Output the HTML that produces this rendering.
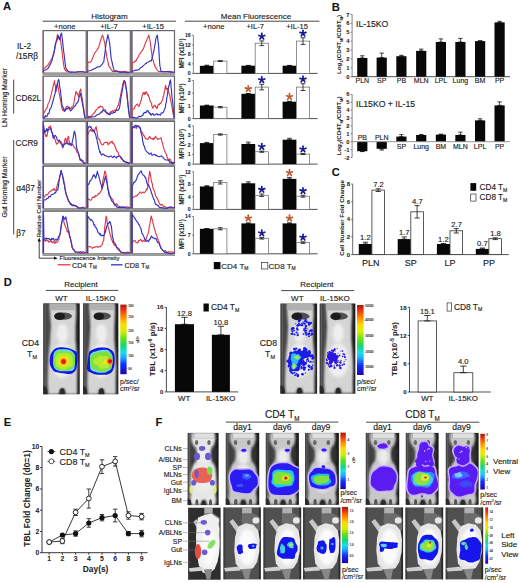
<!DOCTYPE html>
<html><head><meta charset="utf-8"><style>
html,body{margin:0;padding:0;background:#fff;width:520px;height:583px;overflow:hidden}
svg{display:block;font-family:"Liberation Sans", sans-serif}
text{stroke:#222;stroke-width:0.14px}
text[font-weight=bold]{stroke-width:0.05px}
</style></head><body>
<svg width="520" height="583" viewBox="0 0 520 583" font-family='"Liberation Sans", sans-serif'>
<defs><linearGradient id="cbar" x1="0" y1="0" x2="0" y2="1"><stop offset="0" stop-color="#a81808"/><stop offset="0.06" stop-color="#e02a10"/><stop offset="0.16" stop-color="#ff7a00"/><stop offset="0.28" stop-color="#ffd800"/><stop offset="0.38" stop-color="#d8f000"/><stop offset="0.5" stop-color="#58e020"/><stop offset="0.6" stop-color="#10d880"/><stop offset="0.68" stop-color="#18e0e8"/><stop offset="0.76" stop-color="#20a8ff"/><stop offset="0.86" stop-color="#1030ff"/><stop offset="1" stop-color="#2000b0"/></linearGradient><filter id="bl1" x="-20%" y="-20%" width="140%" height="140%"><feGaussianBlur stdDeviation="0.45"/></filter><filter id="bl2" x="-20%" y="-20%" width="140%" height="140%"><feGaussianBlur stdDeviation="0.9"/></filter><filter id="bl3" x="-20%" y="-20%" width="140%" height="140%"><feGaussianBlur stdDeviation="1.6"/></filter><linearGradient id="vbg" x1="0" y1="0" x2="1" y2="0"><stop offset="0" stop-color="#3a3a3a"/><stop offset="0.12" stop-color="#5a5a5a"/><stop offset="0.22" stop-color="#404040"/><stop offset="0.8" stop-color="#2a2a2a"/><stop offset="1" stop-color="#1a1a1a"/></linearGradient><linearGradient id="sbg" x1="0" y1="0" x2="1" y2="0"><stop offset="0" stop-color="#3e3e3e"/><stop offset="0.1" stop-color="#5c5c5c"/><stop offset="0.7" stop-color="#585858"/><stop offset="1" stop-color="#3a3a3a"/></linearGradient><radialGradient id="vbody" cx="0.5" cy="0.45" r="0.6"><stop offset="0" stop-color="#e2e2e2"/><stop offset="0.7" stop-color="#c4c4c4"/><stop offset="1" stop-color="#9a9a9a"/></radialGradient><radialGradient id="sbody" cx="0.55" cy="0.55" r="0.6"><stop offset="0" stop-color="#fafafa"/><stop offset="0.6" stop-color="#e6e6e6"/><stop offset="1" stop-color="#b0b0b0"/></radialGradient></defs>
<defs><clipPath id="cD1"><rect x="43.3" y="303.4" width="36.3" height="90.8"/></clipPath>
<clipPath id="cD2"><rect x="83.0" y="303.4" width="35.3" height="90.8"/></clipPath>
<clipPath id="cD3"><rect x="280.5" y="303.6" width="36.6" height="90.0"/></clipPath>
<clipPath id="cD4"><rect x="319.7" y="303.6" width="35.6" height="90.0"/></clipPath><clipPath id="cFa"><rect x="187.7" y="432.9" width="30.8" height="72.2"/></clipPath>
<clipPath id="cFv0"><rect x="225.8" y="432.9" width="33.4" height="71.9"/></clipPath>
<clipPath id="cFv1"><rect x="265.8" y="432.9" width="33.0" height="71.9"/></clipPath>
<clipPath id="cFv2"><rect x="305.0" y="432.9" width="33.8" height="71.9"/></clipPath>
<clipPath id="cFv3"><rect x="365.8" y="432.9" width="33.4" height="71.9"/></clipPath>
<clipPath id="cFv4"><rect x="405.8" y="432.9" width="32.7" height="71.9"/></clipPath>
<clipPath id="cFv5"><rect x="445.8" y="432.9" width="32.7" height="71.9"/></clipPath>
<clipPath id="cFs"><rect x="188.2" y="507.7" width="32.3" height="72.0"/></clipPath>
<clipPath id="cFs0"><rect x="223.4" y="507.4" width="37.4" height="72.0"/></clipPath>
<clipPath id="cFs1"><rect x="263.4" y="507.4" width="37.8" height="72.0"/></clipPath>
<clipPath id="cFs2"><rect x="303.0" y="507.4" width="37.4" height="72.0"/></clipPath>
<clipPath id="cFs3"><rect x="365.4" y="507.4" width="37.7" height="72.0"/></clipPath>
<clipPath id="cFs4"><rect x="405.4" y="507.4" width="37.8" height="72.0"/></clipPath>
<clipPath id="cFs5"><rect x="445.6" y="507.4" width="37.6" height="72.0"/></clipPath></defs>
<rect width="520" height="583" fill="#fff"/>
<text x="3.0" y="10.2" font-size="11.2" text-anchor="start" font-weight="bold" fill="#111" >A</text>
<text x="109.4" y="19.0" font-size="8" text-anchor="middle" fill="#222" >Histogram</text>
<line x1="42.7" y1="21.2" x2="176" y2="21.2" stroke="#333" stroke-width="0.9"/>
<text x="64.7" y="29.2" font-size="7.6" text-anchor="middle" fill="#222" >+none</text>
<text x="108.9" y="29.2" font-size="7.6" text-anchor="middle" fill="#222" >+IL-7</text>
<text x="153.2" y="29.2" font-size="7.6" text-anchor="middle" fill="#222" >+IL-15</text>
<rect x="43.2" y="30.6" width="43.0" height="42.6" fill="#fff" stroke="#66666c" stroke-width="1.2"/>
<rect x="42.6" y="72.7" width="44.2" height="2.7" fill="#9c9c9c"/>
<line x1="43.2" y1="30.4" x2="43.2" y2="72.7" stroke="#a45a6c" stroke-width="1.3"/>
<polyline points="43.50,72.60 43.50,68.60 44.55,68.21 45.61,67.31 46.66,66.10 47.72,65.40 48.77,63.41 49.83,62.01 50.88,60.19 51.94,58.60 52.68,56.44 53.42,53.36 54.16,51.07 54.89,48.60 55.21,46.90 55.53,45.49 55.84,43.21 56.16,41.40 56.48,39.44 56.79,38.31 57.11,36.44 57.43,34.60 57.74,34.80 58.06,36.09 58.38,36.68 58.69,36.60 59.11,37.37 59.54,37.88 59.96,37.57 60.38,38.20 60.70,41.08 61.01,43.88 61.33,46.22 61.65,48.60 62.07,52.07 62.49,55.12 62.91,59.02 63.33,62.60 63.65,64.43 63.97,66.50 64.28,68.26 64.60,69.40 65.23,69.97 65.87,71.04 66.50,70.91 67.13,71.80 71.77,72.27 76.42,72.06 81.06,71.52 85.70,72.20 85.90,72.60" fill="none" stroke="#dc3a48" stroke-width="1.15" stroke-linejoin="round"/>
<polyline points="43.50,72.60 43.50,70.60 44.55,70.25 45.61,69.89 46.66,69.45 47.72,68.60 48.77,67.13 49.83,64.89 50.88,63.11 51.94,60.60 52.47,58.03 52.99,56.56 53.52,55.13 54.05,52.60 54.37,50.58 54.68,48.68 55.00,45.54 55.32,43.80 55.74,42.96 56.16,41.90 56.58,41.45 57.00,40.60 57.32,39.49 57.64,37.62 57.95,36.66 58.27,35.80 58.59,36.54 58.90,38.30 59.22,39.12 59.54,39.80 59.85,38.09 60.17,37.56 60.49,35.47 60.80,34.60 61.01,34.44 61.22,33.55 61.44,33.10 61.65,33.40 61.96,36.65 62.28,38.65 62.60,41.46 62.91,44.60 63.33,48.68 63.76,52.05 64.18,54.85 64.60,58.60 64.92,61.65 65.23,63.65 65.55,66.31 65.87,68.60 66.60,68.95 67.34,70.53 68.08,70.93 68.82,71.40 69.88,72.16 70.93,72.27 71.98,71.76 73.04,72.20 76.20,72.03 79.37,71.80 82.53,71.77 85.70,72.20 85.90,72.60" fill="none" stroke="#3434c4" stroke-width="1.15" stroke-linejoin="round"/>
<rect x="87.4" y="30.6" width="42.9" height="42.6" fill="#fff" stroke="#66666c" stroke-width="1.2"/>
<rect x="86.8" y="72.7" width="44.1" height="2.7" fill="#9c9c9c"/>
<line x1="87.4" y1="30.4" x2="87.4" y2="72.7" stroke="#7a5a78" stroke-width="1.3"/>
<polyline points="87.70,72.60 87.70,63.00 88.65,62.06 89.59,62.42 90.54,61.82 91.49,61.00 92.33,58.61 93.17,56.79 94.02,54.64 94.86,52.60 95.80,51.58 96.75,50.55 97.70,48.51 98.65,47.80 99.07,45.53 99.49,44.80 99.91,42.62 100.33,41.00 100.86,39.81 101.38,37.40 101.91,36.43 102.44,35.00 102.75,36.17 103.07,36.47 103.38,38.23 103.70,38.60 104.01,40.58 104.33,41.04 104.65,42.53 104.96,44.60 105.38,47.55 105.80,50.93 106.22,53.16 106.65,56.20 107.17,58.36 107.70,61.11 108.22,63.13 108.75,66.20 109.70,67.17 110.64,68.73 111.59,70.09 112.54,71.40 116.85,71.28 121.17,71.48 125.48,71.66 129.80,72.20 130.00,72.60" fill="none" stroke="#dc3a48" stroke-width="1.15" stroke-linejoin="round"/>
<polyline points="87.70,72.60 87.70,71.00 89.49,70.75 91.28,70.19 93.07,69.18 94.86,68.60 96.23,67.71 97.59,66.80 98.96,67.00 100.33,66.20 101.17,65.16 102.01,64.51 102.86,63.05 103.70,62.20 104.01,60.12 104.33,57.13 104.65,55.36 104.96,52.60 105.28,50.38 105.59,47.50 105.91,45.15 106.22,42.60 106.65,40.82 107.07,38.23 107.49,36.66 107.91,34.60 108.33,36.97 108.75,38.32 109.17,40.96 109.59,42.60 110.01,47.02 110.43,51.41 110.86,55.00 111.28,59.40 112.01,61.71 112.75,65.36 113.49,68.17 114.22,70.60 115.49,70.93 116.75,70.91 118.01,71.44 119.28,72.20 121.91,72.36 124.54,71.95 127.17,72.74 129.80,72.20 130.00,72.60" fill="none" stroke="#3434c4" stroke-width="1.15" stroke-linejoin="round"/>
<rect x="131.8" y="30.6" width="42.7" height="42.6" fill="#fff" stroke="#66666c" stroke-width="1.2"/>
<rect x="131.2" y="72.7" width="43.9" height="2.7" fill="#9c9c9c"/>
<line x1="131.8" y1="30.4" x2="131.8" y2="72.7" stroke="#7a5a78" stroke-width="1.3"/>
<polyline points="132.10,72.60 132.10,62.20 133.04,62.55 133.99,62.34 134.93,61.07 135.87,61.40 136.71,59.20 137.55,58.40 138.39,56.58 139.22,54.60 140.17,53.50 141.11,51.77 142.05,50.83 142.99,49.40 143.83,47.43 144.67,45.30 145.51,42.69 146.35,41.00 146.97,39.42 147.60,37.87 148.23,36.77 148.86,35.00 149.17,37.09 149.49,38.54 149.80,39.55 150.12,41.00 150.64,45.13 151.16,49.12 151.69,53.04 152.21,57.80 152.95,59.53 153.68,62.36 154.41,64.48 155.15,67.00 155.98,67.96 156.82,69.67 157.66,70.33 158.50,71.40 162.37,71.67 166.25,71.48 170.12,71.43 174.00,72.20 174.20,72.60" fill="none" stroke="#dc3a48" stroke-width="1.15" stroke-linejoin="round"/>
<polyline points="132.10,72.60 132.10,71.40 133.88,70.69 135.66,69.98 137.44,70.08 139.22,69.40 140.58,67.69 141.95,67.04 143.31,65.64 144.67,64.60 145.51,63.47 146.35,63.41 147.18,62.24 148.02,62.20 148.86,61.82 149.70,61.08 150.54,60.81 151.37,61.00 152.00,58.41 152.63,56.39 153.26,53.05 153.89,51.00 154.41,47.37 154.94,44.55 155.46,41.64 155.98,37.80 156.30,37.19 156.61,36.28 156.93,36.27 157.24,35.00 157.55,36.86 157.87,40.23 158.18,41.95 158.50,44.60 158.81,49.17 159.13,54.14 159.44,59.37 159.75,64.60 160.07,66.68 160.38,67.62 160.70,69.80 161.01,71.40 164.26,71.77 167.51,71.65 170.75,72.06 174.00,72.20 174.20,72.60" fill="none" stroke="#3434c4" stroke-width="1.15" stroke-linejoin="round"/>
<rect x="43.2" y="76.2" width="43.0" height="42.6" fill="#fff" stroke="#66666c" stroke-width="1.2"/>
<rect x="42.6" y="118.3" width="44.2" height="2.7" fill="#9c9c9c"/>
<line x1="43.2" y1="76.0" x2="43.2" y2="118.3" stroke="#a45a6c" stroke-width="1.3"/>
<polyline points="43.50,118.20 43.50,113.80 44.45,112.26 45.40,110.24 46.35,108.88 47.30,107.00 48.14,103.72 48.99,102.52 49.83,99.94 50.67,96.60 51.20,94.85 51.73,91.62 52.26,90.35 52.78,88.20 53.21,85.90 53.63,83.82 54.05,83.54 54.47,80.60 54.89,84.44 55.32,84.95 55.74,89.53 56.16,91.40 56.48,89.54 56.79,86.93 57.11,84.60 57.43,83.00 57.95,86.40 58.48,88.90 59.01,92.43 59.54,95.00 60.17,98.77 60.80,100.96 61.44,105.82 62.07,108.60 62.70,110.21 63.33,110.68 63.97,110.36 64.60,110.60 65.34,108.45 66.08,107.26 66.82,106.46 67.55,106.20 68.29,107.81 69.03,106.95 69.77,107.69 70.51,108.60 71.25,108.72 71.99,106.57 72.72,106.31 73.46,105.40 74.09,101.75 74.73,97.40 75.36,95.09 75.99,91.40 76.63,93.49 77.26,93.21 77.89,94.67 78.53,96.60 79.05,94.50 79.58,91.73 80.11,90.89 80.64,89.00 81.16,92.93 81.69,95.76 82.22,98.68 82.75,101.80 83.27,106.52 83.80,108.79 84.33,113.65 84.86,117.40 85.90,118.20" fill="none" stroke="#dc3a48" stroke-width="1.15" stroke-linejoin="round"/>
<polyline points="43.50,118.20 43.50,117.40 44.45,118.07 45.40,115.48 46.35,116.74 47.30,115.80 48.14,113.21 48.99,113.32 49.83,109.29 50.67,108.60 51.62,106.07 52.57,102.22 53.52,99.22 54.47,95.00 55.00,94.05 55.53,90.20 56.05,88.33 56.58,86.60 57.11,85.28 57.64,82.50 58.16,80.66 58.69,79.40 59.11,81.38 59.54,85.42 59.96,88.06 60.38,89.80 60.80,94.38 61.22,96.96 61.65,102.48 62.07,105.40 62.70,106.93 63.33,107.78 63.97,109.80 64.60,111.40 65.55,110.32 66.50,108.63 67.45,108.85 68.40,107.80 69.03,108.18 69.66,109.36 70.30,110.89 70.93,110.60 71.77,109.83 72.62,108.18 73.46,108.14 74.31,106.20 75.36,105.84 76.42,103.18 77.47,102.72 78.53,100.20 79.05,97.39 79.58,95.97 80.11,94.35 80.64,93.40 81.16,97.41 81.69,99.84 82.22,102.90 82.75,105.40 83.27,107.91 83.80,111.39 84.33,115.29 84.86,117.40 85.90,118.20" fill="none" stroke="#3434c4" stroke-width="1.15" stroke-linejoin="round"/>
<rect x="87.4" y="76.2" width="42.9" height="42.6" fill="#fff" stroke="#66666c" stroke-width="1.2"/>
<rect x="86.8" y="118.3" width="44.1" height="2.7" fill="#9c9c9c"/>
<line x1="87.4" y1="76.0" x2="87.4" y2="118.3" stroke="#7a5a78" stroke-width="1.3"/>
<polyline points="87.70,118.20 87.70,116.60 88.65,116.29 89.59,116.34 90.54,116.98 91.49,115.80 92.33,114.82 93.17,114.02 94.02,113.30 94.86,112.20 95.80,110.17 96.75,109.63 97.70,108.60 98.65,107.00 99.49,107.67 100.33,106.07 101.17,106.55 102.01,107.00 102.65,106.76 103.28,109.11 103.91,109.54 104.54,109.80 105.38,109.75 106.22,112.91 107.07,113.87 107.91,113.80 108.75,113.75 109.59,113.27 110.43,111.81 111.28,112.20 112.43,110.68 113.59,111.47 114.75,109.99 115.91,110.60 116.54,108.59 117.17,107.41 117.80,105.62 118.43,105.40 119.06,102.32 119.70,99.26 120.33,97.19 120.96,93.40 121.49,90.84 122.01,88.52 122.54,85.60 123.06,83.00 123.49,82.97 123.91,82.10 124.33,81.29 124.75,81.40 125.17,84.64 125.59,86.74 126.01,88.48 126.43,89.80 126.96,95.48 127.48,99.78 128.01,104.78 128.54,110.60 128.85,111.81 129.17,113.01 129.48,116.31 129.80,117.40 130.00,118.20" fill="none" stroke="#dc3a48" stroke-width="1.15" stroke-linejoin="round"/>
<polyline points="87.70,118.20 87.70,117.80 89.49,117.18 91.28,117.16 93.07,116.71 94.86,116.60 96.23,115.58 97.59,114.59 98.96,114.26 100.33,113.00 101.17,111.85 102.01,112.11 102.86,110.07 103.70,110.60 104.96,111.14 106.22,112.22 107.49,112.78 108.75,114.60 110.01,114.56 111.28,112.96 112.54,113.47 113.80,112.20 115.17,112.35 116.54,109.83 117.91,110.41 119.28,108.60 119.91,105.51 120.54,101.39 121.17,96.11 121.80,93.40 122.33,90.10 122.85,87.29 123.38,83.33 123.91,80.60 124.33,80.57 124.75,81.36 125.17,81.84 125.59,83.00 126.01,87.06 126.43,89.45 126.85,93.02 127.27,96.60 127.70,101.23 128.12,106.23 128.54,109.02 128.96,113.80 129.17,113.65 129.38,116.69 129.59,117.26 129.80,117.40 130.00,118.20" fill="none" stroke="#3434c4" stroke-width="1.15" stroke-linejoin="round"/>
<rect x="131.8" y="76.2" width="42.7" height="42.6" fill="#fff" stroke="#66666c" stroke-width="1.2"/>
<rect x="131.2" y="118.3" width="43.9" height="2.7" fill="#9c9c9c"/>
<line x1="131.8" y1="76.0" x2="131.8" y2="118.3" stroke="#7a5a78" stroke-width="1.3"/>
<polyline points="132.10,118.20 132.10,109.00 132.62,108.84 133.15,109.16 133.67,109.08 134.20,108.60 134.93,106.68 135.66,105.27 136.39,105.01 137.13,104.20 137.65,104.18 138.18,105.91 138.70,106.14 139.22,106.20 139.85,104.33 140.48,102.13 141.11,100.27 141.74,97.80 142.16,95.68 142.58,95.06 142.99,93.12 143.41,92.60 143.83,93.93 144.25,92.39 144.67,94.53 145.09,94.20 145.40,92.62 145.72,93.43 146.03,92.03 146.35,91.80 146.97,92.88 147.60,95.19 148.23,94.59 148.86,97.00 149.38,97.39 149.91,100.75 150.43,101.22 150.96,102.60 151.48,103.06 152.00,106.52 152.53,107.83 153.05,108.20 153.47,106.61 153.89,106.62 154.31,105.26 154.73,105.40 155.25,105.77 155.77,107.28 156.30,107.03 156.82,108.60 157.34,107.95 157.87,105.37 158.39,104.54 158.92,104.20 159.34,104.73 159.75,103.57 160.17,103.41 160.59,103.40 161.12,102.72 161.64,101.55 162.16,100.43 162.69,99.80 163.11,96.62 163.53,96.12 163.94,94.58 164.36,91.40 164.68,91.00 164.99,88.78 165.31,86.57 165.62,85.40 165.83,86.09 166.04,87.84 166.25,88.80 166.46,89.40 166.77,88.31 167.09,88.39 167.40,88.49 167.72,88.60 168.13,90.03 168.55,92.11 168.97,92.80 169.39,94.20 169.91,95.61 170.44,99.94 170.96,101.54 171.49,104.20 171.91,106.74 172.32,108.56 172.74,111.53 173.16,114.20 174.20,118.20" fill="none" stroke="#dc3a48" stroke-width="1.15" stroke-linejoin="round"/>
<polyline points="132.10,118.20 132.10,117.40 133.67,117.35 135.24,117.91 136.81,118.16 138.39,117.00 139.33,116.12 140.27,116.81 141.21,116.27 142.16,115.40 142.89,115.17 143.62,113.30 144.36,112.51 145.09,113.00 145.72,112.13 146.35,112.37 146.97,110.63 147.60,110.60 148.02,111.10 148.44,111.18 148.86,112.90 149.28,112.60 149.91,114.12 150.54,113.37 151.16,115.25 151.79,114.60 152.84,113.49 153.89,115.12 154.94,115.16 155.98,114.20 156.93,113.50 157.87,114.87 158.81,114.64 159.75,114.60 160.49,115.15 161.22,112.93 161.95,113.19 162.69,112.60 163.32,112.38 163.94,110.72 164.57,108.86 165.20,108.20 165.72,103.94 166.25,102.61 166.77,98.24 167.30,95.00 167.61,94.04 167.92,89.98 168.24,89.42 168.55,86.60 168.97,85.82 169.39,84.57 169.81,80.99 170.23,80.60 170.33,80.41 170.44,79.77 170.54,81.48 170.65,81.00 170.86,83.27 171.07,87.26 171.28,88.51 171.49,91.40 171.91,95.93 172.32,100.05 172.74,102.50 173.16,107.00 173.27,108.53 173.37,110.85 173.48,111.26 173.58,112.60 174.20,118.20" fill="none" stroke="#3434c4" stroke-width="1.15" stroke-linejoin="round"/>
<rect x="43.2" y="121.4" width="43.0" height="42.6" fill="#fff" stroke="#66666c" stroke-width="1.2"/>
<rect x="42.6" y="163.5" width="44.2" height="2.7" fill="#9c9c9c"/>
<line x1="43.2" y1="121.2" x2="43.2" y2="163.5" stroke="#4040c0" stroke-width="1.3"/>
<polyline points="43.50,163.40 43.50,128.60 44.03,131.23 44.55,132.43 45.08,134.31 45.61,135.40 45.93,136.53 46.24,135.25 46.56,136.31 46.88,136.20 47.19,135.23 47.51,133.26 47.83,130.67 48.14,128.60 48.67,127.14 49.20,127.00 49.72,127.64 50.25,125.80 50.78,126.79 51.31,129.18 51.83,132.54 52.36,133.40 53.10,134.98 53.84,136.13 54.58,138.08 55.32,140.20 55.63,142.14 55.95,141.82 56.27,143.03 56.58,144.20 57.22,143.69 57.85,143.30 58.48,141.78 59.11,141.00 59.54,140.74 59.96,142.57 60.38,142.03 60.80,143.80 61.33,143.87 61.86,145.09 62.38,147.24 62.91,147.80 63.55,144.90 64.18,143.44 64.81,139.83 65.44,138.20 65.76,138.52 66.08,139.50 66.39,142.27 66.71,143.00 67.13,142.13 67.55,138.96 67.98,137.30 68.40,136.20 68.71,137.28 69.03,140.93 69.35,142.34 69.66,145.00 70.19,143.86 70.72,144.74 71.25,144.33 71.77,143.80 72.30,144.38 72.83,144.40 73.36,146.22 73.88,146.60 74.52,147.73 75.15,148.45 75.78,148.83 76.42,150.60 76.94,152.29 77.47,152.84 78.00,153.14 78.53,153.40 78.95,156.24 79.37,156.98 79.79,158.14 80.21,160.20 81.27,160.02 82.32,161.85 83.38,162.34 84.43,163.00 85.90,163.40" fill="none" stroke="#dc3a48" stroke-width="1.15" stroke-linejoin="round"/>
<polyline points="43.50,163.40 43.50,125.00 43.82,126.62 44.13,129.78 44.45,131.49 44.77,132.60 45.19,131.14 45.61,131.85 46.03,130.51 46.45,129.40 46.88,128.65 47.30,131.04 47.72,129.74 48.14,130.60 48.67,129.55 49.20,129.23 49.72,129.00 50.25,128.20 50.78,128.44 51.31,130.83 51.83,132.26 52.36,132.60 52.57,134.03 52.78,136.08 53.00,137.09 53.21,138.20 53.73,138.25 54.26,136.07 54.79,135.77 55.32,135.40 55.95,136.53 56.58,136.89 57.22,140.09 57.85,140.20 58.59,140.91 59.33,140.08 60.06,141.59 60.80,141.80 61.33,142.80 61.86,143.49 62.38,144.62 62.91,146.60 63.65,145.61 64.39,143.81 65.13,144.05 65.87,143.00 66.60,143.23 67.34,142.54 68.08,144.46 68.82,143.80 69.56,143.04 70.30,143.65 71.04,145.43 71.77,145.00 72.20,142.16 72.62,140.43 73.04,138.54 73.46,136.20 73.67,134.75 73.88,133.59 74.09,132.31 74.31,131.00 74.62,132.06 74.94,132.18 75.26,135.03 75.57,135.40 75.78,137.70 75.99,139.96 76.20,143.59 76.42,146.60 76.94,149.02 77.47,150.30 78.00,151.60 78.53,153.40 78.95,155.05 79.37,156.16 79.79,158.77 80.21,160.20 80.74,160.06 81.27,159.60 81.80,159.95 82.32,161.00 82.85,160.56 83.38,162.42 83.91,163.38 84.43,163.00 85.90,163.40" fill="none" stroke="#3434c4" stroke-width="1.15" stroke-linejoin="round"/>
<rect x="87.4" y="121.4" width="42.9" height="42.6" fill="#fff" stroke="#66666c" stroke-width="1.2"/>
<rect x="86.8" y="163.5" width="44.1" height="2.7" fill="#9c9c9c"/>
<line x1="87.4" y1="121.2" x2="87.4" y2="163.5" stroke="#505080" stroke-width="1.3"/>
<polyline points="87.70,163.40 87.70,135.40 88.12,133.33 88.54,133.24 88.96,131.81 89.38,130.20 89.91,130.15 90.44,129.55 90.96,130.87 91.49,130.20 92.23,131.31 92.96,131.03 93.70,131.41 94.44,131.80 94.86,129.89 95.28,128.06 95.70,127.60 96.12,126.60 96.65,129.90 97.17,131.81 97.70,136.58 98.23,139.00 98.65,138.78 99.07,139.19 99.49,139.15 99.91,140.60 100.54,142.84 101.17,143.35 101.80,144.76 102.44,145.00 103.38,144.57 104.33,142.53 105.28,142.51 106.22,142.20 106.86,142.69 107.49,142.32 108.12,144.74 108.75,144.20 109.49,143.20 110.22,142.01 110.96,142.83 111.70,141.40 112.33,141.24 112.96,143.78 113.59,143.39 114.22,144.20 114.85,146.02 115.49,147.24 116.12,149.26 116.75,151.00 117.49,151.58 118.22,152.54 118.96,155.74 119.70,156.20 120.43,156.49 121.17,158.64 121.91,158.23 122.64,159.80 123.48,161.38 124.33,161.71 125.17,161.89 126.01,161.80 126.85,162.70 127.70,162.59 128.54,163.23 129.38,163.00 130.00,163.40" fill="none" stroke="#dc3a48" stroke-width="1.15" stroke-linejoin="round"/>
<polyline points="87.70,163.40 87.70,128.20 88.23,128.37 88.75,126.72 89.28,126.32 89.81,126.60 90.44,127.43 91.07,126.78 91.70,129.04 92.33,129.00 93.07,130.71 93.80,130.15 94.54,132.72 95.28,133.40 95.70,134.81 96.12,136.51 96.54,138.64 96.96,139.00 97.49,142.72 98.01,143.99 98.54,147.59 99.07,149.40 99.49,151.16 99.91,152.69 100.33,151.62 100.75,153.80 101.70,155.21 102.65,153.96 103.59,154.15 104.54,155.40 105.91,155.82 107.28,156.58 108.64,157.05 110.01,156.20 111.38,156.19 112.75,157.55 114.12,156.02 115.49,157.40 116.33,158.18 117.17,156.32 118.01,156.60 118.85,156.20 119.59,156.04 120.33,156.55 121.06,157.17 121.80,159.00 122.85,159.93 123.91,160.54 124.96,161.83 126.01,161.80 126.85,162.91 127.70,162.22 128.54,163.50 129.38,163.00 130.00,163.40" fill="none" stroke="#3434c4" stroke-width="1.15" stroke-linejoin="round"/>
<rect x="131.8" y="121.4" width="42.7" height="42.6" fill="#fff" stroke="#66666c" stroke-width="1.2"/>
<rect x="131.2" y="163.5" width="43.9" height="2.7" fill="#9c9c9c"/>
<line x1="131.8" y1="121.2" x2="131.8" y2="163.5" stroke="#505080" stroke-width="1.3"/>
<polyline points="132.10,163.40 132.10,126.60 132.94,127.85 133.78,126.17 134.61,126.10 135.45,127.40 136.39,128.35 137.34,126.27 138.28,125.93 139.22,126.60 139.85,128.25 140.48,128.84 141.11,131.40 141.74,131.80 142.47,132.48 143.20,135.46 143.94,135.28 144.67,137.00 145.30,137.73 145.93,138.99 146.56,138.93 147.18,139.00 147.92,139.47 148.65,138.48 149.38,136.46 150.12,137.00 150.85,138.58 151.58,138.61 152.32,138.66 153.05,139.80 153.68,138.19 154.31,138.80 154.94,137.29 155.56,136.20 156.30,137.91 157.03,138.23 157.76,139.36 158.50,139.00 159.13,138.85 159.75,138.86 160.38,138.36 161.01,137.80 161.43,138.84 161.85,142.05 162.27,142.17 162.69,144.20 163.42,147.05 164.15,149.65 164.89,151.15 165.62,153.00 166.35,153.88 167.09,157.15 167.82,158.49 168.55,159.80 168.97,159.18 169.39,158.96 169.81,160.17 170.23,160.20 170.75,159.72 171.28,162.38 171.80,162.01 172.32,162.60 174.20,163.40" fill="none" stroke="#dc3a48" stroke-width="1.15" stroke-linejoin="round"/>
<polyline points="132.10,163.40 132.10,127.40 132.73,127.54 133.36,127.46 133.99,127.85 134.61,126.60 135.24,125.70 135.87,125.20 136.50,126.75 137.13,125.80 137.86,125.82 138.59,126.31 139.33,127.72 140.06,127.40 140.48,128.67 140.90,132.34 141.32,133.38 141.74,135.40 142.26,137.01 142.78,141.56 143.31,143.37 143.83,145.80 144.46,146.13 145.09,149.18 145.72,150.33 146.35,151.00 147.29,152.25 148.23,152.76 149.17,154.23 150.12,153.80 151.06,152.88 152.00,155.29 152.95,154.73 153.89,154.60 154.83,154.43 155.77,155.66 156.72,155.43 157.66,156.20 158.50,156.55 159.34,156.67 160.17,156.26 161.01,156.20 161.64,155.78 162.27,156.95 162.90,157.24 163.53,158.20 164.57,159.17 165.62,159.99 166.67,160.03 167.72,159.80 168.34,160.57 168.97,160.44 169.60,162.38 170.23,162.60 171.17,162.16 172.11,163.94 173.06,162.15 174.00,163.00 174.20,163.40" fill="none" stroke="#3434c4" stroke-width="1.15" stroke-linejoin="round"/>
<rect x="43.2" y="166.2" width="43.0" height="42.6" fill="#fff" stroke="#66666c" stroke-width="1.2"/>
<rect x="42.6" y="208.3" width="44.2" height="2.7" fill="#9c9c9c"/>
<line x1="43.2" y1="166.0" x2="43.2" y2="208.3" stroke="#4040c0" stroke-width="1.3"/>
<polyline points="43.50,208.20 43.50,197.40 44.34,196.89 45.19,195.72 46.03,194.52 46.88,195.00 47.93,194.35 48.99,192.33 50.04,191.44 51.10,191.00 51.73,190.16 52.36,190.13 53.00,190.32 53.63,188.60 54.26,188.81 54.89,190.34 55.53,190.63 56.16,189.80 56.90,186.71 57.64,183.82 58.38,181.52 59.11,179.80 59.64,178.29 60.17,175.43 60.70,173.86 61.22,170.60 61.65,173.29 62.07,174.16 62.49,175.48 62.91,177.00 63.65,179.91 64.39,183.70 65.13,189.40 65.87,192.60 66.50,194.90 67.13,197.00 67.77,198.45 68.40,200.20 69.35,201.80 70.30,202.92 71.25,204.71 72.20,205.00 73.57,204.61 74.94,205.99 76.31,206.06 77.68,207.00 79.37,207.96 81.06,208.27 82.75,207.03 84.43,207.80 85.90,208.20" fill="none" stroke="#dc3a48" stroke-width="1.15" stroke-linejoin="round"/>
<polyline points="43.50,208.20 43.50,200.20 44.34,199.91 45.19,199.98 46.03,199.57 46.88,198.60 47.93,198.54 48.99,196.31 50.04,196.97 51.10,195.00 52.05,194.55 53.00,194.37 53.94,193.79 54.89,192.60 55.63,192.89 56.37,190.68 57.11,190.19 57.85,189.80 58.27,187.10 58.69,183.60 59.11,180.78 59.54,177.00 59.96,175.09 60.38,174.85 60.80,171.08 61.22,170.60 61.65,173.01 62.07,174.11 62.49,175.21 62.91,178.20 63.65,182.50 64.39,184.97 65.13,189.29 65.87,193.80 66.50,195.30 67.13,196.81 67.77,198.73 68.40,201.40 69.35,201.52 70.30,204.40 71.25,203.74 72.20,205.80 74.20,205.52 76.20,205.83 78.21,208.24 80.21,207.80 85.90,208.20" fill="none" stroke="#3434c4" stroke-width="1.15" stroke-linejoin="round"/>
<rect x="87.4" y="166.2" width="42.9" height="42.6" fill="#fff" stroke="#66666c" stroke-width="1.2"/>
<rect x="86.8" y="208.3" width="44.1" height="2.7" fill="#9c9c9c"/>
<line x1="87.4" y1="166.0" x2="87.4" y2="208.3" stroke="#505080" stroke-width="1.3"/>
<polyline points="87.70,208.20 87.70,200.20 88.44,199.08 89.17,199.31 89.91,199.95 90.65,200.20 91.38,199.92 92.12,197.97 92.86,197.21 93.59,197.40 94.23,196.38 94.86,197.19 95.49,195.39 96.12,195.80 96.86,195.85 97.59,195.17 98.33,193.46 99.07,193.80 99.70,193.08 100.33,192.08 100.96,191.20 101.59,190.60 102.12,188.24 102.65,182.66 103.17,179.00 103.70,176.60 104.01,176.21 104.33,173.58 104.65,171.71 104.96,171.00 105.28,171.61 105.59,172.69 105.91,175.05 106.22,175.00 106.65,177.73 107.07,181.15 107.49,185.40 107.91,188.60 108.64,190.91 109.38,194.04 110.12,195.98 110.86,197.40 111.80,198.57 112.75,199.72 113.70,202.67 114.64,203.40 115.70,205.22 116.75,203.72 117.80,206.04 118.85,206.20 121.59,207.45 124.33,207.35 127.06,206.75 129.80,207.80 130.00,208.20" fill="none" stroke="#dc3a48" stroke-width="1.15" stroke-linejoin="round"/>
<polyline points="87.70,208.20 87.70,185.40 88.23,183.91 88.75,184.31 89.28,183.16 89.81,181.00 90.54,180.86 91.28,179.47 92.02,178.56 92.75,176.60 93.17,175.05 93.59,176.09 94.02,174.82 94.44,175.00 94.75,176.33 95.07,176.44 95.38,177.54 95.70,178.20 96.12,176.50 96.54,174.78 96.96,173.55 97.38,171.00 98.01,174.41 98.65,175.24 99.28,178.60 99.91,180.20 100.44,183.20 100.96,184.15 101.49,185.63 102.01,188.60 102.54,186.89 103.07,185.81 103.59,183.56 104.12,181.80 104.43,179.77 104.75,179.67 105.07,177.50 105.38,176.60 105.80,179.19 106.22,179.24 106.65,181.92 107.07,183.40 107.49,185.74 107.91,189.72 108.33,190.37 108.75,193.80 109.49,196.47 110.22,197.21 110.96,198.91 111.70,201.00 112.64,201.43 113.59,203.19 114.54,205.29 115.49,205.40 116.75,207.05 118.01,207.41 119.28,207.16 120.54,207.40 122.85,206.89 125.17,207.62 127.48,208.04 129.80,207.80 130.00,208.20" fill="none" stroke="#3434c4" stroke-width="1.15" stroke-linejoin="round"/>
<rect x="131.8" y="166.2" width="42.7" height="42.6" fill="#fff" stroke="#66666c" stroke-width="1.2"/>
<rect x="131.2" y="208.3" width="43.9" height="2.7" fill="#9c9c9c"/>
<line x1="131.8" y1="166.0" x2="131.8" y2="208.3" stroke="#505080" stroke-width="1.3"/>
<polyline points="132.10,208.20 132.10,199.00 133.15,197.23 134.20,196.74 135.24,196.15 136.29,195.80 137.02,196.02 137.76,194.39 138.49,194.21 139.22,193.00 140.06,191.88 140.90,192.62 141.74,193.19 142.58,192.20 143.31,192.05 144.04,192.82 144.77,192.48 145.51,191.40 146.03,190.40 146.56,188.85 147.08,189.89 147.60,188.60 147.92,184.74 148.23,181.47 148.55,180.13 148.86,176.60 149.07,176.09 149.28,174.77 149.49,173.74 149.70,171.40 150.01,172.41 150.33,173.84 150.64,175.63 150.96,178.20 151.48,181.90 152.00,182.51 152.53,185.22 153.05,188.60 153.68,189.30 154.31,191.16 154.94,192.94 155.56,195.80 156.51,197.36 157.45,198.83 158.39,201.06 159.34,203.40 160.70,205.19 162.06,204.24 163.42,206.52 164.78,206.60 167.09,207.45 169.39,207.36 171.70,207.67 174.00,207.80 174.20,208.20" fill="none" stroke="#dc3a48" stroke-width="1.15" stroke-linejoin="round"/>
<polyline points="132.10,208.20 132.10,185.40 132.94,184.72 133.78,182.26 134.61,182.37 135.45,181.00 136.08,180.29 136.71,178.77 137.34,176.53 137.97,175.00 138.70,174.30 139.43,172.70 140.17,172.06 140.90,171.00 141.42,171.10 141.95,173.42 142.47,174.23 142.99,175.00 143.62,175.10 144.25,175.92 144.88,177.34 145.51,177.40 146.03,178.97 146.56,181.86 147.08,183.58 147.60,184.20 148.02,185.68 148.44,184.66 148.86,185.32 149.28,187.00 149.70,187.41 150.12,188.48 150.54,190.17 150.96,190.60 151.48,193.05 152.00,194.14 152.53,196.02 153.05,197.40 153.68,199.27 154.31,199.73 154.94,202.56 155.56,204.20 156.51,204.34 157.45,205.61 158.39,205.47 159.34,207.40 163.00,207.86 166.67,208.54 170.33,206.71 174.00,207.80 174.20,208.20" fill="none" stroke="#3434c4" stroke-width="1.15" stroke-linejoin="round"/>
<rect x="43.2" y="211.2" width="43.0" height="42.6" fill="#fff" stroke="#66666c" stroke-width="1.2"/>
<rect x="42.6" y="253.3" width="44.2" height="2.7" fill="#9c9c9c"/>
<line x1="43.2" y1="211.0" x2="43.2" y2="253.3" stroke="#4040c0" stroke-width="1.3"/>
<polyline points="43.50,253.20 43.50,240.00 44.45,240.10 45.40,241.27 46.35,239.52 47.30,240.80 48.04,240.50 48.78,242.26 49.51,241.78 50.25,241.60 50.89,240.85 51.52,241.45 52.15,242.77 52.78,242.00 53.42,242.06 54.05,241.32 54.68,243.51 55.32,242.80 55.95,241.65 56.58,242.52 57.22,242.18 57.85,241.60 58.38,239.91 58.90,239.46 59.43,236.06 59.96,235.20 60.38,232.64 60.80,228.71 61.22,227.87 61.65,224.00 61.96,221.18 62.28,220.03 62.60,218.77 62.91,216.00 63.23,218.58 63.55,218.47 63.86,221.97 64.18,222.80 64.60,224.79 65.02,224.78 65.44,226.99 65.87,227.60 66.18,227.97 66.50,228.80 66.82,229.82 67.13,231.60 67.55,231.16 67.98,232.35 68.40,231.51 68.82,231.60 69.24,234.52 69.66,236.11 70.09,236.33 70.51,238.80 70.93,240.85 71.35,242.20 71.77,245.59 72.20,247.60 72.93,248.95 73.67,250.00 74.41,249.95 75.15,252.00 77.79,252.46 80.43,251.51 83.06,253.38 85.70,252.80 85.90,253.20" fill="none" stroke="#dc3a48" stroke-width="1.15" stroke-linejoin="round"/>
<polyline points="43.50,253.20 43.50,215.20 43.61,220.88 43.71,227.57 43.82,232.84 43.92,240.00 44.77,239.33 45.61,238.42 46.45,237.98 47.30,238.80 48.04,238.60 48.78,238.52 49.51,239.27 50.25,240.00 50.89,240.26 51.52,238.33 52.15,239.39 52.78,238.80 53.42,238.26 54.05,240.08 54.68,240.25 55.32,240.00 55.95,239.04 56.58,240.20 57.22,239.60 57.85,238.80 58.38,236.62 58.90,236.19 59.43,235.66 59.96,234.00 60.38,232.17 60.80,227.65 61.22,225.03 61.65,222.80 61.96,221.93 62.28,220.86 62.60,217.37 62.91,216.80 63.33,216.46 63.76,218.58 64.18,218.18 64.60,219.20 64.92,218.34 65.23,218.87 65.55,217.97 65.87,216.80 66.18,218.67 66.50,220.65 66.82,221.83 67.13,222.80 67.45,225.41 67.77,226.93 68.08,228.71 68.40,230.40 68.93,231.49 69.45,235.54 69.98,237.65 70.51,238.80 70.93,240.66 71.35,243.49 71.77,244.29 72.20,247.60 72.93,248.70 73.67,250.08 74.41,250.43 75.15,252.00 77.79,252.00 80.43,253.17 83.06,251.78 85.70,252.80 85.90,253.20" fill="none" stroke="#3434c4" stroke-width="1.15" stroke-linejoin="round"/>
<rect x="87.4" y="211.2" width="42.9" height="42.6" fill="#fff" stroke="#66666c" stroke-width="1.2"/>
<rect x="86.8" y="253.3" width="44.1" height="2.7" fill="#9c9c9c"/>
<line x1="87.4" y1="211.0" x2="87.4" y2="253.3" stroke="#505080" stroke-width="1.3"/>
<polyline points="87.70,253.20 87.70,246.80 88.65,246.73 89.59,246.58 90.54,246.63 91.49,247.60 92.44,248.35 93.38,247.38 94.33,247.44 95.28,246.80 96.23,246.92 97.17,246.53 98.12,247.33 99.07,246.80 99.70,246.58 100.33,246.65 100.96,245.97 101.59,245.20 102.12,244.88 102.65,242.86 103.17,241.11 103.70,240.80 104.01,236.19 104.33,233.71 104.65,228.64 104.96,225.60 105.28,223.56 105.59,221.08 105.91,217.39 106.22,216.00 106.54,218.55 106.86,218.73 107.17,222.54 107.49,223.60 108.12,226.98 108.75,228.15 109.38,231.92 110.01,234.00 110.43,236.03 110.86,236.14 111.28,238.89 111.70,240.00 112.12,239.83 112.54,242.35 112.96,242.53 113.38,242.80 114.33,245.30 115.28,244.57 116.22,246.58 117.17,248.40 118.01,249.58 118.85,250.45 119.70,250.37 120.54,252.00 122.85,253.09 125.17,253.20 127.48,252.14 129.80,252.80 130.00,253.20" fill="none" stroke="#dc3a48" stroke-width="1.15" stroke-linejoin="round"/>
<polyline points="87.70,253.20 87.70,216.00 88.23,217.59 88.75,217.17 89.28,218.30 89.81,218.80 90.54,220.23 91.28,219.38 92.02,220.64 92.75,221.20 93.38,222.89 94.02,225.23 94.65,224.62 95.28,227.20 96.23,227.71 97.17,229.79 98.12,232.45 99.07,233.20 99.70,234.59 100.33,233.56 100.96,235.96 101.59,235.60 102.33,235.26 103.07,235.88 103.80,235.40 104.54,234.00 104.96,231.76 105.38,232.49 105.80,230.05 106.22,228.80 106.65,226.71 107.07,226.12 107.49,223.92 107.91,223.60 108.43,223.77 108.96,222.90 109.49,221.50 110.01,222.00 110.33,222.27 110.64,223.82 110.96,225.34 111.28,225.60 111.59,228.08 111.91,230.70 112.22,234.27 112.54,237.60 112.96,237.91 113.38,239.82 113.80,242.36 114.22,242.80 114.96,243.27 115.70,244.74 116.43,247.03 117.17,247.60 118.01,248.02 118.85,248.91 119.70,250.32 120.54,252.00 122.85,252.45 125.17,252.89 127.48,253.01 129.80,252.80 130.00,253.20" fill="none" stroke="#3434c4" stroke-width="1.15" stroke-linejoin="round"/>
<rect x="131.8" y="211.2" width="42.7" height="42.6" fill="#fff" stroke="#66666c" stroke-width="1.2"/>
<rect x="131.2" y="253.3" width="43.9" height="2.7" fill="#9c9c9c"/>
<line x1="131.8" y1="211.0" x2="131.8" y2="253.3" stroke="#505080" stroke-width="1.3"/>
<polyline points="132.10,253.20 132.10,242.80 132.73,242.62 133.36,240.71 133.99,240.78 134.61,240.80 135.24,240.66 135.87,242.34 136.50,242.71 137.13,242.80 137.86,243.00 138.59,240.45 139.33,240.52 140.06,240.00 140.69,239.32 141.32,240.15 141.95,241.21 142.58,241.60 143.31,240.31 144.04,240.51 144.77,241.34 145.51,240.80 146.24,238.80 146.97,235.96 147.71,234.71 148.44,232.40 148.86,230.51 149.28,226.06 149.70,225.30 150.12,222.00 150.43,220.96 150.75,218.63 151.06,216.71 151.37,216.00 151.79,218.95 152.21,219.42 152.63,220.76 153.05,223.60 153.57,224.47 154.10,228.00 154.62,229.24 155.15,230.80 155.56,232.71 155.98,233.73 156.40,234.48 156.82,235.60 157.45,238.49 158.08,238.92 158.71,241.12 159.34,242.80 159.96,245.26 160.59,246.47 161.22,248.73 161.85,249.60 163.00,250.48 164.15,251.47 165.31,250.66 166.46,252.40 168.34,251.87 170.23,252.12 172.11,251.73 174.00,252.80 174.20,253.20" fill="none" stroke="#dc3a48" stroke-width="1.15" stroke-linejoin="round"/>
<polyline points="132.10,253.20 132.10,214.40 132.73,214.96 133.36,216.04 133.99,216.99 134.61,218.00 135.24,218.64 135.87,220.03 136.50,220.75 137.13,222.00 137.86,222.24 138.59,224.41 139.33,224.80 140.06,227.20 140.69,227.99 141.32,230.06 141.95,233.37 142.58,234.00 143.31,235.46 144.04,237.11 144.77,239.46 145.51,240.00 146.24,241.32 146.97,240.96 147.71,240.58 148.44,241.60 149.07,240.45 149.70,238.88 150.33,239.05 150.96,236.80 151.48,235.93 152.00,236.91 152.53,237.83 153.05,237.60 153.68,238.03 154.31,238.13 154.94,238.80 155.56,238.40 156.30,238.90 157.03,241.38 157.76,242.65 158.50,242.80 159.13,243.13 159.75,245.22 160.38,246.68 161.01,248.40 161.95,249.13 162.90,250.49 163.84,250.83 164.78,252.40 167.09,252.84 169.39,253.48 171.70,253.68 174.00,252.80 174.20,253.20" fill="none" stroke="#3434c4" stroke-width="1.15" stroke-linejoin="round"/>
<text x="17.0" y="49.4" font-size="8.2" text-anchor="start" fill="#222" >IL-2</text>
<text x="16.0" y="59.0" font-size="8.2" text-anchor="start" fill="#222" >/15R&#946;</text>
<text x="15.6" y="100.6" font-size="8.2" text-anchor="start" fill="#222" >CD62L</text>
<text x="15.6" y="146.2" font-size="8.2" text-anchor="start" fill="#222" >CCR9</text>
<text x="16.2" y="191.4" font-size="8.2" text-anchor="start" fill="#222" >&#945;4&#946;7</text>
<text x="16.2" y="236.2" font-size="8.2" text-anchor="start" fill="#222" >&#946;7</text>
<line x1="13.7" y1="79.6" x2="13.7" y2="113.6" stroke="#333" stroke-width="0.9"/>
<line x1="13.7" y1="140" x2="13.7" y2="234.4" stroke="#333" stroke-width="0.9"/>
<text x="0.0" y="0.0" font-size="7.0" text-anchor="middle" fill="#222" transform="translate(7.4,97.5) rotate(-90)">LN Homing Marker</text>
<text x="0.0" y="0.0" font-size="7.0" text-anchor="middle" fill="#222" transform="translate(7.4,187) rotate(-90)">Gut Homing Marker</text>
<text x="0.0" y="0.0" font-size="6.1" text-anchor="middle" fill="#222" transform="translate(40.9,208.4) rotate(-90)">Relative Cell Number</text>
<line x1="39.2" y1="241" x2="39.2" y2="258.2" stroke="#111" stroke-width="0.8"/>
<polygon points="37.6,241.5 40.8,241.5 39.2,237.6" fill="#111"/>
<line x1="39.2" y1="258.2" x2="54.5" y2="258.2" stroke="#111" stroke-width="0.8"/>
<polygon points="54,256.6 54,259.8 57.6,258.2" fill="#111"/>
<text x="59.5" y="260.3" font-size="6.0" text-anchor="start" fill="#222" >Fluorescence Intensity</text>
<line x1="57.7" y1="264.8" x2="70.4" y2="264.8" stroke="#dc3a48" stroke-width="1.3"/>
<text x="72.0" y="267.6" font-size="7.3" text-anchor="start" fill="#222" >CD4 T<tspan font-size="4.5" dy="1.6">M</tspan></text>
<line x1="111" y1="264.8" x2="122.5" y2="264.8" stroke="#3434c4" stroke-width="1.3"/>
<text x="124.5" y="267.6" font-size="7.3" text-anchor="start" fill="#222" >CD8 T<tspan font-size="4.5" dy="1.6">M</tspan></text>
<text x="256.0" y="19.0" font-size="8" text-anchor="middle" fill="#222" >Mean Fluorescence</text>
<line x1="184.8" y1="21.2" x2="319.4" y2="21.2" stroke="#333" stroke-width="0.9"/>
<text x="213.7" y="29.2" font-size="7.6" text-anchor="middle" fill="#222" >+none</text>
<text x="255.2" y="29.2" font-size="7.6" text-anchor="middle" fill="#222" >+IL-7</text>
<text x="297.0" y="29.2" font-size="7.6" text-anchor="middle" fill="#222" >+IL-15</text>
<line x1="193.4" y1="35.4" x2="193.4" y2="73.4" stroke="#666" stroke-width="0.8"/>
<line x1="191.9" y1="73.4" x2="193.4" y2="73.4" stroke="#666" stroke-width="0.8"/>
<text x="190.7" y="75.3" font-size="5.2" text-anchor="end" font-weight="bold" fill="#222" >0</text>
<line x1="191.9" y1="63.9" x2="193.4" y2="63.9" stroke="#666" stroke-width="0.8"/>
<text x="190.7" y="65.8" font-size="5.2" text-anchor="end" font-weight="bold" fill="#222" >4</text>
<line x1="191.9" y1="54.4" x2="193.4" y2="54.4" stroke="#666" stroke-width="0.8"/>
<text x="190.7" y="56.3" font-size="5.2" text-anchor="end" font-weight="bold" fill="#222" >8</text>
<line x1="191.9" y1="44.9" x2="193.4" y2="44.9" stroke="#666" stroke-width="0.8"/>
<text x="190.7" y="46.8" font-size="5.2" text-anchor="end" font-weight="bold" fill="#222" >12</text>
<line x1="191.9" y1="35.4" x2="193.4" y2="35.4" stroke="#666" stroke-width="0.8"/>
<text x="190.7" y="37.3" font-size="5.2" text-anchor="end" font-weight="bold" fill="#222" >16</text>
<line x1="193.4" y1="73.4" x2="317.6" y2="73.4" stroke="#222" stroke-width="0.8"/>
<text transform="translate(184.0,53.4) rotate(-90)" font-size="6.4" font-weight="bold" text-anchor="middle" fill="#222">MFI (x10<tspan font-size="4.3" dy="-2.2">1</tspan><tspan dy="2.2">)</tspan></text>
<line x1="206.8" y1="65.2" x2="206.8" y2="65.8" stroke="#111" stroke-width="0.8"/><line x1="204.4" y1="65.2" x2="209.2" y2="65.2" stroke="#111" stroke-width="0.8"/><line x1="204.4" y1="65.8" x2="209.2" y2="65.8" stroke="#111" stroke-width="0.8"/>
<rect x="199.9" y="65.8" width="13.8" height="7.6" fill="#080808"/>
<rect x="213.7" y="61.1" width="13.2" height="12.4" fill="#fff" stroke="#777" stroke-width="0.8"/>
<line x1="220.3" y1="60.6" x2="220.3" y2="61.5" stroke="#111" stroke-width="0.8"/><line x1="217.9" y1="60.6" x2="222.7" y2="60.6" stroke="#111" stroke-width="0.8"/><line x1="217.9" y1="61.5" x2="222.7" y2="61.5" stroke="#111" stroke-width="0.8"/>
<line x1="248.3" y1="65.4" x2="248.3" y2="65.7" stroke="#111" stroke-width="0.8"/><line x1="245.9" y1="65.4" x2="250.7" y2="65.4" stroke="#111" stroke-width="0.8"/><line x1="245.9" y1="65.7" x2="250.7" y2="65.7" stroke="#111" stroke-width="0.8"/>
<rect x="241.4" y="65.7" width="13.8" height="7.7" fill="#080808"/>
<rect x="255.2" y="43.2" width="13.2" height="30.2" fill="#fff" stroke="#777" stroke-width="0.8"/>
<line x1="261.8" y1="40.9" x2="261.8" y2="45.6" stroke="#111" stroke-width="0.8"/><line x1="259.4" y1="40.9" x2="264.2" y2="40.9" stroke="#111" stroke-width="0.8"/><line x1="259.4" y1="45.6" x2="264.2" y2="45.6" stroke="#111" stroke-width="0.8"/>
<g><line x1="261.80" y1="36.46" x2="261.80" y2="33.36" stroke="#1a1a90" stroke-width="1.71" stroke-linecap="round"/><line x1="261.80" y1="36.46" x2="264.75" y2="35.50" stroke="#1a1a90" stroke-width="1.71" stroke-linecap="round"/><line x1="261.80" y1="36.46" x2="263.62" y2="38.97" stroke="#1a1a90" stroke-width="1.71" stroke-linecap="round"/><line x1="261.80" y1="36.46" x2="259.98" y2="38.97" stroke="#1a1a90" stroke-width="1.71" stroke-linecap="round"/><line x1="261.80" y1="36.46" x2="258.85" y2="35.50" stroke="#1a1a90" stroke-width="1.71" stroke-linecap="round"/></g>
<line x1="289.5" y1="65.4" x2="289.5" y2="65.7" stroke="#111" stroke-width="0.8"/><line x1="287.1" y1="65.4" x2="291.9" y2="65.4" stroke="#111" stroke-width="0.8"/><line x1="287.1" y1="65.7" x2="291.9" y2="65.7" stroke="#111" stroke-width="0.8"/>
<rect x="282.6" y="65.7" width="13.8" height="7.7" fill="#080808"/>
<rect x="296.4" y="41.1" width="13.2" height="32.3" fill="#fff" stroke="#777" stroke-width="0.8"/>
<line x1="303.0" y1="37.8" x2="303.0" y2="44.4" stroke="#111" stroke-width="0.8"/><line x1="300.6" y1="37.8" x2="305.4" y2="37.8" stroke="#111" stroke-width="0.8"/><line x1="300.6" y1="44.4" x2="305.4" y2="44.4" stroke="#111" stroke-width="0.8"/>
<g><line x1="303.00" y1="33.38" x2="303.00" y2="30.28" stroke="#1a1a90" stroke-width="1.71" stroke-linecap="round"/><line x1="303.00" y1="33.38" x2="305.95" y2="32.42" stroke="#1a1a90" stroke-width="1.71" stroke-linecap="round"/><line x1="303.00" y1="33.38" x2="304.82" y2="35.88" stroke="#1a1a90" stroke-width="1.71" stroke-linecap="round"/><line x1="303.00" y1="33.38" x2="301.18" y2="35.88" stroke="#1a1a90" stroke-width="1.71" stroke-linecap="round"/><line x1="303.00" y1="33.38" x2="300.05" y2="32.42" stroke="#1a1a90" stroke-width="1.71" stroke-linecap="round"/></g>
<line x1="193.4" y1="80.5" x2="193.4" y2="118.6" stroke="#666" stroke-width="0.8"/>
<line x1="191.9" y1="118.6" x2="193.4" y2="118.6" stroke="#666" stroke-width="0.8"/>
<text x="190.7" y="120.5" font-size="5.2" text-anchor="end" font-weight="bold" fill="#222" >0</text>
<line x1="191.9" y1="105.9" x2="193.4" y2="105.9" stroke="#666" stroke-width="0.8"/>
<text x="190.7" y="107.8" font-size="5.2" text-anchor="end" font-weight="bold" fill="#222" >1</text>
<line x1="191.9" y1="93.2" x2="193.4" y2="93.2" stroke="#666" stroke-width="0.8"/>
<text x="190.7" y="95.1" font-size="5.2" text-anchor="end" font-weight="bold" fill="#222" >2</text>
<line x1="191.9" y1="80.5" x2="193.4" y2="80.5" stroke="#666" stroke-width="0.8"/>
<text x="190.7" y="82.4" font-size="5.2" text-anchor="end" font-weight="bold" fill="#222" >3</text>
<line x1="193.4" y1="118.6" x2="317.6" y2="118.6" stroke="#222" stroke-width="0.8"/>
<text transform="translate(184.0,98.5) rotate(-90)" font-size="6.4" font-weight="bold" text-anchor="middle" fill="#222">MFI (x10<tspan font-size="4.3" dy="-2.2">3</tspan><tspan dy="2.2">)</tspan></text>
<line x1="206.8" y1="105.1" x2="206.8" y2="105.5" stroke="#111" stroke-width="0.8"/><line x1="204.4" y1="105.1" x2="209.2" y2="105.1" stroke="#111" stroke-width="0.8"/><line x1="204.4" y1="105.5" x2="209.2" y2="105.5" stroke="#111" stroke-width="0.8"/>
<rect x="199.9" y="105.5" width="13.8" height="13.1" fill="#080808"/>
<rect x="213.7" y="107.2" width="13.2" height="11.4" fill="#fff" stroke="#777" stroke-width="0.8"/>
<line x1="220.3" y1="106.5" x2="220.3" y2="107.8" stroke="#111" stroke-width="0.8"/><line x1="217.9" y1="106.5" x2="222.7" y2="106.5" stroke="#111" stroke-width="0.8"/><line x1="217.9" y1="107.8" x2="222.7" y2="107.8" stroke="#111" stroke-width="0.8"/>
<line x1="248.3" y1="93.5" x2="248.3" y2="93.8" stroke="#111" stroke-width="0.8"/><line x1="245.9" y1="93.5" x2="250.7" y2="93.5" stroke="#111" stroke-width="0.8"/><line x1="245.9" y1="93.8" x2="250.7" y2="93.8" stroke="#111" stroke-width="0.8"/>
<rect x="241.4" y="93.8" width="13.8" height="24.8" fill="#080808"/>
<rect x="255.2" y="87.1" width="13.2" height="31.5" fill="#fff" stroke="#777" stroke-width="0.8"/>
<line x1="261.8" y1="84.3" x2="261.8" y2="89.9" stroke="#111" stroke-width="0.8"/><line x1="259.4" y1="84.3" x2="264.2" y2="84.3" stroke="#111" stroke-width="0.8"/><line x1="259.4" y1="89.9" x2="264.2" y2="89.9" stroke="#111" stroke-width="0.8"/>
<g><line x1="248.30" y1="88.85" x2="248.30" y2="85.75" stroke="#c05a30" stroke-width="1.71" stroke-linecap="round"/><line x1="248.30" y1="88.85" x2="251.25" y2="87.90" stroke="#c05a30" stroke-width="1.71" stroke-linecap="round"/><line x1="248.30" y1="88.85" x2="250.12" y2="91.36" stroke="#c05a30" stroke-width="1.71" stroke-linecap="round"/><line x1="248.30" y1="88.85" x2="246.48" y2="91.36" stroke="#c05a30" stroke-width="1.71" stroke-linecap="round"/><line x1="248.30" y1="88.85" x2="245.35" y2="87.90" stroke="#c05a30" stroke-width="1.71" stroke-linecap="round"/></g>
<g><line x1="261.80" y1="79.91" x2="261.80" y2="76.81" stroke="#1a1a90" stroke-width="1.71" stroke-linecap="round"/><line x1="261.80" y1="79.91" x2="264.75" y2="78.95" stroke="#1a1a90" stroke-width="1.71" stroke-linecap="round"/><line x1="261.80" y1="79.91" x2="263.62" y2="82.42" stroke="#1a1a90" stroke-width="1.71" stroke-linecap="round"/><line x1="261.80" y1="79.91" x2="259.98" y2="82.42" stroke="#1a1a90" stroke-width="1.71" stroke-linecap="round"/><line x1="261.80" y1="79.91" x2="258.85" y2="78.95" stroke="#1a1a90" stroke-width="1.71" stroke-linecap="round"/></g>
<line x1="289.5" y1="101.3" x2="289.5" y2="101.7" stroke="#111" stroke-width="0.8"/><line x1="287.1" y1="101.3" x2="291.9" y2="101.3" stroke="#111" stroke-width="0.8"/><line x1="287.1" y1="101.7" x2="291.9" y2="101.7" stroke="#111" stroke-width="0.8"/>
<rect x="282.6" y="101.7" width="13.8" height="16.9" fill="#080808"/>
<rect x="296.4" y="87.1" width="13.2" height="31.5" fill="#fff" stroke="#777" stroke-width="0.8"/>
<line x1="303.0" y1="83.7" x2="303.0" y2="90.5" stroke="#111" stroke-width="0.8"/><line x1="300.6" y1="83.7" x2="305.4" y2="83.7" stroke="#111" stroke-width="0.8"/><line x1="300.6" y1="90.5" x2="305.4" y2="90.5" stroke="#111" stroke-width="0.8"/>
<g><line x1="289.50" y1="96.73" x2="289.50" y2="93.63" stroke="#c05a30" stroke-width="1.71" stroke-linecap="round"/><line x1="289.50" y1="96.73" x2="292.45" y2="95.77" stroke="#c05a30" stroke-width="1.71" stroke-linecap="round"/><line x1="289.50" y1="96.73" x2="291.32" y2="99.24" stroke="#c05a30" stroke-width="1.71" stroke-linecap="round"/><line x1="289.50" y1="96.73" x2="287.68" y2="99.24" stroke="#c05a30" stroke-width="1.71" stroke-linecap="round"/><line x1="289.50" y1="96.73" x2="286.55" y2="95.77" stroke="#c05a30" stroke-width="1.71" stroke-linecap="round"/></g>
<g><line x1="303.00" y1="79.27" x2="303.00" y2="76.17" stroke="#1a1a90" stroke-width="1.71" stroke-linecap="round"/><line x1="303.00" y1="79.27" x2="305.95" y2="78.32" stroke="#1a1a90" stroke-width="1.71" stroke-linecap="round"/><line x1="303.00" y1="79.27" x2="304.82" y2="81.78" stroke="#1a1a90" stroke-width="1.71" stroke-linecap="round"/><line x1="303.00" y1="79.27" x2="301.18" y2="81.78" stroke="#1a1a90" stroke-width="1.71" stroke-linecap="round"/><line x1="303.00" y1="79.27" x2="300.05" y2="78.32" stroke="#1a1a90" stroke-width="1.71" stroke-linecap="round"/></g>
<line x1="193.4" y1="125.9" x2="193.4" y2="164.1" stroke="#666" stroke-width="0.8"/>
<line x1="191.9" y1="164.1" x2="193.4" y2="164.1" stroke="#666" stroke-width="0.8"/>
<text x="190.7" y="166.0" font-size="5.2" text-anchor="end" font-weight="bold" fill="#222" >0</text>
<line x1="191.9" y1="154.5" x2="193.4" y2="154.5" stroke="#666" stroke-width="0.8"/>
<text x="190.7" y="156.4" font-size="5.2" text-anchor="end" font-weight="bold" fill="#222" >1</text>
<line x1="191.9" y1="145.0" x2="193.4" y2="145.0" stroke="#666" stroke-width="0.8"/>
<text x="190.7" y="146.9" font-size="5.2" text-anchor="end" font-weight="bold" fill="#222" >2</text>
<line x1="191.9" y1="135.4" x2="193.4" y2="135.4" stroke="#666" stroke-width="0.8"/>
<text x="190.7" y="137.3" font-size="5.2" text-anchor="end" font-weight="bold" fill="#222" >3</text>
<line x1="191.9" y1="125.9" x2="193.4" y2="125.9" stroke="#666" stroke-width="0.8"/>
<text x="190.7" y="127.8" font-size="5.2" text-anchor="end" font-weight="bold" fill="#222" >4</text>
<line x1="193.4" y1="164.1" x2="317.6" y2="164.1" stroke="#222" stroke-width="0.8"/>
<text transform="translate(184.0,144.0) rotate(-90)" font-size="6.4" font-weight="bold" text-anchor="middle" fill="#222">MFI (x10<tspan font-size="4.3" dy="-2.2">2</tspan><tspan dy="2.2">)</tspan></text>
<line x1="206.8" y1="142.4" x2="206.8" y2="143.1" stroke="#111" stroke-width="0.8"/><line x1="204.4" y1="142.4" x2="209.2" y2="142.4" stroke="#111" stroke-width="0.8"/><line x1="204.4" y1="143.1" x2="209.2" y2="143.1" stroke="#111" stroke-width="0.8"/>
<rect x="199.9" y="143.1" width="13.8" height="21.0" fill="#080808"/>
<rect x="213.7" y="134.5" width="13.2" height="29.6" fill="#fff" stroke="#777" stroke-width="0.8"/>
<line x1="220.3" y1="133.9" x2="220.3" y2="135.1" stroke="#111" stroke-width="0.8"/><line x1="217.9" y1="133.9" x2="222.7" y2="133.9" stroke="#111" stroke-width="0.8"/><line x1="217.9" y1="135.1" x2="222.7" y2="135.1" stroke="#111" stroke-width="0.8"/>
<line x1="248.3" y1="142.1" x2="248.3" y2="144.0" stroke="#111" stroke-width="0.8"/><line x1="245.9" y1="142.1" x2="250.7" y2="142.1" stroke="#111" stroke-width="0.8"/><line x1="245.9" y1="144.0" x2="250.7" y2="144.0" stroke="#111" stroke-width="0.8"/>
<rect x="241.4" y="144.0" width="13.8" height="20.1" fill="#080808"/>
<rect x="255.2" y="151.7" width="13.2" height="12.4" fill="#fff" stroke="#777" stroke-width="0.8"/>
<line x1="261.8" y1="151.1" x2="261.8" y2="152.3" stroke="#111" stroke-width="0.8"/><line x1="259.4" y1="151.1" x2="264.2" y2="151.1" stroke="#111" stroke-width="0.8"/><line x1="259.4" y1="152.3" x2="264.2" y2="152.3" stroke="#111" stroke-width="0.8"/>
<g><line x1="261.80" y1="146.71" x2="261.80" y2="143.61" stroke="#1a1a90" stroke-width="1.71" stroke-linecap="round"/><line x1="261.80" y1="146.71" x2="264.75" y2="145.75" stroke="#1a1a90" stroke-width="1.71" stroke-linecap="round"/><line x1="261.80" y1="146.71" x2="263.62" y2="149.22" stroke="#1a1a90" stroke-width="1.71" stroke-linecap="round"/><line x1="261.80" y1="146.71" x2="259.98" y2="149.22" stroke="#1a1a90" stroke-width="1.71" stroke-linecap="round"/><line x1="261.80" y1="146.71" x2="258.85" y2="145.75" stroke="#1a1a90" stroke-width="1.71" stroke-linecap="round"/></g>
<line x1="289.5" y1="138.3" x2="289.5" y2="139.7" stroke="#111" stroke-width="0.8"/><line x1="287.1" y1="138.3" x2="291.9" y2="138.3" stroke="#111" stroke-width="0.8"/><line x1="287.1" y1="139.7" x2="291.9" y2="139.7" stroke="#111" stroke-width="0.8"/>
<rect x="282.6" y="139.7" width="13.8" height="24.4" fill="#080808"/>
<rect x="296.4" y="154.1" width="13.2" height="10.0" fill="#fff" stroke="#777" stroke-width="0.8"/>
<line x1="303.0" y1="153.6" x2="303.0" y2="154.5" stroke="#111" stroke-width="0.8"/><line x1="300.6" y1="153.6" x2="305.4" y2="153.6" stroke="#111" stroke-width="0.8"/><line x1="300.6" y1="154.5" x2="305.4" y2="154.5" stroke="#111" stroke-width="0.8"/>
<g><line x1="303.00" y1="149.19" x2="303.00" y2="146.09" stroke="#1a1a90" stroke-width="1.71" stroke-linecap="round"/><line x1="303.00" y1="149.19" x2="305.95" y2="148.24" stroke="#1a1a90" stroke-width="1.71" stroke-linecap="round"/><line x1="303.00" y1="149.19" x2="304.82" y2="151.70" stroke="#1a1a90" stroke-width="1.71" stroke-linecap="round"/><line x1="303.00" y1="149.19" x2="301.18" y2="151.70" stroke="#1a1a90" stroke-width="1.71" stroke-linecap="round"/><line x1="303.00" y1="149.19" x2="300.05" y2="148.24" stroke="#1a1a90" stroke-width="1.71" stroke-linecap="round"/></g>
<line x1="193.4" y1="171.7" x2="193.4" y2="209.4" stroke="#666" stroke-width="0.8"/>
<line x1="191.9" y1="209.4" x2="193.4" y2="209.4" stroke="#666" stroke-width="0.8"/>
<text x="190.7" y="211.3" font-size="5.2" text-anchor="end" font-weight="bold" fill="#222" >0</text>
<line x1="191.9" y1="196.8" x2="193.4" y2="196.8" stroke="#666" stroke-width="0.8"/>
<text x="190.7" y="198.7" font-size="5.2" text-anchor="end" font-weight="bold" fill="#222" >4</text>
<line x1="191.9" y1="184.3" x2="193.4" y2="184.3" stroke="#666" stroke-width="0.8"/>
<text x="190.7" y="186.2" font-size="5.2" text-anchor="end" font-weight="bold" fill="#222" >8</text>
<line x1="191.9" y1="171.7" x2="193.4" y2="171.7" stroke="#666" stroke-width="0.8"/>
<text x="190.7" y="173.6" font-size="5.2" text-anchor="end" font-weight="bold" fill="#222" >12</text>
<line x1="193.4" y1="209.4" x2="317.6" y2="209.4" stroke="#222" stroke-width="0.8"/>
<text transform="translate(184.0,189.6) rotate(-90)" font-size="6.4" font-weight="bold" text-anchor="middle" fill="#222">MFI (x10<tspan font-size="4.3" dy="-2.2">1</tspan><tspan dy="2.2">)</tspan></text>
<line x1="206.8" y1="185.7" x2="206.8" y2="186.5" stroke="#111" stroke-width="0.8"/><line x1="204.4" y1="185.7" x2="209.2" y2="185.7" stroke="#111" stroke-width="0.8"/><line x1="204.4" y1="186.5" x2="209.2" y2="186.5" stroke="#111" stroke-width="0.8"/>
<rect x="199.9" y="186.5" width="13.8" height="22.9" fill="#080808"/>
<rect x="213.7" y="182.4" width="13.2" height="27.0" fill="#fff" stroke="#777" stroke-width="0.8"/>
<line x1="220.3" y1="180.8" x2="220.3" y2="184.0" stroke="#111" stroke-width="0.8"/><line x1="217.9" y1="180.8" x2="222.7" y2="180.8" stroke="#111" stroke-width="0.8"/><line x1="217.9" y1="184.0" x2="222.7" y2="184.0" stroke="#111" stroke-width="0.8"/>
<line x1="248.3" y1="181.8" x2="248.3" y2="183.3" stroke="#111" stroke-width="0.8"/><line x1="245.9" y1="181.8" x2="250.7" y2="181.8" stroke="#111" stroke-width="0.8"/><line x1="245.9" y1="183.3" x2="250.7" y2="183.3" stroke="#111" stroke-width="0.8"/>
<rect x="241.4" y="183.3" width="13.8" height="26.1" fill="#080808"/>
<rect x="255.2" y="195.3" width="13.2" height="14.1" fill="#fff" stroke="#777" stroke-width="0.8"/>
<line x1="261.8" y1="194.0" x2="261.8" y2="196.5" stroke="#111" stroke-width="0.8"/><line x1="259.4" y1="194.0" x2="264.2" y2="194.0" stroke="#111" stroke-width="0.8"/><line x1="259.4" y1="196.5" x2="264.2" y2="196.5" stroke="#111" stroke-width="0.8"/>
<g><line x1="261.80" y1="189.61" x2="261.80" y2="186.51" stroke="#1a1a90" stroke-width="1.71" stroke-linecap="round"/><line x1="261.80" y1="189.61" x2="264.75" y2="188.66" stroke="#1a1a90" stroke-width="1.71" stroke-linecap="round"/><line x1="261.80" y1="189.61" x2="263.62" y2="192.12" stroke="#1a1a90" stroke-width="1.71" stroke-linecap="round"/><line x1="261.80" y1="189.61" x2="259.98" y2="192.12" stroke="#1a1a90" stroke-width="1.71" stroke-linecap="round"/><line x1="261.80" y1="189.61" x2="258.85" y2="188.66" stroke="#1a1a90" stroke-width="1.71" stroke-linecap="round"/></g>
<line x1="289.5" y1="177.4" x2="289.5" y2="178.9" stroke="#111" stroke-width="0.8"/><line x1="287.1" y1="177.4" x2="291.9" y2="177.4" stroke="#111" stroke-width="0.8"/><line x1="287.1" y1="178.9" x2="291.9" y2="178.9" stroke="#111" stroke-width="0.8"/>
<rect x="282.6" y="178.9" width="13.8" height="30.5" fill="#080808"/>
<rect x="296.4" y="196.2" width="13.2" height="13.2" fill="#fff" stroke="#777" stroke-width="0.8"/>
<line x1="303.0" y1="195.3" x2="303.0" y2="197.2" stroke="#111" stroke-width="0.8"/><line x1="300.6" y1="195.3" x2="305.4" y2="195.3" stroke="#111" stroke-width="0.8"/><line x1="300.6" y1="197.2" x2="305.4" y2="197.2" stroke="#111" stroke-width="0.8"/>
<g><line x1="289.50" y1="172.77" x2="289.50" y2="169.67" stroke="#c05a30" stroke-width="1.71" stroke-linecap="round"/><line x1="289.50" y1="172.77" x2="292.45" y2="171.81" stroke="#c05a30" stroke-width="1.71" stroke-linecap="round"/><line x1="289.50" y1="172.77" x2="291.32" y2="175.28" stroke="#c05a30" stroke-width="1.71" stroke-linecap="round"/><line x1="289.50" y1="172.77" x2="287.68" y2="175.28" stroke="#c05a30" stroke-width="1.71" stroke-linecap="round"/><line x1="289.50" y1="172.77" x2="286.55" y2="171.81" stroke="#c05a30" stroke-width="1.71" stroke-linecap="round"/></g>
<g><line x1="303.00" y1="190.87" x2="303.00" y2="187.77" stroke="#1a1a90" stroke-width="1.71" stroke-linecap="round"/><line x1="303.00" y1="190.87" x2="305.95" y2="189.91" stroke="#1a1a90" stroke-width="1.71" stroke-linecap="round"/><line x1="303.00" y1="190.87" x2="304.82" y2="193.38" stroke="#1a1a90" stroke-width="1.71" stroke-linecap="round"/><line x1="303.00" y1="190.87" x2="301.18" y2="193.38" stroke="#1a1a90" stroke-width="1.71" stroke-linecap="round"/><line x1="303.00" y1="190.87" x2="300.05" y2="189.91" stroke="#1a1a90" stroke-width="1.71" stroke-linecap="round"/></g>
<line x1="193.4" y1="216.5" x2="193.4" y2="253.8" stroke="#666" stroke-width="0.8"/>
<line x1="191.9" y1="253.8" x2="193.4" y2="253.8" stroke="#666" stroke-width="0.8"/>
<text x="190.7" y="255.7" font-size="5.2" text-anchor="end" font-weight="bold" fill="#222" >0</text>
<line x1="191.9" y1="235.2" x2="193.4" y2="235.2" stroke="#666" stroke-width="0.8"/>
<text x="190.7" y="237.0" font-size="5.2" text-anchor="end" font-weight="bold" fill="#222" >7</text>
<line x1="191.9" y1="216.5" x2="193.4" y2="216.5" stroke="#666" stroke-width="0.8"/>
<text x="190.7" y="218.4" font-size="5.2" text-anchor="end" font-weight="bold" fill="#222" >14</text>
<line x1="193.4" y1="253.8" x2="317.6" y2="253.8" stroke="#222" stroke-width="0.8"/>
<text transform="translate(184.0,234.2) rotate(-90)" font-size="6.4" font-weight="bold" text-anchor="middle" fill="#222">MFI (x10<tspan font-size="4.3" dy="-2.2">1</tspan><tspan dy="2.2">)</tspan></text>
<line x1="206.8" y1="228.5" x2="206.8" y2="228.8" stroke="#111" stroke-width="0.8"/><line x1="204.4" y1="228.5" x2="209.2" y2="228.5" stroke="#111" stroke-width="0.8"/><line x1="204.4" y1="228.8" x2="209.2" y2="228.8" stroke="#111" stroke-width="0.8"/>
<rect x="199.9" y="228.8" width="13.8" height="25.0" fill="#080808"/>
<rect x="213.7" y="228.8" width="13.2" height="25.0" fill="#fff" stroke="#777" stroke-width="0.8"/>
<line x1="220.3" y1="227.7" x2="220.3" y2="229.8" stroke="#111" stroke-width="0.8"/><line x1="217.9" y1="227.7" x2="222.7" y2="227.7" stroke="#111" stroke-width="0.8"/><line x1="217.9" y1="229.8" x2="222.7" y2="229.8" stroke="#111" stroke-width="0.8"/>
<line x1="248.3" y1="222.9" x2="248.3" y2="223.4" stroke="#111" stroke-width="0.8"/><line x1="245.9" y1="222.9" x2="250.7" y2="222.9" stroke="#111" stroke-width="0.8"/><line x1="245.9" y1="223.4" x2="250.7" y2="223.4" stroke="#111" stroke-width="0.8"/>
<rect x="241.4" y="223.4" width="13.8" height="30.4" fill="#080808"/>
<rect x="255.2" y="238.3" width="13.2" height="15.5" fill="#fff" stroke="#777" stroke-width="0.8"/>
<line x1="261.8" y1="237.5" x2="261.8" y2="239.1" stroke="#111" stroke-width="0.8"/><line x1="259.4" y1="237.5" x2="264.2" y2="237.5" stroke="#111" stroke-width="0.8"/><line x1="259.4" y1="239.1" x2="264.2" y2="239.1" stroke="#111" stroke-width="0.8"/>
<g><line x1="248.30" y1="218.30" x2="248.30" y2="215.20" stroke="#c05a30" stroke-width="1.71" stroke-linecap="round"/><line x1="248.30" y1="218.30" x2="251.25" y2="217.34" stroke="#c05a30" stroke-width="1.71" stroke-linecap="round"/><line x1="248.30" y1="218.30" x2="250.12" y2="220.81" stroke="#c05a30" stroke-width="1.71" stroke-linecap="round"/><line x1="248.30" y1="218.30" x2="246.48" y2="220.81" stroke="#c05a30" stroke-width="1.71" stroke-linecap="round"/><line x1="248.30" y1="218.30" x2="245.35" y2="217.34" stroke="#c05a30" stroke-width="1.71" stroke-linecap="round"/></g>
<g><line x1="261.80" y1="233.15" x2="261.80" y2="230.05" stroke="#1a1a90" stroke-width="1.71" stroke-linecap="round"/><line x1="261.80" y1="233.15" x2="264.75" y2="232.19" stroke="#1a1a90" stroke-width="1.71" stroke-linecap="round"/><line x1="261.80" y1="233.15" x2="263.62" y2="235.66" stroke="#1a1a90" stroke-width="1.71" stroke-linecap="round"/><line x1="261.80" y1="233.15" x2="259.98" y2="235.66" stroke="#1a1a90" stroke-width="1.71" stroke-linecap="round"/><line x1="261.80" y1="233.15" x2="258.85" y2="232.19" stroke="#1a1a90" stroke-width="1.71" stroke-linecap="round"/></g>
<line x1="289.5" y1="222.9" x2="289.5" y2="223.4" stroke="#111" stroke-width="0.8"/><line x1="287.1" y1="222.9" x2="291.9" y2="222.9" stroke="#111" stroke-width="0.8"/><line x1="287.1" y1="223.4" x2="291.9" y2="223.4" stroke="#111" stroke-width="0.8"/>
<rect x="282.6" y="223.4" width="13.8" height="30.4" fill="#080808"/>
<rect x="296.4" y="242.6" width="13.2" height="11.2" fill="#fff" stroke="#777" stroke-width="0.8"/>
<line x1="303.0" y1="241.8" x2="303.0" y2="243.4" stroke="#111" stroke-width="0.8"/><line x1="300.6" y1="241.8" x2="305.4" y2="241.8" stroke="#111" stroke-width="0.8"/><line x1="300.6" y1="243.4" x2="305.4" y2="243.4" stroke="#111" stroke-width="0.8"/>
<g><line x1="289.50" y1="218.30" x2="289.50" y2="215.20" stroke="#c05a30" stroke-width="1.71" stroke-linecap="round"/><line x1="289.50" y1="218.30" x2="292.45" y2="217.34" stroke="#c05a30" stroke-width="1.71" stroke-linecap="round"/><line x1="289.50" y1="218.30" x2="291.32" y2="220.81" stroke="#c05a30" stroke-width="1.71" stroke-linecap="round"/><line x1="289.50" y1="218.30" x2="287.68" y2="220.81" stroke="#c05a30" stroke-width="1.71" stroke-linecap="round"/><line x1="289.50" y1="218.30" x2="286.55" y2="217.34" stroke="#c05a30" stroke-width="1.71" stroke-linecap="round"/></g>
<g><line x1="303.00" y1="237.41" x2="303.00" y2="234.31" stroke="#1a1a90" stroke-width="1.71" stroke-linecap="round"/><line x1="303.00" y1="237.41" x2="305.95" y2="236.45" stroke="#1a1a90" stroke-width="1.71" stroke-linecap="round"/><line x1="303.00" y1="237.41" x2="304.82" y2="239.92" stroke="#1a1a90" stroke-width="1.71" stroke-linecap="round"/><line x1="303.00" y1="237.41" x2="301.18" y2="239.92" stroke="#1a1a90" stroke-width="1.71" stroke-linecap="round"/><line x1="303.00" y1="237.41" x2="300.05" y2="236.45" stroke="#1a1a90" stroke-width="1.71" stroke-linecap="round"/></g>
<rect x="213.8" y="262" width="6.7" height="7.2" fill="#080808"/>
<text x="221.3" y="268.6" font-size="8.0" text-anchor="start" fill="#222" >CD4 T<tspan font-size="5.0" dy="1.8">M</tspan></text>
<rect x="261.6" y="262.4" width="6.2" height="6.6" fill="#fff" stroke="#333" stroke-width="0.7"/>
<text x="268.6" y="268.6" font-size="8.0" text-anchor="start" fill="#222" >CD8 T<tspan font-size="5.0" dy="1.8">M</tspan></text>
<text x="331.8" y="11.3" font-size="11.2" text-anchor="start" font-weight="bold" fill="#111" >B</text>
<line x1="352.1" y1="14.4" x2="352.1" y2="76.7" stroke="#666" stroke-width="0.8"/>
<line x1="350.6" y1="76.7" x2="352.1" y2="76.7" stroke="#666" stroke-width="0.8"/>
<text x="349.4" y="78.8" font-size="5.8" text-anchor="end" font-weight="bold" fill="#222" >0</text>
<line x1="350.6" y1="67.8" x2="352.1" y2="67.8" stroke="#666" stroke-width="0.8"/>
<text x="349.4" y="69.9" font-size="5.8" text-anchor="end" font-weight="bold" fill="#222" >1</text>
<line x1="350.6" y1="58.9" x2="352.1" y2="58.9" stroke="#666" stroke-width="0.8"/>
<text x="349.4" y="61.0" font-size="5.8" text-anchor="end" font-weight="bold" fill="#222" >2</text>
<line x1="350.6" y1="50.0" x2="352.1" y2="50.0" stroke="#666" stroke-width="0.8"/>
<text x="349.4" y="52.1" font-size="5.8" text-anchor="end" font-weight="bold" fill="#222" >3</text>
<line x1="350.6" y1="41.1" x2="352.1" y2="41.1" stroke="#666" stroke-width="0.8"/>
<text x="349.4" y="43.2" font-size="5.8" text-anchor="end" font-weight="bold" fill="#222" >4</text>
<line x1="350.6" y1="32.2" x2="352.1" y2="32.2" stroke="#666" stroke-width="0.8"/>
<text x="349.4" y="34.3" font-size="5.8" text-anchor="end" font-weight="bold" fill="#222" >5</text>
<line x1="350.6" y1="23.3" x2="352.1" y2="23.3" stroke="#666" stroke-width="0.8"/>
<text x="349.4" y="25.4" font-size="5.8" text-anchor="end" font-weight="bold" fill="#222" >6</text>
<line x1="350.6" y1="14.4" x2="352.1" y2="14.4" stroke="#666" stroke-width="0.8"/>
<text x="349.4" y="16.5" font-size="5.8" text-anchor="end" font-weight="bold" fill="#222" >7</text>
<line x1="352.1" y1="76.7" x2="510" y2="76.7" stroke="#222" stroke-width="0.8"/>
<line x1="362.3" y1="55.8" x2="362.3" y2="58.0" stroke="#111" stroke-width="0.8"/><line x1="360.1" y1="55.8" x2="364.5" y2="55.8" stroke="#111" stroke-width="0.8"/><line x1="360.1" y1="58.0" x2="364.5" y2="58.0" stroke="#111" stroke-width="0.8"/>
<rect x="357.2" y="58.0" width="10.2" height="18.7" fill="#080808"/>
<text x="362.3" y="83.3" font-size="7.0" text-anchor="middle" fill="#222" >PLN</text>
<line x1="381.7" y1="53.1" x2="381.7" y2="57.6" stroke="#111" stroke-width="0.8"/><line x1="379.5" y1="53.1" x2="383.9" y2="53.1" stroke="#111" stroke-width="0.8"/><line x1="379.5" y1="57.6" x2="383.9" y2="57.6" stroke="#111" stroke-width="0.8"/>
<rect x="376.6" y="57.6" width="10.2" height="19.1" fill="#080808"/>
<text x="381.7" y="83.3" font-size="7.0" text-anchor="middle" fill="#222" >SP</text>
<line x1="401.4" y1="55.3" x2="401.4" y2="56.2" stroke="#111" stroke-width="0.8"/><line x1="399.2" y1="55.3" x2="403.6" y2="55.3" stroke="#111" stroke-width="0.8"/><line x1="399.2" y1="56.2" x2="403.6" y2="56.2" stroke="#111" stroke-width="0.8"/>
<rect x="396.3" y="56.2" width="10.2" height="20.5" fill="#080808"/>
<text x="401.4" y="83.3" font-size="7.0" text-anchor="middle" fill="#222" >PB</text>
<line x1="421.2" y1="49.1" x2="421.2" y2="50.9" stroke="#111" stroke-width="0.8"/><line x1="419.0" y1="49.1" x2="423.4" y2="49.1" stroke="#111" stroke-width="0.8"/><line x1="419.0" y1="50.9" x2="423.4" y2="50.9" stroke="#111" stroke-width="0.8"/>
<rect x="416.1" y="50.9" width="10.2" height="25.8" fill="#080808"/>
<text x="421.2" y="83.3" font-size="7.0" text-anchor="middle" fill="#222" >MLN</text>
<line x1="440.9" y1="38.9" x2="440.9" y2="42.0" stroke="#111" stroke-width="0.8"/><line x1="438.7" y1="38.9" x2="443.1" y2="38.9" stroke="#111" stroke-width="0.8"/><line x1="438.7" y1="42.0" x2="443.1" y2="42.0" stroke="#111" stroke-width="0.8"/>
<rect x="435.8" y="42.0" width="10.2" height="34.7" fill="#080808"/>
<text x="440.9" y="83.3" font-size="7.0" text-anchor="middle" fill="#222" >LPL</text>
<line x1="460.4" y1="38.4" x2="460.4" y2="42.0" stroke="#111" stroke-width="0.8"/><line x1="458.2" y1="38.4" x2="462.6" y2="38.4" stroke="#111" stroke-width="0.8"/><line x1="458.2" y1="42.0" x2="462.6" y2="42.0" stroke="#111" stroke-width="0.8"/>
<rect x="455.3" y="42.0" width="10.2" height="34.7" fill="#080808"/>
<text x="460.4" y="83.3" font-size="7.0" text-anchor="middle" fill="#222" >Lung</text>
<line x1="480.1" y1="40.7" x2="480.1" y2="41.1" stroke="#111" stroke-width="0.8"/><line x1="477.9" y1="40.7" x2="482.3" y2="40.7" stroke="#111" stroke-width="0.8"/><line x1="477.9" y1="41.1" x2="482.3" y2="41.1" stroke="#111" stroke-width="0.8"/>
<rect x="475.0" y="41.1" width="10.2" height="35.6" fill="#080808"/>
<text x="480.1" y="83.3" font-size="7.0" text-anchor="middle" fill="#222" >BM</text>
<line x1="499.6" y1="21.3" x2="499.6" y2="22.4" stroke="#111" stroke-width="0.8"/><line x1="497.4" y1="21.3" x2="501.8" y2="21.3" stroke="#111" stroke-width="0.8"/><line x1="497.4" y1="22.4" x2="501.8" y2="22.4" stroke="#111" stroke-width="0.8"/>
<rect x="494.5" y="22.4" width="10.2" height="54.3" fill="#080808"/>
<text x="499.6" y="83.3" font-size="7.0" text-anchor="middle" fill="#222" >PP</text>
<text x="356.0" y="26.6" font-size="8.7" text-anchor="start" fill="#222" >IL-15KO</text>
<text transform="translate(341.0,44.5) rotate(-90)" font-size="6.25" font-weight="bold" text-anchor="middle" fill="#222">Log<tspan font-size="4.1" dy="1.6">2</tspan><tspan dy="-1.6">(CD4T</tspan><tspan font-size="4.1" dy="1.6">M</tspan><tspan dy="-1.6">/CD8T</tspan><tspan font-size="4.1" dy="1.6">M</tspan><tspan dy="-1.6">)</tspan></text>
<line x1="352.1" y1="94.4" x2="352.1" y2="157.5" stroke="#666" stroke-width="0.8"/>
<line x1="350.6" y1="157.5" x2="352.1" y2="157.5" stroke="#666" stroke-width="0.8"/>
<text x="349.4" y="159.6" font-size="5.8" text-anchor="end" font-weight="bold" fill="#222" >-2</text>
<line x1="350.6" y1="149.6" x2="352.1" y2="149.6" stroke="#666" stroke-width="0.8"/>
<text x="349.4" y="151.7" font-size="5.8" text-anchor="end" font-weight="bold" fill="#222" >-1</text>
<line x1="350.6" y1="141.7" x2="352.1" y2="141.7" stroke="#666" stroke-width="0.8"/>
<text x="349.4" y="143.8" font-size="5.8" text-anchor="end" font-weight="bold" fill="#222" >0</text>
<line x1="350.6" y1="133.8" x2="352.1" y2="133.8" stroke="#666" stroke-width="0.8"/>
<text x="349.4" y="135.9" font-size="5.8" text-anchor="end" font-weight="bold" fill="#222" >1</text>
<line x1="350.6" y1="125.9" x2="352.1" y2="125.9" stroke="#666" stroke-width="0.8"/>
<text x="349.4" y="128.0" font-size="5.8" text-anchor="end" font-weight="bold" fill="#222" >2</text>
<line x1="350.6" y1="118.0" x2="352.1" y2="118.0" stroke="#666" stroke-width="0.8"/>
<text x="349.4" y="120.1" font-size="5.8" text-anchor="end" font-weight="bold" fill="#222" >3</text>
<line x1="350.6" y1="110.1" x2="352.1" y2="110.1" stroke="#666" stroke-width="0.8"/>
<text x="349.4" y="112.2" font-size="5.8" text-anchor="end" font-weight="bold" fill="#222" >4</text>
<line x1="350.6" y1="102.2" x2="352.1" y2="102.2" stroke="#666" stroke-width="0.8"/>
<text x="349.4" y="104.3" font-size="5.8" text-anchor="end" font-weight="bold" fill="#222" >5</text>
<line x1="350.6" y1="94.4" x2="352.1" y2="94.4" stroke="#666" stroke-width="0.8"/>
<text x="349.4" y="96.4" font-size="5.8" text-anchor="end" font-weight="bold" fill="#222" >6</text>
<line x1="362.3" y1="151.2" x2="362.3" y2="151.6" stroke="#111" stroke-width="0.8"/><line x1="360.1" y1="151.2" x2="364.5" y2="151.2" stroke="#111" stroke-width="0.8"/><line x1="360.1" y1="151.6" x2="364.5" y2="151.6" stroke="#111" stroke-width="0.8"/>
<rect x="357.2" y="141.7" width="10.2" height="9.5" fill="#080808"/>
<text x="362.3" y="139.8" font-size="7.0" text-anchor="middle" fill="#222" >PB</text>
<line x1="381.7" y1="148.8" x2="381.7" y2="150.0" stroke="#111" stroke-width="0.8"/><line x1="379.5" y1="148.8" x2="383.9" y2="148.8" stroke="#111" stroke-width="0.8"/><line x1="379.5" y1="150.0" x2="383.9" y2="150.0" stroke="#111" stroke-width="0.8"/>
<rect x="376.6" y="141.7" width="10.2" height="7.1" fill="#080808"/>
<text x="381.7" y="139.8" font-size="7.0" text-anchor="middle" fill="#222" >PLN</text>
<line x1="401.4" y1="134.6" x2="401.4" y2="136.6" stroke="#111" stroke-width="0.8"/><line x1="399.2" y1="134.6" x2="403.6" y2="134.6" stroke="#111" stroke-width="0.8"/><line x1="399.2" y1="136.6" x2="403.6" y2="136.6" stroke="#111" stroke-width="0.8"/>
<rect x="396.3" y="136.6" width="10.2" height="5.1" fill="#080808"/>
<text x="401.4" y="149.2" font-size="7.0" text-anchor="middle" fill="#222" >SP</text>
<line x1="421.2" y1="134.6" x2="421.2" y2="135.0" stroke="#111" stroke-width="0.8"/><line x1="419.0" y1="134.6" x2="423.4" y2="134.6" stroke="#111" stroke-width="0.8"/><line x1="419.0" y1="135.0" x2="423.4" y2="135.0" stroke="#111" stroke-width="0.8"/>
<rect x="416.1" y="135.0" width="10.2" height="6.7" fill="#080808"/>
<text x="421.2" y="149.2" font-size="7.0" text-anchor="middle" fill="#222" >Lung</text>
<line x1="440.9" y1="134.2" x2="440.9" y2="134.6" stroke="#111" stroke-width="0.8"/><line x1="438.7" y1="134.2" x2="443.1" y2="134.2" stroke="#111" stroke-width="0.8"/><line x1="438.7" y1="134.6" x2="443.1" y2="134.6" stroke="#111" stroke-width="0.8"/>
<rect x="435.8" y="134.6" width="10.2" height="7.1" fill="#080808"/>
<text x="440.9" y="149.2" font-size="7.0" text-anchor="middle" fill="#222" >BM</text>
<line x1="460.4" y1="132.2" x2="460.4" y2="135.0" stroke="#111" stroke-width="0.8"/><line x1="458.2" y1="132.2" x2="462.6" y2="132.2" stroke="#111" stroke-width="0.8"/><line x1="458.2" y1="135.0" x2="462.6" y2="135.0" stroke="#111" stroke-width="0.8"/>
<rect x="455.3" y="135.0" width="10.2" height="6.7" fill="#080808"/>
<text x="460.4" y="149.2" font-size="7.0" text-anchor="middle" fill="#222" >MLN</text>
<line x1="480.1" y1="118.8" x2="480.1" y2="120.4" stroke="#111" stroke-width="0.8"/><line x1="477.9" y1="118.8" x2="482.3" y2="118.8" stroke="#111" stroke-width="0.8"/><line x1="477.9" y1="120.4" x2="482.3" y2="120.4" stroke="#111" stroke-width="0.8"/>
<rect x="475.0" y="120.4" width="10.2" height="21.3" fill="#080808"/>
<text x="480.1" y="149.2" font-size="7.0" text-anchor="middle" fill="#222" >LPL</text>
<line x1="499.6" y1="101.9" x2="499.6" y2="105.4" stroke="#111" stroke-width="0.8"/><line x1="497.4" y1="101.9" x2="501.8" y2="101.9" stroke="#111" stroke-width="0.8"/><line x1="497.4" y1="105.4" x2="501.8" y2="105.4" stroke="#111" stroke-width="0.8"/>
<rect x="494.5" y="105.4" width="10.2" height="36.3" fill="#080808"/>
<text x="499.6" y="149.2" font-size="7.0" text-anchor="middle" fill="#222" >PP</text>
<line x1="352.1" y1="141.7" x2="510" y2="141.7" stroke="#888" stroke-width="0.9"/>
<text x="356.0" y="106.8" font-size="8.7" text-anchor="start" fill="#222" >IL15KO + IL-15</text>
<text transform="translate(341.0,126.0) rotate(-90)" font-size="6.25" font-weight="bold" text-anchor="middle" fill="#222">Log<tspan font-size="4.1" dy="1.6">2</tspan><tspan dy="-1.6">(CD4T</tspan><tspan font-size="4.1" dy="1.6">M</tspan><tspan dy="-1.6">/CD8T</tspan><tspan font-size="4.1" dy="1.6">M</tspan><tspan dy="-1.6">)</tspan></text>
<text x="331.8" y="176.4" font-size="11.2" text-anchor="start" font-weight="bold" fill="#111" >C</text>
<line x1="352.7" y1="184.0" x2="352.7" y2="254.6" stroke="#444" stroke-width="0.8"/>
<line x1="351.2" y1="254.6" x2="352.7" y2="254.6" stroke="#444" stroke-width="0.8"/>
<text x="350.0" y="256.8" font-size="6.0" text-anchor="end" font-weight="bold" fill="#222" >0</text>
<line x1="351.2" y1="236.9" x2="352.7" y2="236.9" stroke="#444" stroke-width="0.8"/>
<text x="350.0" y="239.1" font-size="6.0" text-anchor="end" font-weight="bold" fill="#222" >2</text>
<line x1="351.2" y1="219.3" x2="352.7" y2="219.3" stroke="#444" stroke-width="0.8"/>
<text x="350.0" y="221.4" font-size="6.0" text-anchor="end" font-weight="bold" fill="#222" >4</text>
<line x1="351.2" y1="201.6" x2="352.7" y2="201.6" stroke="#444" stroke-width="0.8"/>
<text x="350.0" y="203.8" font-size="6.0" text-anchor="end" font-weight="bold" fill="#222" >6</text>
<line x1="351.2" y1="184.0" x2="352.7" y2="184.0" stroke="#444" stroke-width="0.8"/>
<text x="350.0" y="186.1" font-size="6.0" text-anchor="end" font-weight="bold" fill="#222" >8</text>
<line x1="352.7" y1="254.6" x2="508.8" y2="254.6" stroke="#222" stroke-width="0.8"/>
<line x1="365.4" y1="242.2" x2="365.4" y2="244.0" stroke="#111" stroke-width="0.8"/><line x1="362.8" y1="242.2" x2="368.0" y2="242.2" stroke="#111" stroke-width="0.8"/><line x1="362.8" y1="244.0" x2="368.0" y2="244.0" stroke="#111" stroke-width="0.8"/>
<rect x="358.8" y="244.0" width="13.1" height="10.6" fill="#080808"/>
<text x="365.4" y="240.4" font-size="7.6" text-anchor="middle" fill="#222" >1.2</text>
<rect x="371.9" y="190.1" width="12.6" height="64.5" fill="#fff" stroke="#333" stroke-width="0.8"/>
<line x1="378.2" y1="188.8" x2="378.2" y2="191.5" stroke="#111" stroke-width="0.8"/><line x1="375.6" y1="188.8" x2="380.8" y2="188.8" stroke="#111" stroke-width="0.8"/><line x1="375.6" y1="191.5" x2="380.8" y2="191.5" stroke="#111" stroke-width="0.8"/>
<text x="378.5" y="187.0" font-size="7.6" text-anchor="middle" fill="#222" >7.2</text>
<text x="370.7" y="265.6" font-size="9.0" text-anchor="middle" fill="#222" >PLN</text>
<line x1="404.2" y1="236.9" x2="404.2" y2="239.1" stroke="#111" stroke-width="0.8"/><line x1="401.6" y1="236.9" x2="406.9" y2="236.9" stroke="#111" stroke-width="0.8"/><line x1="401.6" y1="239.1" x2="406.9" y2="239.1" stroke="#111" stroke-width="0.8"/>
<rect x="397.7" y="239.1" width="13.1" height="15.5" fill="#080808"/>
<text x="404.2" y="235.1" font-size="7.6" text-anchor="middle" fill="#222" >1.7</text>
<rect x="410.8" y="211.8" width="12.6" height="42.8" fill="#fff" stroke="#333" stroke-width="0.8"/>
<line x1="417.1" y1="205.6" x2="417.1" y2="218.0" stroke="#111" stroke-width="0.8"/><line x1="414.5" y1="205.6" x2="419.7" y2="205.6" stroke="#111" stroke-width="0.8"/><line x1="414.5" y1="218.0" x2="419.7" y2="218.0" stroke="#111" stroke-width="0.8"/>
<text x="417.4" y="203.8" font-size="7.6" text-anchor="middle" fill="#222" >4.7</text>
<text x="410.8" y="265.6" font-size="9.0" text-anchor="middle" fill="#222" >SP</text>
<line x1="443.4" y1="243.6" x2="443.4" y2="244.0" stroke="#111" stroke-width="0.8"/><line x1="440.8" y1="243.6" x2="446.1" y2="243.6" stroke="#111" stroke-width="0.8"/><line x1="440.8" y1="244.0" x2="446.1" y2="244.0" stroke="#111" stroke-width="0.8"/>
<rect x="436.9" y="244.0" width="13.1" height="10.6" fill="#080808"/>
<text x="443.4" y="241.8" font-size="7.6" text-anchor="middle" fill="#222" >1.2</text>
<rect x="450.0" y="230.8" width="12.6" height="23.8" fill="#fff" stroke="#333" stroke-width="0.8"/>
<line x1="456.3" y1="228.6" x2="456.3" y2="233.0" stroke="#111" stroke-width="0.8"/><line x1="453.7" y1="228.6" x2="458.9" y2="228.6" stroke="#111" stroke-width="0.8"/><line x1="453.7" y1="233.0" x2="458.9" y2="233.0" stroke="#111" stroke-width="0.8"/>
<text x="456.6" y="226.8" font-size="7.6" text-anchor="middle" fill="#222" >2.7</text>
<text x="450.0" y="265.6" font-size="9.0" text-anchor="middle" fill="#222" >LP</text>
<line x1="482.4" y1="248.0" x2="482.4" y2="248.9" stroke="#111" stroke-width="0.8"/><line x1="479.8" y1="248.0" x2="485.0" y2="248.0" stroke="#111" stroke-width="0.8"/><line x1="479.8" y1="248.9" x2="485.0" y2="248.9" stroke="#111" stroke-width="0.8"/>
<rect x="475.8" y="248.9" width="13.1" height="5.7" fill="#080808"/>
<text x="482.4" y="246.2" font-size="7.6" text-anchor="middle" fill="#222" >0.7</text>
<rect x="488.9" y="238.7" width="12.6" height="15.9" fill="#fff" stroke="#333" stroke-width="0.8"/>
<line x1="495.2" y1="237.8" x2="495.2" y2="239.6" stroke="#111" stroke-width="0.8"/><line x1="492.6" y1="237.8" x2="497.8" y2="237.8" stroke="#111" stroke-width="0.8"/><line x1="492.6" y1="239.6" x2="497.8" y2="239.6" stroke="#111" stroke-width="0.8"/>
<text x="495.5" y="236.0" font-size="7.6" text-anchor="middle" fill="#222" >1.8</text>
<text x="488.9" y="265.6" font-size="9.0" text-anchor="middle" fill="#222" >PP</text>
<text transform="translate(344.0,218.0) rotate(-90)" font-size="6.2" font-weight="bold" text-anchor="middle" fill="#222">Cell Number Fold Change</text>
<rect x="470.4" y="183.1" width="5.8" height="7.7" fill="#080808"/>
<text x="479.6" y="189.8" font-size="8.2" text-anchor="start" fill="#222" >CD4 T<tspan font-size="5.1" dy="1.8">M</tspan></text>
<rect x="470.7" y="194" width="5.3" height="7.1" fill="#fff" stroke="#333" stroke-width="0.7"/>
<text x="479.6" y="200.4" font-size="8.2" text-anchor="start" fill="#222" >CD8 T<tspan font-size="5.1" dy="1.8">M</tspan></text>
<text x="3.8" y="285.7" font-size="11.2" text-anchor="start" font-weight="bold" fill="#111" >D</text>
<text x="81.0" y="287.2" font-size="8.0" text-anchor="middle" fill="#222" >Recipient</text>
<line x1="45.8" y1="290.4" x2="118.3" y2="290.4" stroke="#333" stroke-width="0.9"/>
<text x="61.5" y="300.6" font-size="8.0" text-anchor="middle" fill="#222" >WT</text>
<text x="100.7" y="300.6" font-size="8.0" text-anchor="middle" fill="#222" >IL-15KO</text>
<text x="21.7" y="346.3" font-size="8.7" text-anchor="start" fill="#222" >CD4</text>
<text x="27.1" y="356.7" font-size="8.7" text-anchor="start" fill="#222" >T<tspan font-size="5.6" dy="1.9">M</tspan></text>
<rect x="43.3" y="303.4" width="36.3" height="90.8" fill="#282828"/>
<g clip-path="url(#cD1)">
<rect x="43.3" y="303.4" width="5.8" height="90.8" fill="#464646" filter="url(#bl1)"/>
<rect x="44.8" y="303.4" width="0.9" height="90.8" fill="#626262" filter="url(#bl1)"/>
<rect x="76.0" y="303.4" width="3.6" height="90.8" fill="#1e1e1e" filter="url(#bl1)"/>
<polygon points="49.5,303.4 76.0,303.4 76.3,314.3 75.6,326.1 75.6,339.7 76.7,353.3 77.4,367.0 77.1,380.6 77.1,394.2 65.8,394.2 64.4,388.8 60.4,388.8 58.5,394.2 48.4,394.2 47.7,383.3 48.0,368.8 48.7,353.3 49.8,341.5 50.6,326.1 49.8,314.3" fill="#d4d4d4" filter="url(#bl2)"/>
<ellipse cx="62.2" cy="360.6" rx="10.9" ry="17.3" fill="#eeeeee" filter="url(#bl3)"/>
<ellipse cx="62.2" cy="333.4" rx="5.8" ry="10.0" fill="#eeeeee" filter="url(#bl3)"/>
<rect x="49.8" y="303.4" width="24.7" height="6.8" fill="#b0b0b0" filter="url(#bl1)"/>
<ellipse cx="63.3" cy="316.1" rx="8.7" ry="3.6" fill="#505050" filter="url(#bl1)"/>
<ellipse cx="59.6" cy="316.3" rx="5.4" ry="3.8" fill="#1e1e1e" filter="url(#bl1)"/>
<ellipse cx="62.2" cy="393.3" rx="2.5" ry="5.0" fill="#2a2a2a" filter="url(#bl1)"/>
<ellipse cx="44.0" cy="393.3" rx="3.6" ry="7.3" fill="#2a2a2a" filter="url(#bl1)"/>
<g filter="url(#bl1)"><path d="M77.17,361.53 L76.95,364.58 L76.76,366.38 L76.49,367.89 L76.09,369.20 L75.54,370.32 L74.86,371.28 L74.06,372.12 L73.15,372.83 L72.11,373.40 L70.90,373.79 L69.50,373.97 L67.91,373.92 L66.05,373.68 L63.01,373.28 L60.07,372.88 L58.37,372.59 L56.92,372.32 L55.64,371.99 L54.51,371.52 L53.57,370.89 L52.81,370.09 L52.18,369.19 L51.62,368.23 L51.06,367.19 L50.51,366.03 L50.03,364.63 L49.75,362.82 L49.80,359.61 L50.13,356.40 L50.60,354.62 L51.21,353.25 L51.87,352.12 L52.56,351.13 L53.27,350.23 L54.04,349.42 L54.91,348.72 L55.91,348.13 L57.06,347.70 L58.37,347.40 L59.88,347.26 L61.72,347.28 L64.82,347.55 L67.84,347.96 L69.53,348.41 L70.86,348.90 L72.03,349.40 L73.11,349.89 L74.16,350.38 L75.17,350.96 L76.06,351.68 L76.76,352.61 L77.22,353.76 L77.43,355.12 L77.46,356.66 L77.37,358.48Z" fill="#1212e0"/><path d="M74.86,361.15 L74.71,363.63 L74.67,365.14 L74.63,366.48 L74.51,367.72 L74.21,368.82 L73.67,369.70 L72.89,370.33 L71.94,370.72 L70.88,370.94 L69.78,371.07 L68.63,371.18 L67.39,371.29 L65.91,371.36 L63.34,371.30 L60.74,371.14 L59.24,370.91 L58.02,370.58 L57.00,370.15 L56.13,369.65 L55.37,369.06 L54.74,368.39 L54.22,367.63 L53.81,366.77 L53.52,365.82 L53.31,364.76 L53.17,363.56 L53.11,362.12 L53.16,359.63 L53.29,357.11 L53.42,355.61 L53.63,354.36 L53.94,353.26 L54.35,352.28 L54.88,351.44 L55.54,350.72 L56.32,350.15 L57.24,349.73 L58.27,349.45 L59.42,349.28 L60.72,349.20 L62.26,349.20 L64.88,349.34 L67.49,349.57 L68.98,349.85 L70.17,350.24 L71.13,350.74 L71.93,351.32 L72.62,351.94 L73.26,352.59 L73.85,353.27 L74.37,354.04 L74.77,354.94 L75.02,355.99 L75.09,357.22 L75.04,358.69Z" fill="#60e0f0"/><path d="M75.05,361.36 L74.93,363.58 L74.64,364.96 L74.15,366.04 L73.52,366.88 L72.82,367.55 L72.14,368.15 L71.48,368.73 L70.81,369.30 L70.07,369.83 L69.20,370.25 L68.19,370.51 L67.02,370.62 L65.64,370.61 L63.51,370.49 L61.37,370.34 L59.99,370.19 L58.82,369.95 L57.81,369.58 L56.98,369.07 L56.28,368.45 L55.69,367.78 L55.13,367.08 L54.58,366.35 L54.06,365.53 L53.65,364.57 L53.43,363.42 L53.44,362.02 L53.70,359.86 L54.07,357.78 L54.41,356.51 L54.70,355.41 L54.95,354.37 L55.24,353.38 L55.65,352.47 L56.25,351.72 L57.04,351.18 L58.00,350.86 L59.08,350.73 L60.23,350.73 L61.45,350.82 L62.81,350.96 L64.86,351.17 L66.88,351.38 L68.18,351.55 L69.31,351.72 L70.38,351.92 L71.38,352.19 L72.28,352.58 L73.05,353.13 L73.65,353.85 L74.08,354.70 L74.38,355.65 L74.62,356.68 L74.83,357.82 L75.01,359.17Z" fill="#7ee040"/><path d="M72.70,360.80 L72.78,362.36 L72.82,363.50 L72.76,364.52 L72.50,365.42 L71.99,366.13 L71.26,366.61 L70.39,366.89 L69.52,367.07 L68.75,367.27 L68.07,367.61 L67.41,368.10 L66.65,368.68 L65.64,369.19 L64.00,369.48 L62.30,369.48 L61.17,369.21 L60.28,368.76 L59.54,368.26 L58.88,367.78 L58.24,367.34 L57.61,366.89 L57.03,366.38 L56.53,365.78 L56.13,365.08 L55.81,364.28 L55.55,363.39 L55.34,362.34 L55.19,360.80 L55.14,359.22 L55.23,358.12 L55.47,357.17 L55.84,356.37 L56.29,355.66 L56.79,355.03 L57.34,354.45 L57.95,353.93 L58.65,353.51 L59.47,353.21 L60.38,353.06 L61.38,353.02 L62.48,353.04 L64.00,353.06 L65.51,353.06 L66.60,353.07 L67.59,353.13 L68.49,353.29 L69.31,353.56 L70.03,353.96 L70.65,354.46 L71.19,355.04 L71.66,355.69 L72.03,356.43 L72.31,357.27 L72.49,358.20 L72.61,359.27Z" fill="#b4ec30"/><path d="M68.24,361.20 L68.38,361.83 L68.47,362.42 L68.46,363.00 L68.32,363.53 L68.06,364.01 L67.73,364.43 L67.37,364.82 L66.99,365.21 L66.59,365.58 L66.13,365.92 L65.59,366.18 L64.99,366.31 L64.33,366.31 L63.60,366.22 L62.90,366.08 L62.31,365.94 L61.75,365.81 L61.20,365.69 L60.64,365.54 L60.10,365.33 L59.62,365.03 L59.21,364.64 L58.89,364.17 L58.67,363.64 L58.54,363.07 L58.49,362.48 L58.49,361.87 L58.55,361.20 L58.64,360.55 L58.76,359.98 L58.90,359.46 L59.07,358.96 L59.29,358.48 L59.56,358.04 L59.91,357.65 L60.30,357.31 L60.75,357.02 L61.23,356.77 L61.74,356.56 L62.29,356.39 L62.89,356.26 L63.60,356.18 L64.32,356.14 L64.97,356.15 L65.60,356.20 L66.22,356.30 L66.82,356.47 L67.37,356.75 L67.82,357.15 L68.11,357.67 L68.25,358.27 L68.25,358.90 L68.18,359.50 L68.13,360.06 L68.14,360.60Z" fill="#f4e418"/><path d="M66.90,361.40 L66.79,361.77 L66.62,362.11 L66.45,362.43 L66.33,362.76 L66.25,363.13 L66.16,363.52 L66.01,363.91 L65.76,364.23 L65.42,364.46 L65.03,364.58 L64.63,364.64 L64.25,364.69 L63.88,364.77 L63.50,364.89 L63.10,364.99 L62.68,365.01 L62.27,364.92 L61.91,364.71 L61.61,364.41 L61.37,364.07 L61.17,363.73 L61.00,363.39 L60.84,363.07 L60.70,362.75 L60.58,362.42 L60.47,362.09 L60.38,361.75 L60.29,361.40 L60.20,361.03 L60.16,360.64 L60.18,360.24 L60.29,359.85 L60.49,359.51 L60.76,359.22 L61.07,358.97 L61.38,358.74 L61.70,358.53 L62.02,358.33 L62.37,358.16 L62.73,358.02 L63.11,357.94 L63.50,357.90 L63.89,357.90 L64.29,357.94 L64.68,358.03 L65.05,358.18 L65.37,358.42 L65.64,358.72 L65.85,359.05 L66.02,359.39 L66.20,359.71 L66.39,360.01 L66.61,360.31 L66.80,360.65 L66.90,361.02Z" fill="#ff9010"/><path d="M65.76,361.60 L65.78,361.88 L65.73,362.16 L65.61,362.40 L65.44,362.62 L65.26,362.80 L65.09,362.99 L64.96,363.19 L64.83,363.42 L64.68,363.65 L64.49,363.85 L64.27,363.99 L64.01,364.05 L63.75,364.04 L63.50,363.97 L63.26,363.88 L63.04,363.78 L62.83,363.70 L62.61,363.61 L62.39,363.52 L62.17,363.42 L61.95,363.29 L61.73,363.14 L61.54,362.95 L61.37,362.72 L61.26,362.45 L61.20,362.17 L61.20,361.88 L61.23,361.60 L61.29,361.33 L61.36,361.07 L61.44,360.81 L61.53,360.57 L61.65,360.33 L61.79,360.11 L61.95,359.91 L62.13,359.73 L62.34,359.58 L62.55,359.46 L62.78,359.37 L63.03,359.33 L63.27,359.34 L63.50,359.38 L63.72,359.42 L63.95,359.45 L64.19,359.46 L64.44,359.46 L64.72,359.49 L64.98,359.57 L65.21,359.74 L65.37,359.98 L65.46,360.25 L65.52,360.54 L65.56,360.81 L65.62,361.07 L65.70,361.33Z" fill="#e01a10"/></g>
</g>
<rect x="83.0" y="303.4" width="35.3" height="90.8" fill="#282828"/>
<g clip-path="url(#cD2)">
<rect x="83.0" y="303.4" width="5.6" height="90.8" fill="#464646" filter="url(#bl1)"/>
<rect x="84.4" y="303.4" width="0.9" height="90.8" fill="#626262" filter="url(#bl1)"/>
<rect x="114.8" y="303.4" width="3.5" height="90.8" fill="#1e1e1e" filter="url(#bl1)"/>
<polygon points="89.0,303.4 114.8,303.4 115.1,314.3 114.4,326.1 114.4,339.7 115.5,353.3 116.2,367.0 115.8,380.6 115.8,394.2 104.9,394.2 103.5,388.8 99.6,388.8 97.8,394.2 87.9,394.2 87.2,383.3 87.6,368.8 88.3,353.3 89.4,341.5 90.1,326.1 89.4,314.3" fill="#d4d4d4" filter="url(#bl2)"/>
<ellipse cx="101.4" cy="360.6" rx="10.6" ry="17.3" fill="#eeeeee" filter="url(#bl3)"/>
<ellipse cx="101.4" cy="333.4" rx="5.6" ry="10.0" fill="#eeeeee" filter="url(#bl3)"/>
<rect x="89.4" y="303.4" width="24.0" height="6.8" fill="#b0b0b0" filter="url(#bl1)"/>
<ellipse cx="102.4" cy="316.1" rx="8.5" ry="3.6" fill="#505050" filter="url(#bl1)"/>
<ellipse cx="98.9" cy="316.3" rx="5.3" ry="3.8" fill="#1e1e1e" filter="url(#bl1)"/>
<ellipse cx="101.4" cy="393.3" rx="2.5" ry="5.0" fill="#2a2a2a" filter="url(#bl1)"/>
<ellipse cx="83.7" cy="393.3" rx="3.5" ry="7.3" fill="#2a2a2a" filter="url(#bl1)"/>
<g filter="url(#bl1)"><path d="M114.66,361.40 L114.51,364.55 L114.25,366.35 L113.88,367.80 L113.44,369.05 L112.94,370.16 L112.37,371.18 L111.69,372.09 L110.88,372.89 L109.91,373.54 L108.77,374.04 L107.45,374.39 L105.94,374.63 L104.12,374.77 L101.00,374.81 L97.89,374.74 L96.10,374.53 L94.65,374.20 L93.40,373.77 L92.26,373.31 L91.16,372.84 L90.04,372.36 L88.94,371.77 L87.94,370.98 L87.20,369.88 L86.83,368.44 L86.83,366.69 L87.14,364.63 L87.59,361.40 L88.01,358.37 L88.31,356.66 L88.49,355.19 L88.68,353.83 L89.01,352.60 L89.56,351.57 L90.36,350.76 L91.33,350.16 L92.40,349.67 L93.51,349.21 L94.70,348.71 L96.07,348.21 L97.82,347.78 L101.00,347.52 L104.24,347.50 L106.11,347.70 L107.61,348.10 L108.87,348.60 L109.98,349.16 L110.99,349.78 L111.92,350.48 L112.74,351.31 L113.42,352.29 L113.95,353.45 L114.33,354.78 L114.57,356.33 L114.68,358.21Z" fill="#1212e0"/><path d="M112.56,361.30 L112.36,363.88 L112.16,365.36 L111.96,366.60 L111.70,367.69 L111.30,368.65 L110.74,369.43 L110.02,370.04 L109.21,370.53 L108.37,370.98 L107.50,371.46 L106.54,371.97 L105.40,372.44 L103.90,372.77 L101.20,372.87 L98.51,372.74 L97.00,372.44 L95.80,372.08 L94.73,371.73 L93.71,371.41 L92.73,371.07 L91.82,370.60 L91.09,369.92 L90.58,369.02 L90.30,367.94 L90.17,366.73 L90.11,365.41 L90.03,363.88 L89.92,361.30 L89.83,358.67 L89.84,357.09 L90.00,355.79 L90.36,354.70 L90.88,353.80 L91.56,353.08 L92.34,352.51 L93.20,352.08 L94.12,351.73 L95.09,351.44 L96.12,351.15 L97.25,350.83 L98.65,350.45 L101.20,350.07 L103.92,349.76 L105.59,349.64 L106.97,349.78 L108.09,350.19 L108.97,350.80 L109.68,351.53 L110.30,352.28 L110.91,353.02 L111.52,353.79 L112.08,354.68 L112.49,355.74 L112.70,357.04 L112.70,358.64Z" fill="#60e0f0"/><path d="M112.11,361.40 L112.00,363.56 L111.84,364.93 L111.61,366.09 L111.30,367.10 L110.84,367.98 L110.24,368.70 L109.52,369.28 L108.73,369.77 L107.92,370.23 L107.08,370.70 L106.15,371.17 L105.05,371.58 L103.65,371.81 L101.40,371.79 L99.21,371.51 L97.94,371.06 L96.95,370.54 L96.10,370.08 L95.26,369.71 L94.39,369.40 L93.50,369.08 L92.65,368.63 L91.92,368.01 L91.34,367.20 L90.91,366.21 L90.58,365.06 L90.34,363.66 L90.17,361.40 L90.14,359.10 L90.27,357.63 L90.60,356.44 L91.12,355.47 L91.79,354.70 L92.56,354.09 L93.38,353.61 L94.24,353.22 L95.12,352.90 L96.05,352.64 L97.03,352.41 L98.10,352.18 L99.35,351.94 L101.40,351.70 L103.54,351.49 L104.99,351.39 L106.24,351.45 L107.32,351.70 L108.24,352.14 L109.01,352.71 L109.68,353.36 L110.29,354.05 L110.86,354.81 L111.37,355.65 L111.78,356.64 L112.04,357.80 L112.14,359.21Z" fill="#7ee040"/><path d="M110.40,362.00 L110.00,362.90 L109.57,363.60 L109.29,364.27 L109.21,365.00 L109.23,365.83 L109.15,366.70 L108.79,367.46 L108.12,367.99 L107.22,368.25 L106.24,368.31 L105.30,368.32 L104.42,368.39 L103.54,368.55 L102.50,368.70 L101.44,368.72 L100.55,368.49 L99.83,368.03 L99.29,367.41 L98.89,366.78 L98.53,366.23 L98.12,365.81 L97.59,365.47 L96.94,365.17 L96.19,364.82 L95.38,364.38 L94.57,363.80 L93.84,363.03 L93.33,362.00 L93.17,360.89 L93.44,359.95 L94.10,359.19 L94.99,358.64 L95.89,358.24 L96.64,357.86 L97.20,357.39 L97.64,356.82 L98.14,356.22 L98.81,355.77 L99.66,355.59 L100.61,355.70 L101.55,355.99 L102.50,356.26 L103.39,356.36 L104.22,356.27 L105.12,356.10 L106.04,356.03 L106.87,356.20 L107.53,356.64 L107.99,357.23 L108.36,357.86 L108.78,358.43 L109.31,358.96 L109.90,359.53 L110.37,360.22 L110.55,361.04Z" fill="#b4ec30"/><path d="M109.51,362.00 L109.59,362.25 L109.70,362.52 L109.75,362.81 L109.70,363.10 L109.51,363.35 L109.23,363.55 L108.90,363.72 L108.58,363.86 L108.26,364.00 L107.94,364.13 L107.59,364.22 L107.22,364.26 L106.85,364.24 L106.50,364.20 L106.15,364.20 L105.78,364.26 L105.33,364.38 L104.82,364.50 L104.27,364.54 L103.77,364.45 L103.40,364.21 L103.21,363.88 L103.15,363.50 L103.16,363.15 L103.17,362.83 L103.13,362.55 L103.06,362.28 L103.04,362.00 L103.10,361.73 L103.28,361.47 L103.53,361.26 L103.79,361.07 L104.01,360.88 L104.19,360.68 L104.35,360.46 L104.52,360.23 L104.75,360.01 L105.04,359.83 L105.37,359.70 L105.73,359.60 L106.11,359.54 L106.50,359.49 L106.90,359.46 L107.32,359.45 L107.74,359.47 L108.17,359.52 L108.61,359.61 L109.03,359.74 L109.40,359.93 L109.69,360.18 L109.85,360.50 L109.86,360.84 L109.77,361.18 L109.63,361.49 L109.52,361.76Z" fill="#e8e828"/><path d="M112.69,361.40 L112.82,361.77 L112.91,362.18 L112.91,362.59 L112.81,362.99 L112.62,363.34 L112.36,363.64 L112.05,363.87 L111.73,364.06 L111.42,364.23 L111.12,364.40 L110.82,364.59 L110.50,364.78 L110.16,364.94 L109.80,365.01 L109.43,364.97 L109.09,364.80 L108.79,364.56 L108.53,364.29 L108.29,364.04 L108.03,363.83 L107.75,363.65 L107.46,363.45 L107.19,363.20 L106.98,362.89 L106.86,362.53 L106.80,362.15 L106.77,361.77 L106.73,361.40 L106.68,361.01 L106.65,360.61 L106.69,360.21 L106.83,359.83 L107.07,359.52 L107.37,359.27 L107.67,359.06 L107.95,358.86 L108.20,358.61 L108.46,358.34 L108.75,358.10 L109.08,357.93 L109.44,357.89 L109.80,357.97 L110.14,358.11 L110.46,358.25 L110.78,358.34 L111.12,358.39 L111.49,358.45 L111.85,358.58 L112.15,358.82 L112.35,359.17 L112.44,359.58 L112.46,359.99 L112.46,360.38 L112.48,360.73 L112.57,361.06Z" fill="#ff9010"/><path d="M112.09,361.30 L112.02,361.55 L111.89,361.78 L111.74,361.97 L111.58,362.14 L111.44,362.30 L111.32,362.46 L111.21,362.64 L111.10,362.83 L110.98,363.02 L110.82,363.19 L110.64,363.33 L110.44,363.42 L110.22,363.45 L110.00,363.43 L109.79,363.37 L109.59,363.29 L109.40,363.20 L109.21,363.11 L109.01,363.04 L108.81,362.95 L108.61,362.84 L108.43,362.68 L108.29,362.49 L108.20,362.26 L108.15,362.01 L108.13,361.77 L108.12,361.53 L108.11,361.30 L108.10,361.06 L108.10,360.82 L108.15,360.59 L108.24,360.36 L108.37,360.17 L108.53,360.00 L108.69,359.85 L108.85,359.71 L109.01,359.57 L109.19,359.44 L109.38,359.34 L109.58,359.29 L109.79,359.27 L110.00,359.30 L110.20,359.33 L110.40,359.37 L110.60,359.41 L110.80,359.46 L111.00,359.54 L111.19,359.65 L111.37,359.79 L111.52,359.96 L111.67,360.14 L111.81,360.34 L111.94,360.55 L112.04,360.78 L112.10,361.04Z" fill="#d81010"/></g>
</g>
<rect x="120.3" y="304.6" width="6.3" height="69.6" fill="url(#cbar)"/>
<line x1="126.6" y1="306.0" x2="127.6" y2="306.0" stroke="#555" stroke-width="0.4"/>
<text x="128.2" y="307.1" font-size="3.2" text-anchor="start" fill="#555" >300</text>
<line x1="126.6" y1="317.1" x2="127.6" y2="317.1" stroke="#555" stroke-width="0.4"/>
<text x="128.2" y="318.2" font-size="3.2" text-anchor="start" fill="#555" >250</text>
<line x1="126.6" y1="330.4" x2="127.6" y2="330.4" stroke="#555" stroke-width="0.4"/>
<text x="128.2" y="331.5" font-size="3.2" text-anchor="start" fill="#555" >200</text>
<line x1="126.6" y1="342.9" x2="127.6" y2="342.9" stroke="#555" stroke-width="0.4"/>
<text x="128.2" y="344.0" font-size="3.2" text-anchor="start" fill="#555" >150</text>
<line x1="126.6" y1="356.1" x2="127.6" y2="356.1" stroke="#555" stroke-width="0.4"/>
<text x="128.2" y="357.2" font-size="3.2" text-anchor="start" fill="#555" >100</text>
<line x1="126.6" y1="368.6" x2="127.6" y2="368.6" stroke="#555" stroke-width="0.4"/>
<text x="128.2" y="369.8" font-size="3.2" text-anchor="start" fill="#555" >50</text>
<text transform="translate(139.4,339.5) rotate(-90)" font-size="3.4" text-anchor="middle" fill="#555">x10<tspan font-size="2.2" dy="-1">3</tspan></text>
<text x="120.0" y="383.5" font-size="7.0" text-anchor="start" fill="#222" >p/sec/</text>
<text x="120.0" y="391.2" font-size="7.0" text-anchor="start" fill="#222" >cm<tspan font-size="4.2" dy="-2.4">2</tspan><tspan dy="2.4">/sr</tspan></text>
<line x1="166.4" y1="307.3" x2="166.4" y2="391.9" stroke="#222" stroke-width="0.8"/>
<line x1="164.6" y1="391.9" x2="166.4" y2="391.9" stroke="#222" stroke-width="0.8"/>
<text x="163.4" y="394.1" font-size="6.0" text-anchor="end" font-weight="bold" fill="#222" >0</text>
<line x1="164.6" y1="370.7" x2="166.4" y2="370.7" stroke="#222" stroke-width="0.8"/>
<text x="163.4" y="372.9" font-size="6.0" text-anchor="end" font-weight="bold" fill="#222" >4</text>
<line x1="164.6" y1="349.6" x2="166.4" y2="349.6" stroke="#222" stroke-width="0.8"/>
<text x="163.4" y="351.7" font-size="6.0" text-anchor="end" font-weight="bold" fill="#222" >8</text>
<line x1="164.6" y1="328.4" x2="166.4" y2="328.4" stroke="#222" stroke-width="0.8"/>
<text x="163.4" y="330.6" font-size="6.0" text-anchor="end" font-weight="bold" fill="#222" >12</text>
<line x1="164.6" y1="307.3" x2="166.4" y2="307.3" stroke="#222" stroke-width="0.8"/>
<text x="163.4" y="309.4" font-size="6.0" text-anchor="end" font-weight="bold" fill="#222" >16</text>
<line x1="166.4" y1="391.9" x2="238.4" y2="391.9" stroke="#222" stroke-width="0.8"/>
<line x1="184.5" y1="317.3" x2="184.5" y2="324.2" stroke="#111" stroke-width="0.8"/><line x1="181.3" y1="317.3" x2="187.7" y2="317.3" stroke="#111" stroke-width="0.8"/><line x1="181.3" y1="324.2" x2="187.7" y2="324.2" stroke="#111" stroke-width="0.8"/>
<rect x="174.9" y="324.2" width="19.1" height="67.7" fill="#080808"/>
<text x="184.5" y="315.5" font-size="7.6" text-anchor="middle" fill="#222" >12.8</text>
<text x="184.2" y="400.8" font-size="7.9" text-anchor="middle" fill="#222" >WT</text>
<line x1="220.9" y1="326.3" x2="220.9" y2="334.8" stroke="#111" stroke-width="0.8"/><line x1="217.7" y1="326.3" x2="224.1" y2="326.3" stroke="#111" stroke-width="0.8"/><line x1="217.7" y1="334.8" x2="224.1" y2="334.8" stroke="#111" stroke-width="0.8"/>
<rect x="211.9" y="334.8" width="18.0" height="57.1" fill="#080808"/>
<text x="220.9" y="324.5" font-size="7.6" text-anchor="middle" fill="#222" >10.8</text>
<text x="220.6" y="400.8" font-size="7.9" text-anchor="middle" fill="#222" >IL-15KO</text>
<rect x="203.5" y="303.5" width="5.3" height="8" fill="#080808"/>
<text x="210.9" y="310.4" font-size="8.4" text-anchor="start" fill="#222" >CD4 T<tspan font-size="5.2" dy="1.8">M</tspan></text>
<text transform="translate(154.8,349.3) rotate(-90)" font-size="7.9" font-weight="bold" text-anchor="middle" fill="#222">TBL (x10<tspan font-size="5.2" dy="-2.8">-6</tspan><tspan dy="2.8"> p/s)</tspan></text>
<text x="316.9" y="287.4" font-size="8.0" text-anchor="middle" fill="#222" >Recipient</text>
<line x1="281.2" y1="290.6" x2="354.3" y2="290.6" stroke="#333" stroke-width="0.9"/>
<text x="297.3" y="300.8" font-size="8.0" text-anchor="middle" fill="#222" >WT</text>
<text x="334.9" y="300.8" font-size="8.0" text-anchor="middle" fill="#222" >IL-15KO</text>
<text x="259.7" y="345.5" font-size="8.7" text-anchor="start" fill="#222" >CD8</text>
<text x="265.1" y="356.7" font-size="8.7" text-anchor="start" fill="#222" >T<tspan font-size="5.6" dy="1.9">M</tspan></text>
<rect x="280.5" y="303.6" width="36.6" height="90.0" fill="#282828"/>
<g clip-path="url(#cD3)">
<rect x="280.5" y="303.6" width="5.9" height="90.0" fill="#464646" filter="url(#bl1)"/>
<rect x="282.0" y="303.6" width="0.9" height="90.0" fill="#626262" filter="url(#bl1)"/>
<rect x="313.4" y="303.6" width="3.7" height="90.0" fill="#1e1e1e" filter="url(#bl1)"/>
<polygon points="286.7,303.6 313.4,303.6 313.8,314.4 313.1,326.1 313.1,339.6 314.2,353.1 314.9,366.6 314.5,380.1 314.5,393.6 303.2,393.6 301.7,388.2 297.7,388.2 295.9,393.6 285.6,393.6 284.9,382.8 285.3,368.4 286.0,353.1 287.1,341.4 287.8,326.1 287.1,314.4" fill="#d4d4d4" filter="url(#bl2)"/>
<ellipse cx="299.5" cy="360.3" rx="11.0" ry="17.1" fill="#eeeeee" filter="url(#bl3)"/>
<ellipse cx="299.5" cy="333.3" rx="5.9" ry="9.9" fill="#eeeeee" filter="url(#bl3)"/>
<rect x="287.1" y="303.6" width="24.9" height="6.8" fill="#b0b0b0" filter="url(#bl1)"/>
<ellipse cx="300.6" cy="316.2" rx="8.8" ry="3.6" fill="#505050" filter="url(#bl1)"/>
<ellipse cx="297.0" cy="316.4" rx="5.5" ry="3.8" fill="#1e1e1e" filter="url(#bl1)"/>
<ellipse cx="299.5" cy="392.7" rx="2.6" ry="5.0" fill="#2a2a2a" filter="url(#bl1)"/>
<ellipse cx="281.2" cy="392.7" rx="3.7" ry="7.2" fill="#2a2a2a" filter="url(#bl1)"/>
<g filter="url(#bl1)"><circle cx="298.8" cy="323.3" r="0.9" fill="#1a1ae8"/><circle cx="304.7" cy="323.9" r="0.6" fill="#1a1ae8"/><circle cx="299.1" cy="321.1" r="1.3" fill="#1a1ae8"/><circle cx="302.5" cy="325.4" r="0.9" fill="#1a1ae8"/><circle cx="305.2" cy="320.6" r="1.0" fill="#1a1ae8"/><circle cx="308.9" cy="323.2" r="1.1" fill="#1a1ae8"/><circle cx="305.7" cy="319.9" r="1.1" fill="#1a1ae8"/><circle cx="304.5" cy="321.6" r="0.6" fill="#1a1ae8"/><circle cx="308.8" cy="322.8" r="1.1" fill="#1a1ae8"/><circle cx="309.1" cy="324.5" r="1.2" fill="#1a1ae8"/><circle cx="301.3" cy="325.1" r="0.9" fill="#1a1ae8"/><circle cx="302.0" cy="323.9" r="0.8" fill="#1a1ae8"/><circle cx="303.1" cy="322.2" r="0.8" fill="#1a1ae8"/><circle cx="304.4" cy="323.6" r="1.2" fill="#1a1ae8"/><circle cx="305.9" cy="326.0" r="1.2" fill="#1a1ae8"/><circle cx="297.6" cy="325.5" r="1.3" fill="#1a1ae8"/><circle cx="309.5" cy="323.5" r="1.1" fill="#1a1ae8"/><circle cx="298.4" cy="325.3" r="1.0" fill="#1a1ae8"/><circle cx="299.6" cy="319.9" r="1.2" fill="#1a1ae8"/><circle cx="307.8" cy="322.4" r="0.7" fill="#1a1ae8"/><circle cx="299.7" cy="324.9" r="1.2" fill="#1a1ae8"/><circle cx="295.7" cy="323.8" r="0.6" fill="#1a1ae8"/><circle cx="306.5" cy="321.8" r="1.2" fill="#1a1ae8"/><circle cx="310.7" cy="323.0" r="1.3" fill="#1a1ae8"/><circle cx="300.0" cy="320.0" r="1.0" fill="#1a1ae8"/><circle cx="301.5" cy="323.8" r="0.7" fill="#1a1ae8"/></g><g filter="url(#bl1)"><circle cx="292.5" cy="333.9" r="1.1" fill="#1a1ae8"/><circle cx="292.2" cy="328.5" r="0.8" fill="#1a1ae8"/><circle cx="297.0" cy="328.3" r="1.0" fill="#1a1ae8"/><circle cx="292.0" cy="329.9" r="0.9" fill="#1a1ae8"/><circle cx="298.0" cy="333.1" r="0.6" fill="#1a1ae8"/><circle cx="292.6" cy="328.5" r="1.2" fill="#1a1ae8"/><circle cx="297.7" cy="335.1" r="1.2" fill="#1a1ae8"/><circle cx="297.5" cy="329.6" r="1.2" fill="#1a1ae8"/><circle cx="294.6" cy="334.6" r="1.0" fill="#1a1ae8"/><circle cx="294.1" cy="330.6" r="0.9" fill="#1a1ae8"/><circle cx="293.0" cy="328.2" r="1.2" fill="#1a1ae8"/><circle cx="296.6" cy="332.5" r="1.1" fill="#1a1ae8"/><circle cx="291.3" cy="333.8" r="0.9" fill="#1a1ae8"/><circle cx="291.7" cy="329.0" r="1.0" fill="#1a1ae8"/><circle cx="292.4" cy="331.6" r="1.0" fill="#1a1ae8"/><circle cx="293.8" cy="328.3" r="0.9" fill="#1a1ae8"/></g><g filter="url(#bl1)"><circle cx="309.6" cy="331.2" r="1.0" fill="#1a1ae8"/><circle cx="304.1" cy="328.9" r="0.9" fill="#1a1ae8"/><circle cx="305.2" cy="331.6" r="0.6" fill="#1a1ae8"/><circle cx="303.5" cy="334.1" r="0.9" fill="#1a1ae8"/><circle cx="308.7" cy="334.3" r="0.9" fill="#1a1ae8"/><circle cx="309.6" cy="333.6" r="1.0" fill="#1a1ae8"/><circle cx="311.6" cy="330.7" r="1.0" fill="#1a1ae8"/><circle cx="310.4" cy="330.1" r="0.7" fill="#1a1ae8"/><circle cx="308.2" cy="334.2" r="1.0" fill="#1a1ae8"/><circle cx="307.9" cy="333.4" r="0.7" fill="#1a1ae8"/><circle cx="304.6" cy="330.2" r="1.2" fill="#1a1ae8"/><circle cx="305.8" cy="332.7" r="1.2" fill="#1a1ae8"/><circle cx="306.5" cy="330.7" r="0.8" fill="#1a1ae8"/><circle cx="306.2" cy="334.8" r="1.0" fill="#1a1ae8"/><circle cx="305.6" cy="328.1" r="1.1" fill="#1a1ae8"/><circle cx="311.0" cy="335.3" r="0.8" fill="#1a1ae8"/><circle cx="309.0" cy="336.2" r="1.0" fill="#1a1ae8"/><circle cx="312.2" cy="333.9" r="1.3" fill="#1a1ae8"/><circle cx="311.5" cy="330.5" r="1.3" fill="#1a1ae8"/><circle cx="307.0" cy="328.9" r="0.7" fill="#1a1ae8"/></g><g filter="url(#bl1)"><circle cx="297.5" cy="351.0" r="0.7" fill="#1a1ae8"/><circle cx="297.6" cy="375.4" r="1.2" fill="#1a1ae8"/><circle cx="308.2" cy="353.1" r="1.0" fill="#1a1ae8"/><circle cx="294.0" cy="351.5" r="0.7" fill="#1a1ae8"/><circle cx="309.2" cy="352.2" r="0.8" fill="#1a1ae8"/><circle cx="304.2" cy="369.4" r="1.3" fill="#1a1ae8"/><circle cx="303.6" cy="367.5" r="1.0" fill="#1a1ae8"/><circle cx="291.2" cy="361.2" r="0.7" fill="#1a1ae8"/><circle cx="301.9" cy="355.6" r="1.3" fill="#1a1ae8"/><circle cx="302.6" cy="374.2" r="1.3" fill="#1a1ae8"/><circle cx="300.7" cy="359.2" r="1.1" fill="#1a1ae8"/><circle cx="298.5" cy="351.2" r="0.8" fill="#1a1ae8"/><circle cx="294.1" cy="363.1" r="1.0" fill="#1a1ae8"/><circle cx="291.7" cy="359.2" r="0.8" fill="#1a1ae8"/><circle cx="304.3" cy="354.8" r="0.9" fill="#1a1ae8"/><circle cx="307.7" cy="356.3" r="1.0" fill="#1a1ae8"/><circle cx="308.2" cy="365.7" r="0.8" fill="#1a1ae8"/><circle cx="295.6" cy="351.7" r="1.0" fill="#1a1ae8"/><circle cx="297.9" cy="376.2" r="1.1" fill="#1a1ae8"/><circle cx="309.7" cy="355.4" r="0.8" fill="#1a1ae8"/><circle cx="298.9" cy="350.4" r="0.9" fill="#1a1ae8"/><circle cx="290.9" cy="371.1" r="0.9" fill="#1a1ae8"/><circle cx="294.4" cy="349.1" r="1.4" fill="#1a1ae8"/><circle cx="298.3" cy="352.7" r="0.6" fill="#1a1ae8"/><circle cx="305.6" cy="350.8" r="0.6" fill="#1a1ae8"/><circle cx="300.2" cy="354.0" r="1.4" fill="#1a1ae8"/><circle cx="289.5" cy="362.9" r="1.2" fill="#1a1ae8"/><circle cx="299.9" cy="353.7" r="0.9" fill="#1a1ae8"/><circle cx="310.1" cy="362.0" r="0.6" fill="#1a1ae8"/><circle cx="293.4" cy="353.8" r="0.8" fill="#1a1ae8"/><circle cx="292.7" cy="373.8" r="0.7" fill="#1a1ae8"/><circle cx="297.7" cy="374.8" r="1.1" fill="#1a1ae8"/><circle cx="308.9" cy="369.8" r="1.0" fill="#1a1ae8"/><circle cx="312.8" cy="356.8" r="1.1" fill="#1a1ae8"/><circle cx="309.2" cy="366.6" r="1.3" fill="#1a1ae8"/><circle cx="301.3" cy="367.0" r="1.1" fill="#1a1ae8"/><circle cx="304.4" cy="364.2" r="1.2" fill="#1a1ae8"/><circle cx="302.0" cy="374.1" r="0.8" fill="#1a1ae8"/><circle cx="305.5" cy="356.6" r="1.3" fill="#1a1ae8"/><circle cx="308.4" cy="361.1" r="1.0" fill="#1a1ae8"/><circle cx="303.2" cy="361.6" r="1.3" fill="#1a1ae8"/><circle cx="303.6" cy="350.4" r="0.9" fill="#1a1ae8"/><circle cx="301.8" cy="358.2" r="1.2" fill="#1a1ae8"/><circle cx="295.0" cy="353.5" r="1.0" fill="#1a1ae8"/><circle cx="289.3" cy="365.9" r="1.3" fill="#1a1ae8"/><circle cx="300.9" cy="359.9" r="1.3" fill="#1a1ae8"/><circle cx="294.8" cy="372.8" r="0.9" fill="#1a1ae8"/><circle cx="309.2" cy="351.4" r="1.3" fill="#1a1ae8"/><circle cx="300.3" cy="356.8" r="1.0" fill="#1a1ae8"/><circle cx="312.2" cy="368.7" r="0.6" fill="#1a1ae8"/><circle cx="295.0" cy="363.4" r="1.0" fill="#1a1ae8"/><circle cx="306.8" cy="361.5" r="0.7" fill="#1a1ae8"/><circle cx="293.1" cy="373.1" r="0.9" fill="#1a1ae8"/><circle cx="304.2" cy="367.7" r="1.1" fill="#1a1ae8"/><circle cx="295.1" cy="375.2" r="1.0" fill="#1a1ae8"/><circle cx="312.4" cy="355.8" r="1.3" fill="#1a1ae8"/><circle cx="308.8" cy="365.6" r="1.0" fill="#1a1ae8"/><circle cx="290.1" cy="370.7" r="0.9" fill="#1a1ae8"/><circle cx="305.2" cy="350.3" r="0.7" fill="#1a1ae8"/><circle cx="296.8" cy="364.4" r="0.9" fill="#1a1ae8"/><circle cx="304.0" cy="349.0" r="0.9" fill="#1a1ae8"/><circle cx="305.0" cy="356.5" r="0.8" fill="#1a1ae8"/><circle cx="302.9" cy="361.8" r="1.1" fill="#1a1ae8"/><circle cx="304.9" cy="367.6" r="1.2" fill="#1a1ae8"/><circle cx="297.8" cy="365.2" r="1.3" fill="#1a1ae8"/><circle cx="306.4" cy="355.9" r="0.8" fill="#1a1ae8"/><circle cx="295.5" cy="366.1" r="1.4" fill="#1a1ae8"/><circle cx="312.1" cy="358.8" r="0.9" fill="#1a1ae8"/><circle cx="309.7" cy="355.1" r="0.9" fill="#1a1ae8"/><circle cx="301.7" cy="368.2" r="1.1" fill="#1a1ae8"/><circle cx="304.1" cy="351.0" r="0.7" fill="#1a1ae8"/><circle cx="312.7" cy="365.3" r="0.8" fill="#1a1ae8"/><circle cx="290.3" cy="353.6" r="0.8" fill="#1a1ae8"/><circle cx="293.6" cy="362.8" r="0.7" fill="#1a1ae8"/><circle cx="295.2" cy="349.9" r="0.6" fill="#1a1ae8"/><circle cx="311.8" cy="368.5" r="1.2" fill="#1a1ae8"/><circle cx="311.5" cy="369.0" r="1.0" fill="#1a1ae8"/><circle cx="302.0" cy="362.1" r="0.7" fill="#1a1ae8"/><circle cx="310.5" cy="361.5" r="0.7" fill="#1a1ae8"/><circle cx="293.4" cy="358.5" r="1.1" fill="#1a1ae8"/><circle cx="311.0" cy="356.5" r="0.9" fill="#1a1ae8"/><circle cx="309.9" cy="353.4" r="1.0" fill="#1a1ae8"/><circle cx="299.8" cy="369.0" r="0.7" fill="#1a1ae8"/><circle cx="313.2" cy="358.1" r="1.3" fill="#1a1ae8"/><circle cx="289.1" cy="365.8" r="1.3" fill="#1a1ae8"/><circle cx="294.8" cy="366.7" r="1.3" fill="#1a1ae8"/><circle cx="304.3" cy="354.2" r="1.3" fill="#1a1ae8"/><circle cx="305.2" cy="355.8" r="1.3" fill="#1a1ae8"/><circle cx="304.1" cy="356.9" r="1.3" fill="#1a1ae8"/><circle cx="311.6" cy="367.1" r="1.2" fill="#1a1ae8"/><circle cx="303.5" cy="362.9" r="1.4" fill="#1a1ae8"/><circle cx="296.2" cy="348.6" r="1.2" fill="#1a1ae8"/><circle cx="300.4" cy="363.5" r="1.1" fill="#1a1ae8"/><circle cx="293.2" cy="352.4" r="0.7" fill="#1a1ae8"/><circle cx="306.2" cy="349.7" r="1.4" fill="#1a1ae8"/><circle cx="310.0" cy="362.3" r="0.6" fill="#1a1ae8"/><circle cx="299.9" cy="350.6" r="0.9" fill="#1a1ae8"/><circle cx="309.7" cy="355.5" r="0.9" fill="#1a1ae8"/><circle cx="294.7" cy="368.1" r="1.2" fill="#1a1ae8"/><circle cx="306.4" cy="360.0" r="0.7" fill="#1a1ae8"/><circle cx="307.9" cy="359.0" r="1.1" fill="#1a1ae8"/><circle cx="310.4" cy="356.3" r="1.1" fill="#1a1ae8"/><circle cx="293.4" cy="362.4" r="0.6" fill="#1a1ae8"/><circle cx="293.6" cy="355.2" r="1.3" fill="#1a1ae8"/><circle cx="289.8" cy="370.3" r="0.7" fill="#1a1ae8"/><circle cx="311.8" cy="362.0" r="0.7" fill="#1a1ae8"/><circle cx="295.9" cy="360.6" r="1.4" fill="#1a1ae8"/><circle cx="290.8" cy="353.8" r="1.3" fill="#1a1ae8"/><circle cx="294.6" cy="364.2" r="1.1" fill="#1a1ae8"/><circle cx="308.2" cy="351.8" r="0.8" fill="#1a1ae8"/><circle cx="303.6" cy="357.7" r="1.4" fill="#1a1ae8"/><circle cx="291.0" cy="352.9" r="1.4" fill="#1a1ae8"/><circle cx="305.4" cy="373.0" r="0.7" fill="#1a1ae8"/><circle cx="299.9" cy="363.5" r="1.0" fill="#1a1ae8"/><circle cx="296.5" cy="369.8" r="1.3" fill="#1a1ae8"/><circle cx="290.4" cy="353.0" r="0.8" fill="#1a1ae8"/><circle cx="302.6" cy="352.2" r="1.1" fill="#1a1ae8"/><circle cx="296.0" cy="357.6" r="1.2" fill="#1a1ae8"/><circle cx="291.5" cy="372.4" r="1.2" fill="#1a1ae8"/><circle cx="313.2" cy="361.9" r="0.6" fill="#1a1ae8"/><circle cx="294.9" cy="369.0" r="0.9" fill="#1a1ae8"/><circle cx="290.0" cy="358.0" r="1.0" fill="#1a1ae8"/><circle cx="296.3" cy="360.3" r="0.7" fill="#1a1ae8"/><circle cx="307.2" cy="359.4" r="0.7" fill="#1a1ae8"/><circle cx="294.6" cy="363.9" r="1.3" fill="#1a1ae8"/><circle cx="301.3" cy="351.8" r="1.1" fill="#1a1ae8"/><circle cx="303.4" cy="365.2" r="1.2" fill="#1a1ae8"/><circle cx="294.3" cy="359.9" r="0.9" fill="#1a1ae8"/><circle cx="304.4" cy="351.4" r="0.9" fill="#1a1ae8"/><circle cx="305.6" cy="363.4" r="1.4" fill="#1a1ae8"/><circle cx="295.7" cy="363.2" r="1.0" fill="#1a1ae8"/><circle cx="296.6" cy="373.6" r="0.8" fill="#1a1ae8"/><circle cx="299.7" cy="349.8" r="1.3" fill="#1a1ae8"/><circle cx="290.2" cy="368.8" r="1.1" fill="#1a1ae8"/><circle cx="303.5" cy="363.4" r="0.8" fill="#1a1ae8"/><circle cx="287.7" cy="361.2" r="1.3" fill="#1a1ae8"/><circle cx="292.1" cy="361.1" r="0.8" fill="#1a1ae8"/><circle cx="311.8" cy="355.2" r="0.9" fill="#1a1ae8"/><circle cx="288.1" cy="359.9" r="0.7" fill="#1a1ae8"/><circle cx="298.3" cy="375.2" r="0.8" fill="#1a1ae8"/><circle cx="309.7" cy="352.5" r="1.3" fill="#1a1ae8"/><circle cx="294.5" cy="362.6" r="0.9" fill="#1a1ae8"/><circle cx="288.7" cy="366.5" r="1.1" fill="#1a1ae8"/><circle cx="304.3" cy="362.3" r="1.0" fill="#1a1ae8"/><circle cx="298.7" cy="350.3" r="0.7" fill="#1a1ae8"/><circle cx="308.1" cy="356.4" r="0.9" fill="#1a1ae8"/><circle cx="294.0" cy="364.8" r="0.7" fill="#1a1ae8"/><circle cx="304.6" cy="348.3" r="1.4" fill="#1a1ae8"/><circle cx="290.6" cy="370.6" r="1.0" fill="#1a1ae8"/><circle cx="298.3" cy="355.7" r="0.9" fill="#1a1ae8"/></g><g filter="url(#bl1)"><path d="M303.69,361.00 L303.42,362.63 L302.76,363.84 L301.89,364.69 L301.04,365.28 L300.40,365.82 L300.03,366.53 L299.84,367.51 L299.67,368.68 L299.36,369.83 L298.83,370.71 L298.12,371.21 L297.30,371.36 L296.45,371.33 L295.50,371.28 L294.56,371.30 L293.70,371.33 L292.87,371.25 L292.09,370.93 L291.42,370.34 L290.86,369.55 L290.39,368.67 L289.94,367.78 L289.48,366.92 L289.01,366.01 L288.58,365.00 L288.26,363.84 L288.10,362.53 L288.10,361.00 L288.22,359.50 L288.42,358.23 L288.68,357.06 L289.01,355.99 L289.42,355.03 L289.94,354.21 L290.55,353.58 L291.21,353.10 L291.89,352.73 L292.55,352.40 L293.21,352.07 L293.88,351.72 L294.62,351.38 L295.50,351.08 L296.43,350.85 L297.29,350.73 L298.13,350.75 L298.94,350.98 L299.67,351.46 L300.28,352.19 L300.76,353.10 L301.15,354.10 L301.52,355.08 L301.97,356.00 L302.52,356.95 L303.09,358.03 L303.54,359.34Z" fill="#1a1ae8"/><path d="M309.85,354.00 L309.85,354.47 L309.80,354.88 L309.66,355.26 L309.42,355.61 L309.14,355.93 L308.85,356.25 L308.58,356.59 L308.29,356.96 L307.94,357.34 L307.47,357.67 L306.86,357.90 L306.14,357.99 L305.35,357.95 L304.50,357.81 L303.72,357.61 L303.11,357.39 L302.58,357.17 L302.12,356.94 L301.72,356.70 L301.37,356.45 L301.06,356.19 L300.78,355.93 L300.51,355.66 L300.26,355.39 L300.01,355.10 L299.76,354.79 L299.50,354.44 L299.20,354.00 L298.87,353.51 L298.55,353.01 L298.35,352.49 L298.37,351.99 L298.69,351.58 L299.29,351.30 L300.07,351.18 L300.87,351.16 L301.57,351.15 L302.13,351.07 L302.60,350.86 L303.09,350.57 L303.70,350.31 L304.50,350.18 L305.31,350.25 L305.93,350.50 L306.41,350.85 L306.78,351.18 L307.16,351.42 L307.60,351.57 L308.14,351.68 L308.70,351.82 L309.19,352.04 L309.54,352.35 L309.72,352.72 L309.79,353.12 L309.82,353.53Z" fill="#1a1ae8"/></g><g filter="url(#bl1)"><path d="M298.63,359.00 L298.63,359.69 L298.58,360.37 L298.49,361.06 L298.35,361.73 L298.14,362.37 L297.86,362.95 L297.51,363.43 L297.09,363.78 L296.62,363.97 L296.14,364.01 L295.67,363.93 L295.25,363.83 L294.87,363.79 L294.50,363.88 L294.11,364.10 L293.67,364.36 L293.19,364.53 L292.71,364.47 L292.31,364.14 L292.03,363.56 L291.88,362.86 L291.80,362.17 L291.71,361.58 L291.55,361.09 L291.32,360.64 L291.07,360.15 L290.87,359.60 L290.77,359.00 L290.77,358.38 L290.83,357.76 L290.89,357.14 L290.92,356.46 L290.97,355.73 L291.09,354.99 L291.33,354.33 L291.71,353.84 L292.19,353.57 L292.70,353.48 L293.19,353.47 L293.64,353.45 L294.07,353.37 L294.50,353.30 L294.93,353.34 L295.34,353.57 L295.69,354.00 L295.95,354.57 L296.14,355.15 L296.33,355.62 L296.57,355.95 L296.90,356.18 L297.30,356.41 L297.72,356.71 L298.10,357.14 L298.38,357.69 L298.55,358.33Z" fill="#28c0f0"/><path d="M301.26,357.00 L301.28,357.37 L301.08,357.71 L300.73,357.99 L300.36,358.21 L300.07,358.41 L299.89,358.66 L299.77,358.99 L299.65,359.36 L299.43,359.68 L299.09,359.89 L298.67,359.92 L298.23,359.80 L297.84,359.62 L297.50,359.46 L297.20,359.37 L296.89,359.35 L296.56,359.35 L296.23,359.31 L295.93,359.19 L295.67,359.01 L295.44,358.80 L295.21,358.60 L294.94,358.41 L294.63,358.21 L294.30,357.98 L294.02,357.69 L293.85,357.36 L293.80,357.00 L293.87,356.64 L294.03,356.31 L294.24,356.00 L294.48,355.73 L294.74,355.48 L295.03,355.28 L295.33,355.11 L295.64,354.96 L295.94,354.82 L296.22,354.67 L296.50,354.51 L296.81,354.34 L297.14,354.20 L297.50,354.10 L297.88,354.08 L298.25,354.13 L298.60,354.25 L298.91,354.43 L299.17,354.67 L299.37,354.95 L299.51,355.24 L299.62,355.52 L299.76,355.76 L299.98,355.96 L300.29,356.15 L300.67,356.37 L301.03,356.65Z" fill="#40d0e0"/><path d="M299.23,357.50 L299.16,357.72 L299.16,357.95 L299.18,358.19 L299.16,358.45 L299.06,358.68 L298.86,358.85 L298.60,358.95 L298.33,359.01 L298.09,359.07 L297.88,359.16 L297.69,359.29 L297.48,359.42 L297.25,359.52 L297.00,359.55 L296.75,359.52 L296.52,359.43 L296.30,359.31 L296.11,359.18 L295.94,359.04 L295.79,358.88 L295.66,358.72 L295.53,358.56 L295.38,358.42 L295.19,358.29 L294.94,358.16 L294.67,357.98 L294.45,357.76 L294.33,357.50 L294.34,357.23 L294.46,356.97 L294.65,356.75 L294.85,356.56 L295.04,356.38 L295.23,356.21 L295.43,356.07 L295.66,355.97 L295.91,355.93 L296.16,355.92 L296.38,355.90 L296.58,355.83 L296.78,355.70 L297.00,355.54 L297.26,355.43 L297.52,355.43 L297.75,355.56 L297.91,355.78 L298.03,356.00 L298.16,356.18 L298.35,356.28 L298.61,356.33 L298.93,356.40 L299.21,356.53 L299.38,356.74 L299.41,357.00 L299.33,357.26Z" fill="#a8e838"/><path d="M297.07,366.00 L297.01,366.44 L296.85,366.85 L296.61,367.19 L296.31,367.45 L295.99,367.64 L295.72,367.79 L295.49,367.95 L295.31,368.15 L295.15,368.40 L294.98,368.66 L294.77,368.89 L294.54,369.07 L294.27,369.19 L294.00,369.27 L293.71,369.33 L293.41,369.38 L293.09,369.40 L292.76,369.36 L292.44,369.24 L292.15,369.03 L291.92,368.73 L291.73,368.37 L291.60,367.97 L291.51,367.57 L291.46,367.16 L291.44,366.76 L291.45,366.38 L291.47,366.00 L291.50,365.63 L291.53,365.26 L291.58,364.89 L291.68,364.54 L291.85,364.23 L292.07,363.99 L292.33,363.82 L292.59,363.68 L292.81,363.53 L293.01,363.30 L293.19,362.99 L293.41,362.63 L293.68,362.31 L294.00,362.14 L294.33,362.17 L294.63,362.39 L294.87,362.75 L295.06,363.12 L295.23,363.45 L295.41,363.68 L295.65,363.85 L295.92,364.00 L296.22,364.18 L296.50,364.43 L296.74,364.75 L296.92,365.13 L297.04,365.55Z" fill="#40c8e0"/><path d="M295.73,366.50 L295.62,366.74 L295.43,366.92 L295.23,367.06 L295.11,367.19 L295.09,367.38 L295.14,367.67 L295.19,368.04 L295.19,368.42 L295.08,368.72 L294.88,368.88 L294.65,368.89 L294.41,368.82 L294.19,368.74 L294.00,368.69 L293.81,368.68 L293.62,368.67 L293.42,368.63 L293.25,368.53 L293.09,368.38 L292.95,368.21 L292.81,368.04 L292.67,367.87 L292.55,367.68 L292.44,367.47 L292.38,367.23 L292.36,366.99 L292.35,366.74 L292.34,366.50 L292.33,366.26 L292.32,366.00 L292.34,365.75 L292.43,365.52 L292.58,365.35 L292.77,365.23 L292.95,365.14 L293.10,365.04 L293.22,364.89 L293.32,364.69 L293.45,364.47 L293.61,364.28 L293.80,364.18 L294.00,364.16 L294.20,364.19 L294.40,364.22 L294.61,364.25 L294.82,364.29 L295.03,364.38 L295.20,364.55 L295.32,364.79 L295.38,365.08 L295.41,365.35 L295.46,365.59 L295.55,365.80 L295.66,366.01 L295.74,366.25Z" fill="#b0e840"/></g>
</g>
<rect x="319.7" y="303.6" width="35.6" height="90.0" fill="#282828"/>
<g clip-path="url(#cD4)">
<rect x="319.7" y="303.6" width="5.7" height="90.0" fill="#464646" filter="url(#bl1)"/>
<rect x="321.1" y="303.6" width="0.9" height="90.0" fill="#626262" filter="url(#bl1)"/>
<rect x="351.7" y="303.6" width="3.6" height="90.0" fill="#1e1e1e" filter="url(#bl1)"/>
<polygon points="325.8,303.6 351.7,303.6 352.1,314.4 351.4,326.1 351.4,339.6 352.5,353.1 353.2,366.6 352.8,380.1 352.8,393.6 341.8,393.6 340.3,388.2 336.4,388.2 334.7,393.6 324.7,393.6 324.0,382.8 324.3,368.4 325.0,353.1 326.1,341.4 326.8,326.1 326.1,314.4" fill="#d4d4d4" filter="url(#bl2)"/>
<ellipse cx="338.2" cy="360.3" rx="10.7" ry="17.1" fill="#eeeeee" filter="url(#bl3)"/>
<ellipse cx="338.2" cy="333.3" rx="5.7" ry="9.9" fill="#eeeeee" filter="url(#bl3)"/>
<rect x="326.1" y="303.6" width="24.2" height="6.8" fill="#b0b0b0" filter="url(#bl1)"/>
<ellipse cx="339.3" cy="316.2" rx="8.5" ry="3.6" fill="#505050" filter="url(#bl1)"/>
<ellipse cx="335.7" cy="316.4" rx="5.3" ry="3.8" fill="#1e1e1e" filter="url(#bl1)"/>
<ellipse cx="338.2" cy="392.7" rx="2.5" ry="5.0" fill="#2a2a2a" filter="url(#bl1)"/>
<ellipse cx="320.4" cy="392.7" rx="3.6" ry="7.2" fill="#2a2a2a" filter="url(#bl1)"/>
<g filter="url(#bl1)"><circle cx="332.1" cy="350.6" r="1.0" fill="#2a14e0"/><circle cx="326.6" cy="359.9" r="0.8" fill="#2a14e0"/><circle cx="326.3" cy="359.2" r="0.5" fill="#2a14e0"/><circle cx="334.5" cy="348.7" r="0.6" fill="#2a14e0"/><circle cx="334.3" cy="366.8" r="0.6" fill="#2a14e0"/><circle cx="329.9" cy="362.1" r="1.2" fill="#2a14e0"/><circle cx="337.7" cy="356.5" r="1.2" fill="#2a14e0"/><circle cx="331.4" cy="350.5" r="0.6" fill="#2a14e0"/><circle cx="331.8" cy="366.6" r="0.6" fill="#2a14e0"/><circle cx="337.8" cy="362.3" r="0.8" fill="#2a14e0"/><circle cx="337.1" cy="348.5" r="0.5" fill="#2a14e0"/><circle cx="329.5" cy="363.3" r="0.8" fill="#2a14e0"/><circle cx="331.9" cy="361.1" r="0.8" fill="#2a14e0"/><circle cx="331.6" cy="366.1" r="1.0" fill="#2a14e0"/><circle cx="330.4" cy="360.8" r="0.9" fill="#2a14e0"/><circle cx="344.3" cy="364.5" r="0.7" fill="#2a14e0"/><circle cx="334.2" cy="365.2" r="0.6" fill="#2a14e0"/><circle cx="339.7" cy="365.3" r="0.9" fill="#2a14e0"/><circle cx="344.3" cy="354.5" r="1.0" fill="#2a14e0"/><circle cx="338.1" cy="360.9" r="0.8" fill="#2a14e0"/><circle cx="335.4" cy="362.9" r="0.5" fill="#2a14e0"/><circle cx="340.4" cy="362.5" r="1.2" fill="#2a14e0"/><circle cx="343.1" cy="353.8" r="0.8" fill="#2a14e0"/><circle cx="335.2" cy="351.0" r="0.6" fill="#2a14e0"/><circle cx="327.8" cy="352.9" r="0.8" fill="#2a14e0"/><circle cx="334.9" cy="360.2" r="1.1" fill="#2a14e0"/><circle cx="331.1" cy="357.0" r="0.8" fill="#2a14e0"/><circle cx="330.1" cy="352.6" r="0.8" fill="#2a14e0"/><circle cx="338.0" cy="353.3" r="0.5" fill="#2a14e0"/><circle cx="334.2" cy="355.9" r="0.9" fill="#2a14e0"/><circle cx="336.3" cy="361.8" r="1.0" fill="#2a14e0"/><circle cx="342.6" cy="356.4" r="0.8" fill="#2a14e0"/><circle cx="327.3" cy="362.2" r="0.5" fill="#2a14e0"/><circle cx="328.6" cy="355.2" r="0.5" fill="#2a14e0"/><circle cx="327.2" cy="355.7" r="0.5" fill="#2a14e0"/><circle cx="344.2" cy="361.7" r="0.6" fill="#2a14e0"/><circle cx="330.5" cy="355.3" r="0.8" fill="#2a14e0"/><circle cx="335.6" cy="349.1" r="0.6" fill="#2a14e0"/><circle cx="332.5" cy="353.4" r="1.1" fill="#2a14e0"/><circle cx="345.9" cy="359.7" r="0.6" fill="#2a14e0"/><circle cx="344.0" cy="363.7" r="0.7" fill="#2a14e0"/><circle cx="333.1" cy="351.0" r="1.0" fill="#2a14e0"/><circle cx="336.7" cy="365.7" r="0.7" fill="#2a14e0"/><circle cx="329.9" cy="366.5" r="1.2" fill="#2a14e0"/><circle cx="343.0" cy="364.8" r="0.7" fill="#2a14e0"/><circle cx="336.4" cy="355.5" r="0.5" fill="#2a14e0"/><circle cx="330.7" cy="363.6" r="1.2" fill="#2a14e0"/><circle cx="333.0" cy="352.3" r="0.7" fill="#2a14e0"/><circle cx="329.3" cy="351.9" r="0.9" fill="#2a14e0"/><circle cx="335.5" cy="362.7" r="1.1" fill="#2a14e0"/><circle cx="326.9" cy="362.9" r="1.1" fill="#2a14e0"/><circle cx="342.2" cy="365.0" r="0.8" fill="#2a14e0"/><circle cx="328.9" cy="365.9" r="0.7" fill="#2a14e0"/><circle cx="333.7" cy="356.6" r="1.2" fill="#2a14e0"/><circle cx="340.9" cy="351.1" r="0.6" fill="#2a14e0"/><circle cx="339.5" cy="355.4" r="0.9" fill="#2a14e0"/><circle cx="334.5" cy="367.9" r="1.1" fill="#2a14e0"/><circle cx="329.6" cy="353.0" r="0.7" fill="#2a14e0"/><circle cx="330.3" cy="361.1" r="0.7" fill="#2a14e0"/><circle cx="334.2" cy="350.1" r="1.1" fill="#2a14e0"/><circle cx="332.8" cy="358.0" r="0.9" fill="#2a14e0"/><circle cx="344.9" cy="357.1" r="1.1" fill="#2a14e0"/><circle cx="336.0" cy="359.8" r="0.9" fill="#2a14e0"/><circle cx="342.6" cy="351.1" r="0.8" fill="#2a14e0"/><circle cx="341.0" cy="360.4" r="0.7" fill="#2a14e0"/><circle cx="336.4" cy="360.3" r="1.0" fill="#2a14e0"/><circle cx="327.3" cy="360.4" r="0.7" fill="#2a14e0"/><circle cx="331.1" cy="365.5" r="0.9" fill="#2a14e0"/><circle cx="337.4" cy="365.2" r="1.1" fill="#2a14e0"/><circle cx="334.8" cy="361.7" r="0.9" fill="#2a14e0"/><circle cx="336.3" cy="363.6" r="0.8" fill="#2a14e0"/><circle cx="336.7" cy="358.5" r="1.2" fill="#2a14e0"/><circle cx="340.4" cy="368.0" r="1.2" fill="#2a14e0"/><circle cx="330.7" cy="360.4" r="1.2" fill="#2a14e0"/><circle cx="327.7" cy="357.6" r="0.6" fill="#2a14e0"/><circle cx="339.7" cy="365.8" r="1.1" fill="#2a14e0"/><circle cx="328.4" cy="364.2" r="1.0" fill="#2a14e0"/><circle cx="334.5" cy="359.4" r="0.7" fill="#2a14e0"/><circle cx="329.3" cy="354.6" r="1.0" fill="#2a14e0"/><circle cx="332.3" cy="362.0" r="0.9" fill="#2a14e0"/></g><g filter="url(#bl1)"><path d="M337.34,357.00 L337.47,357.75 L337.37,358.50 L337.04,359.16 L336.54,359.67 L335.96,360.04 L335.39,360.30 L334.87,360.51 L334.42,360.71 L334.02,360.94 L333.66,361.21 L333.30,361.55 L332.93,361.95 L332.50,362.37 L332.00,362.71 L331.46,362.85 L330.93,362.71 L330.48,362.30 L330.14,361.71 L329.89,361.10 L329.65,360.61 L329.33,360.26 L328.90,360.02 L328.40,359.77 L327.90,359.41 L327.51,358.92 L327.27,358.32 L327.16,357.67 L327.12,357.00 L327.10,356.32 L327.11,355.63 L327.19,354.94 L327.42,354.30 L327.78,353.76 L328.24,353.33 L328.71,352.98 L329.15,352.63 L329.54,352.22 L329.94,351.78 L330.41,351.44 L330.95,351.35 L331.50,351.60 L332.00,352.12 L332.39,352.75 L332.70,353.24 L333.02,353.45 L333.43,353.36 L333.99,353.12 L334.65,352.95 L335.27,353.00 L335.77,353.32 L336.10,353.85 L336.32,354.46 L336.51,355.07 L336.76,355.67 L337.06,356.30Z" fill="#2a14e0"/></g>
</g>
<rect x="357.0" y="305.0" width="6.6" height="70.0" fill="url(#cbar)"/>
<line x1="363.6" y1="305.7" x2="364.6" y2="305.7" stroke="#555" stroke-width="0.4"/>
<text x="365.2" y="306.8" font-size="3.0" text-anchor="start" fill="#555" >50000</text>
<line x1="363.6" y1="320.4" x2="364.6" y2="320.4" stroke="#555" stroke-width="0.4"/>
<text x="365.2" y="321.4" font-size="3.0" text-anchor="start" fill="#555" >40000</text>
<line x1="363.6" y1="335.8" x2="364.6" y2="335.8" stroke="#555" stroke-width="0.4"/>
<text x="365.2" y="336.9" font-size="3.0" text-anchor="start" fill="#555" >30000</text>
<line x1="363.6" y1="351.9" x2="364.6" y2="351.9" stroke="#555" stroke-width="0.4"/>
<text x="365.2" y="352.9" font-size="3.0" text-anchor="start" fill="#555" >20000</text>
<line x1="363.6" y1="367.3" x2="364.6" y2="367.3" stroke="#555" stroke-width="0.4"/>
<text x="365.2" y="368.4" font-size="3.0" text-anchor="start" fill="#555" >10000</text>
<text x="357.0" y="383.5" font-size="7.0" text-anchor="start" fill="#222" >p/sec/</text>
<text x="357.0" y="391.2" font-size="7.0" text-anchor="start" fill="#222" >cm<tspan font-size="4.2" dy="-2.4">2</tspan><tspan dy="2.4">/sr</tspan></text>
<line x1="409.5" y1="307.3" x2="409.5" y2="392.0" stroke="#222" stroke-width="0.8"/>
<line x1="407.7" y1="392.0" x2="409.5" y2="392.0" stroke="#222" stroke-width="0.8"/>
<text x="406.5" y="394.2" font-size="6.0" text-anchor="end" font-weight="bold" fill="#222" >0</text>
<line x1="407.7" y1="363.8" x2="409.5" y2="363.8" stroke="#222" stroke-width="0.8"/>
<text x="406.5" y="365.9" font-size="6.0" text-anchor="end" font-weight="bold" fill="#222" >6</text>
<line x1="407.7" y1="335.5" x2="409.5" y2="335.5" stroke="#222" stroke-width="0.8"/>
<text x="406.5" y="337.7" font-size="6.0" text-anchor="end" font-weight="bold" fill="#222" >12</text>
<line x1="407.7" y1="307.3" x2="409.5" y2="307.3" stroke="#222" stroke-width="0.8"/>
<text x="406.5" y="309.5" font-size="6.0" text-anchor="end" font-weight="bold" fill="#222" >18</text>
<line x1="409.5" y1="392.0" x2="490.8" y2="392.0" stroke="#222" stroke-width="0.8"/>
<rect x="418.1" y="320.9" width="18.4" height="71.1" fill="#fff" stroke="#333" stroke-width="0.8"/>
<line x1="427.3" y1="315.5" x2="427.3" y2="320.9" stroke="#111" stroke-width="0.8"/><line x1="424.1" y1="315.5" x2="430.5" y2="315.5" stroke="#111" stroke-width="0.8"/><line x1="424.1" y1="320.9" x2="430.5" y2="320.9" stroke="#111" stroke-width="0.8"/>
<text x="427.3" y="313.7" font-size="7.6" text-anchor="middle" fill="#222" >15.1</text>
<text x="427.3" y="400.6" font-size="7.9" text-anchor="middle" fill="#222" >WT</text>
<rect x="453.9" y="372.7" width="18.9" height="19.3" fill="#fff" stroke="#333" stroke-width="0.8"/>
<line x1="463.3" y1="366.1" x2="463.3" y2="372.7" stroke="#111" stroke-width="0.8"/><line x1="460.1" y1="366.1" x2="466.5" y2="366.1" stroke="#111" stroke-width="0.8"/><line x1="460.1" y1="372.7" x2="466.5" y2="372.7" stroke="#111" stroke-width="0.8"/>
<text x="463.3" y="364.3" font-size="7.6" text-anchor="middle" fill="#222" >4.0</text>
<text x="463.3" y="400.6" font-size="7.9" text-anchor="middle" fill="#222" >IL-15KO</text>
<rect x="447.1" y="302.9" width="4.4" height="8.2" fill="#fff" stroke="#333" stroke-width="0.7"/>
<text x="453.9" y="309.6" font-size="8.4" text-anchor="start" fill="#222" >CD8 T<tspan font-size="5.2" dy="1.8">M</tspan></text>
<text transform="translate(397.2,349.0) rotate(-90)" font-size="7.9" font-weight="bold" text-anchor="middle" fill="#222">TBL (x10<tspan font-size="5.2" dy="-2.8">-5</tspan><tspan dy="2.8"> p/s)</tspan></text>
<text x="3.8" y="425.9" font-size="11.2" text-anchor="start" font-weight="bold" fill="#111" >E</text>
<line x1="42.0" y1="446.5" x2="42.0" y2="552.7" stroke="#222" stroke-width="0.9"/>
<line x1="40.0" y1="552.7" x2="42.0" y2="552.7" stroke="#222" stroke-width="0.9"/>
<text x="39.4" y="555.1" font-size="6.8" text-anchor="end" font-weight="bold" fill="#222" >0</text>
<line x1="40.0" y1="531.5" x2="42.0" y2="531.5" stroke="#222" stroke-width="0.9"/>
<text x="39.4" y="533.9" font-size="6.8" text-anchor="end" font-weight="bold" fill="#222" >2</text>
<line x1="40.0" y1="510.2" x2="42.0" y2="510.2" stroke="#222" stroke-width="0.9"/>
<text x="39.4" y="512.6" font-size="6.8" text-anchor="end" font-weight="bold" fill="#222" >4</text>
<line x1="40.0" y1="489.0" x2="42.0" y2="489.0" stroke="#222" stroke-width="0.9"/>
<text x="39.4" y="491.4" font-size="6.8" text-anchor="end" font-weight="bold" fill="#222" >6</text>
<line x1="40.0" y1="467.7" x2="42.0" y2="467.7" stroke="#222" stroke-width="0.9"/>
<text x="39.4" y="470.1" font-size="6.8" text-anchor="end" font-weight="bold" fill="#222" >8</text>
<line x1="40.0" y1="446.5" x2="42.0" y2="446.5" stroke="#222" stroke-width="0.9"/>
<text x="39.4" y="448.9" font-size="6.8" text-anchor="end" font-weight="bold" fill="#222" >10</text>
<line x1="42.0" y1="552.7" x2="147.6" y2="552.7" stroke="#222" stroke-width="0.9"/>
<line x1="49.2" y1="552.7" x2="49.2" y2="554.7" stroke="#222" stroke-width="0.9"/>
<text x="49.2" y="561.4" font-size="6.8" text-anchor="middle" font-weight="bold" fill="#222" >1</text>
<line x1="62.4" y1="552.7" x2="62.4" y2="554.7" stroke="#222" stroke-width="0.9"/>
<text x="62.4" y="561.4" font-size="6.8" text-anchor="middle" font-weight="bold" fill="#222" >2</text>
<line x1="75.6" y1="552.7" x2="75.6" y2="554.7" stroke="#222" stroke-width="0.9"/>
<text x="75.6" y="561.4" font-size="6.8" text-anchor="middle" font-weight="bold" fill="#222" >3</text>
<line x1="88.8" y1="552.7" x2="88.8" y2="554.7" stroke="#222" stroke-width="0.9"/>
<text x="88.8" y="561.4" font-size="6.8" text-anchor="middle" font-weight="bold" fill="#222" >4</text>
<line x1="102.0" y1="552.7" x2="102.0" y2="554.7" stroke="#222" stroke-width="0.9"/>
<text x="102.0" y="561.4" font-size="6.8" text-anchor="middle" font-weight="bold" fill="#222" >5</text>
<line x1="115.2" y1="552.7" x2="115.2" y2="554.7" stroke="#222" stroke-width="0.9"/>
<text x="115.2" y="561.4" font-size="6.8" text-anchor="middle" font-weight="bold" fill="#222" >6</text>
<line x1="128.4" y1="552.7" x2="128.4" y2="554.7" stroke="#222" stroke-width="0.9"/>
<text x="128.4" y="561.4" font-size="6.8" text-anchor="middle" font-weight="bold" fill="#222" >8</text>
<line x1="141.6" y1="552.7" x2="141.6" y2="554.7" stroke="#222" stroke-width="0.9"/>
<text x="141.6" y="561.4" font-size="6.8" text-anchor="middle" font-weight="bold" fill="#222" >9</text>
<text x="95.6" y="572.4" font-size="8.4" text-anchor="middle" font-weight="bold" fill="#222" >Day(s)</text>
<text transform="translate(30.0,498.5) rotate(-90)" font-size="8.4" font-weight="bold" text-anchor="middle" fill="#222">TBL Fold Change (d0=1)</text>
<polyline points="49.2,542.1 62.4,541.0 75.6,512.3 88.8,498.5 102.0,466.7 115.2,461.4 128.4,515.5 141.6,516.6" fill="none" stroke="#222" stroke-width="0.9"/>
<polyline points="49.2,542.1 62.4,535.0 75.6,533.6 88.8,523.0 102.0,517.7 115.2,515.5 128.4,533.6 141.6,533.6" fill="none" stroke="#222" stroke-width="0.9"/>
<line x1="62.4" y1="538.4" x2="62.4" y2="543.7" stroke="#333" stroke-width="0.95"/><line x1="60.2" y1="538.4" x2="64.6" y2="538.4" stroke="#333" stroke-width="0.95"/><line x1="60.2" y1="543.7" x2="64.6" y2="543.7" stroke="#333" stroke-width="0.95"/>
<line x1="75.6" y1="509.2" x2="75.6" y2="515.5" stroke="#333" stroke-width="0.95"/><line x1="73.4" y1="509.2" x2="77.8" y2="509.2" stroke="#333" stroke-width="0.95"/><line x1="73.4" y1="515.5" x2="77.8" y2="515.5" stroke="#333" stroke-width="0.95"/>
<line x1="88.8" y1="489.0" x2="88.8" y2="508.1" stroke="#333" stroke-width="0.95"/><line x1="86.6" y1="489.0" x2="91.0" y2="489.0" stroke="#333" stroke-width="0.95"/><line x1="86.6" y1="508.1" x2="91.0" y2="508.1" stroke="#333" stroke-width="0.95"/>
<line x1="102.0" y1="459.8" x2="102.0" y2="473.6" stroke="#333" stroke-width="0.95"/><line x1="99.8" y1="459.8" x2="104.2" y2="459.8" stroke="#333" stroke-width="0.95"/><line x1="99.8" y1="473.6" x2="104.2" y2="473.6" stroke="#333" stroke-width="0.95"/>
<line x1="115.2" y1="456.6" x2="115.2" y2="466.1" stroke="#333" stroke-width="0.95"/><line x1="113.0" y1="456.6" x2="117.4" y2="456.6" stroke="#333" stroke-width="0.95"/><line x1="113.0" y1="466.1" x2="117.4" y2="466.1" stroke="#333" stroke-width="0.95"/>
<line x1="128.4" y1="511.8" x2="128.4" y2="519.2" stroke="#333" stroke-width="0.95"/><line x1="126.2" y1="511.8" x2="130.6" y2="511.8" stroke="#333" stroke-width="0.95"/><line x1="126.2" y1="519.2" x2="130.6" y2="519.2" stroke="#333" stroke-width="0.95"/>
<line x1="141.6" y1="513.4" x2="141.6" y2="519.8" stroke="#333" stroke-width="0.95"/><line x1="139.4" y1="513.4" x2="143.8" y2="513.4" stroke="#333" stroke-width="0.95"/><line x1="139.4" y1="519.8" x2="143.8" y2="519.8" stroke="#333" stroke-width="0.95"/>
<line x1="75.6" y1="530.9" x2="75.6" y2="536.2" stroke="#333" stroke-width="0.95"/><line x1="73.4" y1="530.9" x2="77.8" y2="530.9" stroke="#333" stroke-width="0.95"/><line x1="73.4" y1="536.2" x2="77.8" y2="536.2" stroke="#333" stroke-width="0.95"/>
<line x1="88.8" y1="518.7" x2="88.8" y2="527.2" stroke="#333" stroke-width="0.95"/><line x1="86.6" y1="518.7" x2="91.0" y2="518.7" stroke="#333" stroke-width="0.95"/><line x1="86.6" y1="527.2" x2="91.0" y2="527.2" stroke="#333" stroke-width="0.95"/>
<line x1="102.0" y1="514.5" x2="102.0" y2="520.8" stroke="#333" stroke-width="0.95"/><line x1="99.8" y1="514.5" x2="104.2" y2="514.5" stroke="#333" stroke-width="0.95"/><line x1="99.8" y1="520.8" x2="104.2" y2="520.8" stroke="#333" stroke-width="0.95"/>
<line x1="115.2" y1="509.2" x2="115.2" y2="521.9" stroke="#333" stroke-width="0.95"/><line x1="113.0" y1="509.2" x2="117.4" y2="509.2" stroke="#333" stroke-width="0.95"/><line x1="113.0" y1="521.9" x2="117.4" y2="521.9" stroke="#333" stroke-width="0.95"/>
<line x1="128.4" y1="531.5" x2="128.4" y2="535.7" stroke="#333" stroke-width="0.95"/><line x1="126.2" y1="531.5" x2="130.6" y2="531.5" stroke="#333" stroke-width="0.95"/><line x1="126.2" y1="535.7" x2="130.6" y2="535.7" stroke="#333" stroke-width="0.95"/>
<line x1="141.6" y1="530.4" x2="141.6" y2="536.8" stroke="#333" stroke-width="0.95"/><line x1="139.4" y1="530.4" x2="143.8" y2="530.4" stroke="#333" stroke-width="0.95"/><line x1="139.4" y1="536.8" x2="143.8" y2="536.8" stroke="#333" stroke-width="0.95"/>
<circle cx="49.2" cy="542.1" r="2.6" fill="#111"/>
<circle cx="62.4" cy="535.0" r="2.6" fill="#111"/>
<circle cx="75.6" cy="533.6" r="2.6" fill="#111"/>
<circle cx="88.8" cy="523.0" r="2.6" fill="#111"/>
<circle cx="102.0" cy="517.7" r="2.6" fill="#111"/>
<circle cx="115.2" cy="515.5" r="2.6" fill="#111"/>
<circle cx="128.4" cy="533.6" r="2.6" fill="#111"/>
<circle cx="141.6" cy="533.6" r="2.6" fill="#111"/>
<circle cx="49.2" cy="542.1" r="2.4" fill="#fff" stroke="#222" stroke-width="0.95"/>
<circle cx="62.4" cy="541.0" r="2.4" fill="#fff" stroke="#222" stroke-width="0.95"/>
<circle cx="75.6" cy="512.3" r="2.4" fill="#fff" stroke="#222" stroke-width="0.95"/>
<circle cx="88.8" cy="498.5" r="2.4" fill="#fff" stroke="#222" stroke-width="0.95"/>
<circle cx="102.0" cy="466.7" r="2.4" fill="#fff" stroke="#222" stroke-width="0.95"/>
<circle cx="115.2" cy="461.4" r="2.4" fill="#fff" stroke="#222" stroke-width="0.95"/>
<circle cx="128.4" cy="515.5" r="2.4" fill="#fff" stroke="#222" stroke-width="0.95"/>
<circle cx="141.6" cy="516.6" r="2.4" fill="#fff" stroke="#222" stroke-width="0.95"/>
<line x1="47.5" y1="451.6" x2="55.3" y2="451.6" stroke="#222" stroke-width="0.8"/><circle cx="51.4" cy="451.6" r="2.6" fill="#111"/>
<text x="59.6" y="454.7" font-size="8.9" text-anchor="start" fill="#222" >CD4 T<tspan font-size="5.5" dy="2.0">M</tspan></text>
<line x1="47.5" y1="461.3" x2="55.3" y2="461.3" stroke="#222" stroke-width="0.8"/><circle cx="51.4" cy="461.3" r="2.4" fill="#fff" stroke="#222" stroke-width="0.8"/>
<text x="59.6" y="464.5" font-size="8.9" text-anchor="start" fill="#222" >CD8 T<tspan font-size="5.5" dy="2.0">M</tspan></text>
<text x="155.4" y="425.7" font-size="11.2" text-anchor="start" font-weight="bold" fill="#111" >F</text>
<text x="264.9" y="418.3" font-size="10.2" text-anchor="start" fill="#222" >CD4 T<tspan font-size="6.3" dy="2.2">M</tspan></text>
<line x1="225.9" y1="422.1" x2="338.4" y2="422.1" stroke="#333" stroke-width="0.9"/>
<text x="405.2" y="418.3" font-size="10.2" text-anchor="start" fill="#222" >CD8 T<tspan font-size="6.3" dy="2.2">M</tspan></text>
<line x1="366.1" y1="422.2" x2="479.4" y2="422.2" stroke="#333" stroke-width="0.9"/>
<text x="242.5" y="430.3" font-size="8.6" text-anchor="middle" fill="#222" >day1</text>
<text x="282.3" y="430.3" font-size="8.6" text-anchor="middle" fill="#222" >day6</text>
<text x="321.0" y="430.3" font-size="8.6" text-anchor="middle" fill="#222" >day9</text>
<text x="382.5" y="430.3" font-size="8.6" text-anchor="middle" fill="#222" >day1</text>
<text x="422.2" y="430.3" font-size="8.6" text-anchor="middle" fill="#222" >day6</text>
<text x="461.5" y="430.3" font-size="8.6" text-anchor="middle" fill="#222" >day9</text>
<rect x="187.7" y="432.9" width="30.8" height="72.2" fill="#282828"/>
<g clip-path="url(#cFa)">
<rect x="187.7" y="432.9" width="4.0" height="72.2" fill="#464646" filter="url(#bl1)"/>
<rect x="188.9" y="432.9" width="0.8" height="72.2" fill="#626262" filter="url(#bl1)"/>
<rect x="215.4" y="432.9" width="3.1" height="72.2" fill="#1e1e1e" filter="url(#bl1)"/>
<polygon points="192.3,432.9 214.8,432.9 215.4,438.7 214.2,444.5 212.3,448.8 211.7,454.6 213.0,461.8 215.4,467.6 216.3,476.2 216.7,487.0 215.4,493.5 216.3,499.3 215.4,505.1 207.1,505.1 205.6,500.0 202.2,500.0 200.6,505.1 191.4,505.1 190.2,499.3 190.8,493.5 190.2,483.4 190.8,472.6 192.9,465.4 195.1,460.3 195.4,451.7 193.2,445.9 191.4,440.1 191.4,432.9" fill="#e6e6e6" filter="url(#bl2)"/>
<ellipse cx="203.7" cy="478.4" rx="9.2" ry="13.7" fill="#ececec" filter="url(#bl3)"/>
<ellipse cx="203.7" cy="456.7" rx="4.9" ry="7.9" fill="#ececec" filter="url(#bl3)"/>
<ellipse cx="193.9" cy="454.6" rx="2.8" ry="8.7" fill="#444" filter="url(#bl3)"/>
<ellipse cx="213.9" cy="454.6" rx="2.8" ry="8.7" fill="#333" filter="url(#bl3)"/>
<rect x="193.2" y="432.9" width="20.9" height="5.4" fill="#b0b0b0" filter="url(#bl1)"/>
<rect x="194.5" y="433.6" width="19.1" height="4.3" fill="#e0e0e0" filter="url(#bl1)"/>
<ellipse cx="196.6" cy="442.6" rx="1.7" ry="2.5" fill="#6a6a6a" filter="url(#bl1)"/>
<ellipse cx="209.0" cy="442.6" rx="1.7" ry="2.5" fill="#6a6a6a" filter="url(#bl1)"/>
<ellipse cx="196.9" cy="502.9" rx="1.5" ry="3.6" fill="#555" filter="url(#bl1)"/>
<ellipse cx="210.5" cy="502.9" rx="1.5" ry="3.6" fill="#555" filter="url(#bl1)"/>
<ellipse cx="203.7" cy="504.4" rx="2.2" ry="4.0" fill="#2a2a2a" filter="url(#bl1)"/>
<ellipse cx="188.3" cy="504.4" rx="3.1" ry="5.8" fill="#2a2a2a" filter="url(#bl1)"/>
<g filter="url(#bl1)"><path d="M212.24,475.40 L212.06,476.28 L211.86,477.15 L211.64,478.02 L211.39,478.91 L211.03,479.81 L210.49,480.66 L209.74,481.41 L208.78,482.01 L207.69,482.43 L206.53,482.70 L205.36,482.85 L204.21,482.93 L203.10,482.98 L202.00,483.00 L200.90,483.00 L199.78,482.95 L198.65,482.83 L197.54,482.59 L196.47,482.23 L195.48,481.75 L194.61,481.14 L193.87,480.43 L193.26,479.67 L192.75,478.86 L192.35,478.02 L192.04,477.17 L191.83,476.29 L191.74,475.40 L191.79,474.51 L191.97,473.62 L192.26,472.75 L192.65,471.90 L193.15,471.08 L193.76,470.30 L194.51,469.59 L195.41,468.98 L196.42,468.51 L197.51,468.16 L198.62,467.91 L199.74,467.71 L200.86,467.56 L202.00,467.44 L203.16,467.41 L204.32,467.51 L205.43,467.78 L206.46,468.21 L207.38,468.75 L208.21,469.36 L208.99,469.97 L209.78,470.58 L210.56,471.22 L211.27,471.93 L211.84,472.72 L212.20,473.59 L212.31,474.50Z" fill="#e86454"/></g><g filter="url(#bl1)"><ellipse cx="202.1" cy="448.4" rx="3.2" ry="2.3" fill="#6a58d0"/><ellipse cx="197.0" cy="456.4" rx="3.0" ry="3.6" fill="#6a58d0"/><ellipse cx="208.0" cy="456.4" rx="3.0" ry="3.6" fill="#6a58d0"/><ellipse cx="196.7" cy="474.0" rx="2.0" ry="4.0" fill="#6a58d0"/><ellipse cx="193.7" cy="482.7" rx="2.5" ry="2.8" fill="#6a58d0"/><ellipse cx="212.4" cy="482.7" rx="2.5" ry="2.8" fill="#6a58d0"/><ellipse cx="209.7" cy="470.7" rx="2.8" ry="4.0" fill="#78dc50"/><ellipse cx="191.0" cy="489.4" rx="1.5" ry="4.0" fill="#e4ec70"/><ellipse cx="215.0" cy="489.4" rx="1.5" ry="4.0" fill="#e4ec70"/></g>
</g>
<text x="181.8" y="451.0" font-size="6.9" text-anchor="end" fill="#222" >CLNs</text>
<line x1="182.8" y1="448.6" x2="188" y2="448.6" stroke="#777" stroke-width="0.5"/>
<text x="181.8" y="462.1" font-size="6.9" text-anchor="end" fill="#222" >A/BLNs</text>
<line x1="182.8" y1="459.7" x2="188" y2="459.7" stroke="#777" stroke-width="0.5"/>
<text x="181.8" y="470.0" font-size="6.9" text-anchor="end" fill="#222" >SP</text>
<line x1="182.8" y1="467.6" x2="188" y2="467.6" stroke="#777" stroke-width="0.5"/>
<text x="181.8" y="477.0" font-size="6.9" text-anchor="end" fill="#222" >MLNs</text>
<line x1="182.8" y1="474.6" x2="188" y2="474.6" stroke="#777" stroke-width="0.5"/>
<text x="181.8" y="484.6" font-size="6.9" text-anchor="end" fill="#222" >Gut</text>
<line x1="182.8" y1="482.2" x2="188" y2="482.2" stroke="#777" stroke-width="0.5"/>
<text x="181.8" y="493.4" font-size="6.9" text-anchor="end" fill="#222" >IgLNs</text>
<line x1="182.8" y1="491.0" x2="188" y2="491.0" stroke="#777" stroke-width="0.5"/>
<text x="181.8" y="503.0" font-size="6.9" text-anchor="end" fill="#222" >BM</text>
<line x1="182.8" y1="500.6" x2="188" y2="500.6" stroke="#777" stroke-width="0.5"/>
<rect x="225.8" y="432.9" width="33.4" height="71.9" fill="#282828"/>
<g clip-path="url(#cFv0)">
<rect x="225.8" y="432.9" width="4.3" height="71.9" fill="#464646" filter="url(#bl1)"/>
<rect x="227.1" y="432.9" width="0.8" height="71.9" fill="#626262" filter="url(#bl1)"/>
<rect x="255.9" y="432.9" width="3.3" height="71.9" fill="#1e1e1e" filter="url(#bl1)"/>
<polygon points="230.8,432.9 255.2,432.9 255.9,438.7 254.5,444.4 252.5,448.7 251.9,454.5 253.2,461.7 255.9,467.4 256.9,476.0 257.2,486.8 255.9,493.3 256.9,499.0 255.9,504.8 246.8,504.8 245.2,499.8 241.5,499.8 239.8,504.8 229.8,504.8 228.5,499.0 229.1,493.3 228.5,483.2 229.1,472.4 231.5,465.3 233.8,460.2 234.2,451.6 231.8,445.8 229.8,440.1 229.8,432.9" fill="#c8c8c8" filter="url(#bl2)"/>
<ellipse cx="243.2" cy="478.2" rx="10.0" ry="13.7" fill="#ececec" filter="url(#bl3)"/>
<ellipse cx="243.2" cy="456.6" rx="5.3" ry="7.9" fill="#ececec" filter="url(#bl3)"/>
<ellipse cx="232.5" cy="454.5" rx="3.0" ry="8.6" fill="#444" filter="url(#bl3)"/>
<ellipse cx="254.2" cy="454.5" rx="3.0" ry="8.6" fill="#333" filter="url(#bl3)"/>
<rect x="231.8" y="432.9" width="22.7" height="5.4" fill="#b0b0b0" filter="url(#bl1)"/>
<rect x="233.1" y="433.6" width="20.7" height="4.3" fill="#e0e0e0" filter="url(#bl1)"/>
<ellipse cx="235.5" cy="442.6" rx="1.8" ry="2.5" fill="#6a6a6a" filter="url(#bl1)"/>
<ellipse cx="248.8" cy="442.6" rx="1.8" ry="2.5" fill="#6a6a6a" filter="url(#bl1)"/>
<ellipse cx="235.8" cy="502.6" rx="1.7" ry="3.6" fill="#555" filter="url(#bl1)"/>
<ellipse cx="250.5" cy="502.6" rx="1.7" ry="3.6" fill="#555" filter="url(#bl1)"/>
<ellipse cx="243.2" cy="504.1" rx="2.3" ry="4.0" fill="#2a2a2a" filter="url(#bl1)"/>
<ellipse cx="226.5" cy="504.1" rx="3.3" ry="5.8" fill="#2a2a2a" filter="url(#bl1)"/>
<g filter="url(#bl1)"><path d="M259.32,480.70 L259.23,483.65 L258.77,485.44 L258.00,486.81 L257.05,487.87 L256.07,488.74 L255.16,489.54 L254.36,490.39 L253.63,491.32 L252.85,492.32 L251.86,493.27 L250.55,494.00 L248.85,494.41 L246.74,494.46 L243.50,494.23 L240.40,493.86 L238.50,493.50 L236.88,493.21 L235.36,492.93 L233.97,492.55 L232.78,491.94 L231.88,491.06 L231.31,489.95 L230.97,488.72 L230.71,487.47 L230.38,486.23 L229.90,484.92 L229.33,483.36 L228.81,480.70 L228.50,477.89 L228.49,476.04 L228.75,474.49 L229.23,473.15 L229.82,471.95 L230.52,470.85 L231.34,469.85 L232.36,469.02 L233.62,468.42 L235.12,468.10 L236.78,468.01 L238.56,468.05 L240.53,468.10 L243.50,468.09 L246.49,468.01 L248.47,467.96 L250.19,468.07 L251.66,468.43 L252.87,469.06 L253.82,469.88 L254.59,470.81 L255.30,471.75 L256.04,472.68 L256.84,473.64 L257.68,474.72 L258.46,476.06 L259.04,477.79Z" fill="#cdb4ff"/><path d="M257.83,480.90 L257.75,483.56 L257.30,485.16 L256.56,486.37 L255.66,487.30 L254.73,488.05 L253.89,488.74 L253.18,489.49 L252.56,490.35 L251.89,491.28 L251.04,492.17 L249.87,492.86 L248.34,493.24 L246.43,493.27 L243.50,493.03 L240.71,492.67 L239.02,492.33 L237.56,492.07 L236.19,491.83 L234.92,491.51 L233.84,490.97 L233.05,490.17 L232.57,489.15 L232.31,488.02 L232.12,486.89 L231.83,485.79 L231.38,484.64 L230.83,483.26 L230.31,480.90 L229.99,478.38 L229.95,476.72 L230.19,475.32 L230.61,474.12 L231.15,473.04 L231.77,472.04 L232.50,471.14 L233.42,470.39 L234.57,469.86 L235.94,469.60 L237.46,469.55 L239.08,469.63 L240.85,469.70 L243.50,469.69 L246.18,469.60 L247.96,469.54 L249.51,469.62 L250.84,469.93 L251.91,470.50 L252.75,471.26 L253.42,472.10 L254.03,472.95 L254.70,473.77 L255.45,474.61 L256.24,475.56 L256.99,476.73 L257.56,478.28Z" fill="#2a1ef0"/><path d="M251.35,476.50 L251.51,476.96 L251.51,477.37 L251.26,477.72 L250.79,477.97 L250.22,478.13 L249.70,478.24 L249.33,478.39 L249.11,478.63 L248.92,478.97 L248.67,479.32 L248.29,479.59 L247.76,479.72 L247.16,479.70 L246.50,479.58 L245.90,479.41 L245.41,479.27 L244.96,479.16 L244.52,479.07 L244.08,478.96 L243.67,478.82 L243.27,478.65 L242.89,478.46 L242.54,478.23 L242.24,477.96 L242.07,477.64 L242.06,477.27 L242.20,476.89 L242.42,476.50 L242.59,476.14 L242.64,475.83 L242.54,475.48 L242.36,475.08 L242.25,474.65 L242.33,474.24 L242.62,473.92 L243.10,473.71 L243.65,473.61 L244.22,473.54 L244.76,473.49 L245.30,473.43 L245.87,473.43 L246.50,473.52 L247.07,473.72 L247.48,473.99 L247.80,474.24 L248.12,474.40 L248.53,474.44 L249.06,474.40 L249.68,474.38 L250.25,474.46 L250.67,474.68 L250.90,474.99 L250.98,475.35 L251.04,475.71 L251.16,476.07Z" fill="#3a58ff"/><path d="M248.80,475.50 L248.68,475.63 L248.67,475.76 L248.76,475.92 L248.88,476.12 L248.94,476.33 L248.87,476.52 L248.67,476.64 L248.40,476.70 L248.13,476.72 L247.89,476.75 L247.68,476.83 L247.48,476.94 L247.26,477.05 L247.00,477.11 L246.74,477.08 L246.50,476.98 L246.30,476.86 L246.11,476.77 L245.88,476.72 L245.60,476.70 L245.29,476.67 L244.99,476.59 L244.78,476.45 L244.69,476.26 L244.71,476.05 L244.79,475.84 L244.88,475.66 L244.96,475.50 L245.02,475.35 L245.08,475.20 L245.17,475.06 L245.27,474.93 L245.37,474.80 L245.46,474.66 L245.55,474.51 L245.66,474.35 L245.82,474.22 L246.03,474.13 L246.27,474.09 L246.52,474.08 L246.77,474.08 L247.00,474.06 L247.24,474.02 L247.51,473.97 L247.80,473.94 L248.08,473.97 L248.33,474.05 L248.55,474.18 L248.73,474.32 L248.90,474.47 L249.06,474.62 L249.17,474.79 L249.21,474.97 L249.13,475.17 L248.98,475.35Z" fill="#5a9cff"/><path d="M243.09,485.50 L243.13,485.65 L243.17,485.81 L243.21,485.98 L243.19,486.16 L243.09,486.33 L242.88,486.49 L242.57,486.60 L242.19,486.68 L241.79,486.72 L241.42,486.76 L241.07,486.81 L240.73,486.86 L240.37,486.92 L240.00,486.97 L239.61,486.98 L239.22,486.97 L238.83,486.93 L238.45,486.88 L238.08,486.81 L237.71,486.73 L237.35,486.64 L237.02,486.52 L236.74,486.38 L236.52,486.22 L236.35,486.05 L236.24,485.87 L236.21,485.68 L236.26,485.50 L236.43,485.33 L236.68,485.18 L236.99,485.05 L237.28,484.94 L237.52,484.83 L237.71,484.72 L237.86,484.58 L238.04,484.45 L238.28,484.33 L238.59,484.24 L238.94,484.20 L239.30,484.18 L239.64,484.15 L240.00,484.08 L240.40,483.97 L240.87,483.86 L241.40,483.78 L241.93,483.79 L242.37,483.88 L242.68,484.06 L242.85,484.28 L242.90,484.51 L242.91,484.72 L242.92,484.90 L242.96,485.06 L243.00,485.21 L243.05,485.35Z" fill="#3a58ff"/><path d="M247.18,450.30 L247.08,450.55 L246.98,450.80 L246.88,451.04 L246.77,451.28 L246.64,451.52 L246.47,451.76 L246.24,451.97 L245.96,452.16 L245.65,452.32 L245.31,452.45 L244.96,452.57 L244.59,452.68 L244.20,452.76 L243.80,452.81 L243.39,452.80 L242.99,452.72 L242.63,452.59 L242.30,452.44 L241.99,452.27 L241.68,452.12 L241.36,451.97 L241.04,451.81 L240.75,451.61 L240.52,451.38 L240.37,451.12 L240.28,450.85 L240.23,450.58 L240.21,450.30 L240.22,450.02 L240.28,449.75 L240.41,449.49 L240.64,449.26 L240.95,449.07 L241.29,448.93 L241.62,448.81 L241.91,448.68 L242.16,448.51 L242.40,448.31 L242.67,448.08 L243.00,447.89 L243.38,447.75 L243.80,447.70 L244.22,447.74 L244.62,447.84 L244.99,447.96 L245.34,448.10 L245.69,448.24 L246.03,448.39 L246.35,448.55 L246.65,448.74 L246.90,448.96 L247.09,449.21 L247.21,449.48 L247.26,449.76 L247.24,450.03Z" fill="#cdb4ff"/><path d="M246.37,450.30 L246.37,450.47 L246.33,450.65 L246.25,450.81 L246.15,450.98 L246.01,451.13 L245.84,451.28 L245.63,451.40 L245.38,451.49 L245.11,451.55 L244.83,451.58 L244.56,451.61 L244.31,451.63 L244.05,451.65 L243.80,451.67 L243.54,451.68 L243.28,451.68 L243.01,451.66 L242.74,451.62 L242.46,451.58 L242.19,451.51 L241.93,451.42 L241.70,451.30 L241.51,451.16 L241.37,451.00 L241.28,450.83 L241.22,450.65 L241.20,450.48 L241.21,450.30 L241.27,450.13 L241.36,449.97 L241.48,449.81 L241.63,449.67 L241.78,449.54 L241.92,449.40 L242.08,449.27 L242.25,449.13 L242.46,449.02 L242.72,448.95 L242.99,448.92 L243.27,448.92 L243.54,448.93 L243.80,448.93 L244.06,448.91 L244.34,448.88 L244.64,448.85 L244.95,448.86 L245.24,448.93 L245.47,449.05 L245.64,449.20 L245.76,449.36 L245.87,449.52 L245.98,449.67 L246.11,449.82 L246.23,449.97 L246.32,450.13Z" fill="#2a1ef0"/></g>
</g>
<rect x="265.8" y="432.9" width="33.0" height="71.9" fill="#282828"/>
<g clip-path="url(#cFv1)">
<rect x="265.8" y="432.9" width="4.3" height="71.9" fill="#464646" filter="url(#bl1)"/>
<rect x="267.1" y="432.9" width="0.8" height="71.9" fill="#626262" filter="url(#bl1)"/>
<rect x="295.5" y="432.9" width="3.3" height="71.9" fill="#1e1e1e" filter="url(#bl1)"/>
<polygon points="270.8,432.9 294.8,432.9 295.5,438.7 294.2,444.4 292.2,448.7 291.5,454.5 292.9,461.7 295.5,467.4 296.5,476.0 296.8,486.8 295.5,493.3 296.5,499.0 295.5,504.8 286.6,504.8 284.9,499.8 281.3,499.8 279.7,504.8 269.8,504.8 268.4,499.0 269.1,493.3 268.4,483.2 269.1,472.4 271.4,465.3 273.7,460.2 274.1,451.6 271.7,445.8 269.8,440.1 269.8,432.9" fill="#c8c8c8" filter="url(#bl2)"/>
<ellipse cx="283.0" cy="478.2" rx="9.9" ry="13.7" fill="#ececec" filter="url(#bl3)"/>
<ellipse cx="283.0" cy="456.6" rx="5.3" ry="7.9" fill="#ececec" filter="url(#bl3)"/>
<ellipse cx="272.4" cy="454.5" rx="3.0" ry="8.6" fill="#444" filter="url(#bl3)"/>
<ellipse cx="293.9" cy="454.5" rx="3.0" ry="8.6" fill="#333" filter="url(#bl3)"/>
<rect x="271.7" y="432.9" width="22.4" height="5.4" fill="#b0b0b0" filter="url(#bl1)"/>
<rect x="273.1" y="433.6" width="20.5" height="4.3" fill="#e0e0e0" filter="url(#bl1)"/>
<ellipse cx="275.4" cy="442.6" rx="1.8" ry="2.5" fill="#6a6a6a" filter="url(#bl1)"/>
<ellipse cx="288.6" cy="442.6" rx="1.8" ry="2.5" fill="#6a6a6a" filter="url(#bl1)"/>
<ellipse cx="275.7" cy="502.6" rx="1.7" ry="3.6" fill="#555" filter="url(#bl1)"/>
<ellipse cx="290.2" cy="502.6" rx="1.7" ry="3.6" fill="#555" filter="url(#bl1)"/>
<ellipse cx="283.0" cy="504.1" rx="2.3" ry="4.0" fill="#2a2a2a" filter="url(#bl1)"/>
<ellipse cx="266.5" cy="504.1" rx="3.3" ry="5.8" fill="#2a2a2a" filter="url(#bl1)"/>
<g filter="url(#bl1)"><path d="M301.03,479.60 L300.89,483.21 L300.78,485.54 L300.59,487.57 L300.16,489.36 L299.44,490.87 L298.43,492.09 L297.24,493.07 L295.94,493.88 L294.59,494.62 L293.15,495.29 L291.54,495.85 L289.69,496.24 L287.48,496.43 L284.00,496.43 L280.54,496.33 L278.32,496.21 L276.35,496.08 L274.50,495.89 L272.76,495.53 L271.21,494.90 L269.91,493.94 L268.90,492.67 L268.17,491.16 L267.65,489.47 L267.31,487.62 L267.11,485.58 L267.07,483.22 L267.18,479.60 L267.43,476.05 L267.77,473.85 L268.16,471.99 L268.59,470.29 L269.08,468.71 L269.73,467.24 L270.59,465.95 L271.69,464.87 L273.01,464.01 L274.51,463.33 L276.18,462.76 L278.08,462.29 L280.35,461.96 L284.00,461.86 L287.62,462.09 L289.80,462.65 L291.50,463.44 L292.92,464.30 L294.25,465.06 L295.63,465.69 L297.11,466.26 L298.59,466.97 L299.90,467.99 L300.83,469.44 L301.31,471.28 L301.39,473.44 L301.23,475.91Z" fill="#cdb4ff"/><path d="M299.73,479.60 L299.58,482.94 L299.50,485.10 L299.35,486.99 L298.98,488.66 L298.30,490.06 L297.35,491.17 L296.21,492.04 L294.99,492.77 L293.74,493.43 L292.41,494.04 L290.94,494.57 L289.24,494.93 L287.20,495.09 L284.00,495.08 L280.82,494.99 L278.78,494.89 L276.95,494.82 L275.21,494.70 L273.56,494.42 L272.09,493.86 L270.87,492.98 L269.94,491.79 L269.27,490.37 L268.82,488.78 L268.53,487.04 L268.38,485.14 L268.37,482.95 L268.50,479.60 L268.76,476.33 L269.09,474.31 L269.45,472.60 L269.83,471.03 L270.26,469.55 L270.82,468.18 L271.60,466.96 L272.60,465.95 L273.83,465.15 L275.22,464.52 L276.77,464.00 L278.52,463.55 L280.62,463.23 L284.00,463.14 L287.35,463.37 L289.35,463.94 L290.89,464.74 L292.17,465.57 L293.37,466.29 L294.66,466.83 L296.08,467.29 L297.52,467.88 L298.80,468.78 L299.70,470.11 L300.13,471.83 L300.16,473.87 L299.96,476.18Z" fill="#2a1ef0"/><path d="M294.45,478.30 L294.30,479.90 L293.98,480.98 L293.61,481.89 L293.28,482.75 L292.98,483.61 L292.63,484.46 L292.08,485.22 L291.23,485.79 L290.12,486.10 L288.84,486.20 L287.53,486.22 L286.25,486.31 L284.87,486.57 L282.80,486.96 L280.54,487.35 L278.82,487.55 L277.33,487.46 L276.10,487.07 L275.12,486.49 L274.29,485.85 L273.52,485.22 L272.75,484.60 L272.06,483.90 L271.56,483.08 L271.39,482.10 L271.53,481.00 L271.87,479.82 L272.21,478.30 L272.40,476.85 L272.39,475.81 L272.27,474.80 L272.19,473.79 L272.31,472.83 L272.68,471.96 L273.30,471.22 L274.13,470.60 L275.12,470.11 L276.26,469.74 L277.56,469.53 L279.02,469.51 L280.64,469.65 L282.80,469.88 L284.86,470.08 L286.30,470.17 L287.67,470.15 L289.06,470.11 L290.41,470.19 L291.58,470.51 L292.47,471.09 L293.05,471.88 L293.39,472.78 L293.64,473.69 L293.89,474.61 L294.17,475.58 L294.39,476.69Z" fill="#20c8f0"/><path d="M292.58,478.40 L292.45,479.65 L292.22,480.50 L291.97,481.24 L291.74,481.95 L291.50,482.64 L291.16,483.29 L290.63,483.87 L289.88,484.29 L288.93,484.56 L287.87,484.69 L286.74,484.72 L285.57,484.70 L284.32,484.67 L282.60,484.61 L280.92,484.53 L279.76,484.42 L278.72,484.32 L277.72,484.22 L276.72,484.12 L275.72,483.97 L274.83,483.69 L274.14,483.24 L273.74,482.61 L273.64,481.88 L273.70,481.10 L273.78,480.33 L273.71,479.53 L273.46,478.40 L273.13,477.20 L272.89,476.28 L272.90,475.46 L273.19,474.75 L273.72,474.18 L274.36,473.69 L275.00,473.23 L275.62,472.75 L276.29,472.26 L277.10,471.83 L278.12,471.56 L279.35,471.51 L280.75,471.66 L282.60,471.93 L284.30,472.20 L285.42,472.41 L286.43,472.55 L287.39,472.68 L288.29,472.86 L289.07,473.16 L289.72,473.55 L290.26,474.02 L290.76,474.52 L291.27,475.04 L291.78,475.61 L292.23,476.30 L292.51,477.14Z" fill="#80e040"/><path d="M289.29,478.00 L289.35,478.36 L289.27,478.72 L289.03,479.03 L288.69,479.28 L288.35,479.49 L288.06,479.70 L287.83,479.95 L287.63,480.23 L287.39,480.51 L287.08,480.74 L286.70,480.86 L286.29,480.89 L285.88,480.84 L285.50,480.80 L285.12,480.78 L284.73,480.80 L284.32,480.81 L283.91,480.76 L283.52,480.63 L283.19,480.42 L282.90,480.16 L282.64,479.90 L282.37,479.64 L282.09,479.37 L281.83,479.07 L281.64,478.73 L281.56,478.37 L281.62,478.00 L281.78,477.65 L281.99,477.33 L282.20,477.04 L282.41,476.76 L282.62,476.49 L282.85,476.24 L283.12,476.01 L283.42,475.82 L283.73,475.66 L284.06,475.50 L284.38,475.34 L284.73,475.19 L285.10,475.07 L285.50,475.00 L285.91,474.99 L286.31,475.03 L286.72,475.10 L287.12,475.20 L287.51,475.33 L287.89,475.51 L288.21,475.75 L288.44,476.04 L288.60,476.38 L288.70,476.71 L288.81,477.03 L288.96,477.34 L289.13,477.66Z" fill="#d8ec20"/><path d="M287.58,478.00 L287.59,478.20 L287.52,478.39 L287.40,478.56 L287.26,478.70 L287.13,478.84 L287.02,478.97 L286.91,479.11 L286.80,479.25 L286.66,479.37 L286.49,479.43 L286.30,479.44 L286.12,479.42 L285.96,479.40 L285.80,479.41 L285.64,479.45 L285.46,479.50 L285.27,479.52 L285.08,479.50 L284.91,479.42 L284.77,479.29 L284.66,479.14 L284.55,479.00 L284.43,478.86 L284.31,478.72 L284.20,478.56 L284.13,478.38 L284.10,478.19 L284.13,478.00 L284.19,477.82 L284.25,477.65 L284.31,477.48 L284.37,477.31 L284.43,477.14 L284.53,476.99 L284.65,476.85 L284.81,476.75 L284.97,476.68 L285.14,476.62 L285.30,476.57 L285.46,476.51 L285.63,476.46 L285.80,476.42 L285.98,476.41 L286.16,476.44 L286.33,476.49 L286.49,476.57 L286.64,476.66 L286.78,476.78 L286.89,476.91 L287.00,477.05 L287.09,477.19 L287.19,477.33 L287.30,477.48 L287.41,477.63 L287.52,477.81Z" fill="#e02010"/><path d="M290.86,450.30 L290.76,450.56 L290.61,450.80 L290.47,451.04 L290.36,451.28 L290.26,451.53 L290.14,451.80 L289.96,452.05 L289.70,452.28 L289.37,452.45 L289.00,452.58 L288.61,452.67 L288.21,452.74 L287.81,452.80 L287.40,452.84 L286.98,452.83 L286.58,452.76 L286.21,452.63 L285.89,452.45 L285.61,452.26 L285.35,452.06 L285.12,451.87 L284.89,451.67 L284.69,451.47 L284.51,451.25 L284.35,451.03 L284.19,450.80 L284.01,450.56 L283.83,450.30 L283.69,450.01 L283.66,449.71 L283.76,449.43 L284.01,449.18 L284.35,448.99 L284.72,448.83 L285.05,448.69 L285.34,448.53 L285.60,448.33 L285.87,448.12 L286.20,447.94 L286.58,447.82 L286.99,447.79 L287.40,447.84 L287.79,447.92 L288.16,448.01 L288.53,448.09 L288.89,448.17 L289.25,448.28 L289.58,448.42 L289.87,448.60 L290.12,448.81 L290.33,449.04 L290.52,449.27 L290.70,449.51 L290.83,449.76 L290.89,450.03Z" fill="#cdb4ff"/><path d="M290.09,450.30 L290.03,450.48 L289.89,450.64 L289.70,450.78 L289.52,450.91 L289.35,451.04 L289.21,451.17 L289.07,451.30 L288.90,451.43 L288.70,451.54 L288.46,451.62 L288.21,451.69 L287.95,451.75 L287.68,451.80 L287.40,451.82 L287.11,451.82 L286.84,451.78 L286.59,451.70 L286.35,451.60 L286.13,451.51 L285.90,451.43 L285.64,451.35 L285.38,451.27 L285.14,451.15 L284.97,451.00 L284.88,450.83 L284.87,450.65 L284.90,450.47 L284.93,450.30 L284.95,450.13 L284.96,449.97 L285.00,449.80 L285.10,449.63 L285.25,449.49 L285.45,449.37 L285.66,449.25 L285.87,449.15 L286.08,449.04 L286.31,448.94 L286.57,448.87 L286.85,448.85 L287.13,448.88 L287.40,448.93 L287.65,448.98 L287.89,449.00 L288.16,449.00 L288.46,448.98 L288.78,448.99 L289.07,449.04 L289.31,449.15 L289.49,449.30 L289.62,449.46 L289.73,449.63 L289.85,449.79 L289.97,449.95 L290.06,450.12Z" fill="#2a1ef0"/></g>
</g>
<rect x="305.0" y="432.9" width="33.8" height="71.9" fill="#282828"/>
<g clip-path="url(#cFv2)">
<rect x="305.0" y="432.9" width="4.4" height="71.9" fill="#464646" filter="url(#bl1)"/>
<rect x="306.4" y="432.9" width="0.8" height="71.9" fill="#626262" filter="url(#bl1)"/>
<rect x="335.4" y="432.9" width="3.4" height="71.9" fill="#1e1e1e" filter="url(#bl1)"/>
<polygon points="310.1,432.9 334.7,432.9 335.4,438.7 334.1,444.4 332.0,448.7 331.4,454.5 332.7,461.7 335.4,467.4 336.4,476.0 336.8,486.8 335.4,493.3 336.4,499.0 335.4,504.8 326.3,504.8 324.6,499.8 320.9,499.8 319.2,504.8 309.1,504.8 307.7,499.0 308.4,493.3 307.7,483.2 308.4,472.4 310.7,465.3 313.1,460.2 313.4,451.6 311.1,445.8 309.1,440.1 309.1,432.9" fill="#c8c8c8" filter="url(#bl2)"/>
<ellipse cx="322.6" cy="478.2" rx="10.1" ry="13.7" fill="#ececec" filter="url(#bl3)"/>
<ellipse cx="322.6" cy="456.6" rx="5.4" ry="7.9" fill="#ececec" filter="url(#bl3)"/>
<ellipse cx="311.8" cy="454.5" rx="3.0" ry="8.6" fill="#444" filter="url(#bl3)"/>
<ellipse cx="333.7" cy="454.5" rx="3.0" ry="8.6" fill="#333" filter="url(#bl3)"/>
<rect x="311.1" y="432.9" width="23.0" height="5.4" fill="#b0b0b0" filter="url(#bl1)"/>
<rect x="312.4" y="433.6" width="21.0" height="4.3" fill="#e0e0e0" filter="url(#bl1)"/>
<ellipse cx="314.8" cy="442.6" rx="1.9" ry="2.5" fill="#6a6a6a" filter="url(#bl1)"/>
<ellipse cx="328.3" cy="442.6" rx="1.9" ry="2.5" fill="#6a6a6a" filter="url(#bl1)"/>
<ellipse cx="315.1" cy="502.6" rx="1.7" ry="3.6" fill="#555" filter="url(#bl1)"/>
<ellipse cx="330.0" cy="502.6" rx="1.7" ry="3.6" fill="#555" filter="url(#bl1)"/>
<ellipse cx="322.6" cy="504.1" rx="2.4" ry="4.0" fill="#2a2a2a" filter="url(#bl1)"/>
<ellipse cx="305.7" cy="504.1" rx="3.4" ry="5.8" fill="#2a2a2a" filter="url(#bl1)"/>
<g filter="url(#bl1)"><path d="M337.04,478.50 L337.14,481.15 L337.05,482.86 L336.70,484.28 L336.07,485.45 L335.15,486.35 L334.01,486.99 L332.78,487.45 L331.58,487.84 L330.47,488.28 L329.40,488.81 L328.25,489.42 L326.87,489.98 L325.08,490.36 L322.10,490.47 L319.13,490.32 L317.32,490.00 L315.83,489.62 L314.47,489.27 L313.16,488.94 L311.90,488.55 L310.76,488.00 L309.84,487.24 L309.17,486.27 L308.72,485.15 L308.38,483.93 L308.07,482.59 L307.76,481.03 L307.52,478.50 L307.49,475.93 L307.75,474.31 L308.31,473.04 L309.06,472.02 L309.87,471.15 L310.63,470.33 L311.33,469.47 L312.04,468.59 L312.90,467.76 L314.02,467.09 L315.43,466.67 L317.13,466.53 L319.11,466.60 L322.10,466.78 L324.99,467.00 L326.79,467.22 L328.31,467.47 L329.67,467.80 L330.88,468.24 L331.94,468.81 L332.87,469.47 L333.72,470.22 L334.50,471.05 L335.22,471.98 L335.85,473.06 L336.38,474.33 L336.78,475.91Z" fill="#cdb4ff"/><path d="M335.56,478.50 L335.67,480.84 L335.59,482.35 L335.28,483.60 L334.69,484.62 L333.83,485.39 L332.75,485.92 L331.60,486.28 L330.50,486.59 L329.50,486.94 L328.56,487.42 L327.57,487.98 L326.35,488.50 L324.76,488.87 L322.10,488.97 L319.45,488.83 L317.84,488.52 L316.52,488.18 L315.30,487.88 L314.12,487.61 L312.97,487.29 L311.92,486.83 L311.09,486.17 L310.50,485.32 L310.11,484.33 L309.82,483.25 L309.54,482.08 L309.24,480.71 L309.01,478.50 L308.97,476.24 L309.21,474.83 L309.74,473.72 L310.46,472.84 L311.21,472.10 L311.90,471.40 L312.51,470.64 L313.11,469.85 L313.86,469.09 L314.84,468.48 L316.11,468.11 L317.64,468.00 L319.43,468.09 L322.10,468.28 L324.67,468.49 L326.27,468.69 L327.63,468.91 L328.84,469.19 L329.92,469.58 L330.86,470.06 L331.70,470.64 L332.45,471.29 L333.16,472.00 L333.82,472.80 L334.42,473.74 L334.92,474.85 L335.30,476.23Z" fill="#2a1ef0"/><path d="M330.47,479.50 L330.96,480.61 L331.18,481.46 L331.08,482.20 L330.74,482.83 L330.24,483.37 L329.67,483.86 L329.06,484.31 L328.36,484.72 L327.54,485.05 L326.59,485.29 L325.52,485.44 L324.35,485.52 L323.04,485.55 L321.20,485.56 L319.37,485.50 L318.12,485.37 L317.09,485.14 L316.24,484.83 L315.52,484.48 L314.87,484.11 L314.24,483.76 L313.61,483.41 L313.00,483.01 L312.48,482.54 L312.06,481.99 L311.75,481.36 L311.48,480.61 L311.23,479.50 L311.00,478.34 L310.87,477.47 L310.96,476.70 L311.35,476.06 L312.03,475.57 L312.89,475.23 L313.80,474.97 L314.65,474.73 L315.42,474.44 L316.19,474.12 L317.06,473.81 L318.12,473.62 L319.39,473.57 L321.20,473.65 L322.95,473.77 L324.17,473.83 L325.35,473.81 L326.56,473.75 L327.74,473.77 L328.75,474.00 L329.40,474.48 L329.63,475.16 L329.53,475.93 L329.31,476.67 L329.21,477.31 L329.41,477.89 L329.88,478.51Z" fill="#20b8f0"/><path d="M328.90,479.50 L328.88,480.11 L328.73,480.57 L328.46,480.97 L328.15,481.33 L327.82,481.68 L327.48,482.02 L327.08,482.34 L326.56,482.61 L325.91,482.82 L325.17,482.96 L324.39,483.09 L323.60,483.26 L322.70,483.50 L321.40,483.78 L319.93,484.03 L318.69,484.14 L317.61,484.05 L316.76,483.77 L316.17,483.35 L315.77,482.90 L315.45,482.47 L315.12,482.10 L314.77,481.75 L314.45,481.39 L314.23,480.99 L314.14,480.56 L314.10,480.09 L314.04,479.50 L313.91,478.89 L313.76,478.38 L313.69,477.89 L313.85,477.45 L314.28,477.08 L314.93,476.82 L315.67,476.64 L316.37,476.46 L316.97,476.24 L317.55,475.96 L318.20,475.67 L319.03,475.44 L320.06,475.36 L321.40,475.42 L322.68,475.57 L323.62,475.70 L324.51,475.77 L325.47,475.76 L326.51,475.74 L327.51,475.81 L328.33,476.04 L328.83,476.42 L329.01,476.92 L328.96,477.44 L328.86,477.95 L328.81,478.42 L328.85,478.90Z" fill="#80e040"/><path d="M327.44,450.00 L327.39,450.26 L327.30,450.52 L327.18,450.76 L327.04,451.00 L326.89,451.25 L326.73,451.49 L326.53,451.74 L326.30,451.97 L325.99,452.17 L325.62,452.31 L325.21,452.38 L324.79,452.38 L324.39,452.35 L324.00,452.34 L323.61,452.35 L323.21,452.38 L322.79,452.37 L322.38,452.30 L322.04,452.14 L321.79,451.90 L321.63,451.62 L321.52,451.36 L321.39,451.13 L321.20,450.93 L320.95,450.73 L320.70,450.52 L320.51,450.27 L320.43,450.00 L320.44,449.72 L320.51,449.45 L320.61,449.19 L320.71,448.91 L320.84,448.64 L321.04,448.38 L321.34,448.17 L321.71,448.03 L322.13,447.96 L322.55,447.93 L322.93,447.90 L323.28,447.83 L323.63,447.72 L324.00,447.60 L324.41,447.53 L324.82,447.54 L325.21,447.63 L325.55,447.79 L325.85,447.98 L326.12,448.17 L326.40,448.36 L326.67,448.54 L326.94,448.74 L327.16,448.96 L327.32,449.20 L327.42,449.46 L327.45,449.73Z" fill="#cdb4ff"/><path d="M326.51,450.00 L326.54,450.17 L326.57,450.35 L326.56,450.54 L326.50,450.72 L326.35,450.89 L326.13,451.02 L325.86,451.11 L325.57,451.18 L325.30,451.24 L325.04,451.30 L324.79,451.36 L324.54,451.41 L324.27,451.44 L324.00,451.44 L323.73,451.42 L323.48,451.37 L323.22,451.33 L322.96,451.29 L322.69,451.25 L322.42,451.19 L322.17,451.10 L321.96,450.98 L321.82,450.82 L321.74,450.65 L321.70,450.48 L321.68,450.32 L321.65,450.16 L321.62,450.00 L321.58,449.84 L321.56,449.67 L321.56,449.49 L321.61,449.31 L321.71,449.14 L321.87,448.98 L322.09,448.85 L322.35,448.76 L322.63,448.69 L322.91,448.64 L323.19,448.61 L323.46,448.57 L323.73,448.54 L324.00,448.51 L324.28,448.51 L324.55,448.55 L324.81,448.62 L325.03,448.72 L325.23,448.83 L325.42,448.93 L325.62,449.03 L325.84,449.12 L326.06,449.23 L326.24,449.35 L326.38,449.50 L326.45,449.66 L326.49,449.83Z" fill="#2a1ef0"/><path d="M325.11,466.80 L325.08,466.97 L325.06,467.14 L325.05,467.31 L325.03,467.50 L324.98,467.68 L324.89,467.85 L324.75,468.00 L324.58,468.12 L324.40,468.22 L324.21,468.30 L324.02,468.37 L323.81,468.41 L323.60,468.42 L323.40,468.39 L323.20,468.35 L323.01,468.31 L322.82,468.27 L322.62,468.23 L322.43,468.18 L322.25,468.08 L322.11,467.95 L322.01,467.78 L321.96,467.60 L321.93,467.43 L321.88,467.27 L321.81,467.12 L321.73,466.97 L321.65,466.80 L321.61,466.62 L321.60,466.44 L321.64,466.25 L321.70,466.07 L321.77,465.89 L321.87,465.71 L321.99,465.55 L322.16,465.41 L322.36,465.33 L322.58,465.29 L322.81,465.30 L323.02,465.32 L323.21,465.33 L323.40,465.31 L323.59,465.28 L323.79,465.27 L323.99,465.29 L324.18,465.36 L324.34,465.46 L324.49,465.59 L324.63,465.71 L324.78,465.82 L324.93,465.95 L325.06,466.09 L325.15,466.26 L325.18,466.44 L325.16,466.62Z" fill="#2a1ef0"/></g>
</g>
<rect x="365.8" y="432.9" width="33.4" height="71.9" fill="#282828"/>
<g clip-path="url(#cFv3)">
<rect x="365.8" y="432.9" width="4.3" height="71.9" fill="#464646" filter="url(#bl1)"/>
<rect x="367.1" y="432.9" width="0.8" height="71.9" fill="#626262" filter="url(#bl1)"/>
<rect x="395.9" y="432.9" width="3.3" height="71.9" fill="#1e1e1e" filter="url(#bl1)"/>
<polygon points="370.8,432.9 395.2,432.9 395.9,438.7 394.5,444.4 392.5,448.7 391.9,454.5 393.2,461.7 395.9,467.4 396.9,476.0 397.2,486.8 395.9,493.3 396.9,499.0 395.9,504.8 386.8,504.8 385.2,499.8 381.5,499.8 379.8,504.8 369.8,504.8 368.5,499.0 369.1,493.3 368.5,483.2 369.1,472.4 371.5,465.3 373.8,460.2 374.2,451.6 371.8,445.8 369.8,440.1 369.8,432.9" fill="#c8c8c8" filter="url(#bl2)"/>
<ellipse cx="383.2" cy="478.2" rx="10.0" ry="13.7" fill="#ececec" filter="url(#bl3)"/>
<ellipse cx="383.2" cy="456.6" rx="5.3" ry="7.9" fill="#ececec" filter="url(#bl3)"/>
<ellipse cx="372.5" cy="454.5" rx="3.0" ry="8.6" fill="#444" filter="url(#bl3)"/>
<ellipse cx="394.2" cy="454.5" rx="3.0" ry="8.6" fill="#333" filter="url(#bl3)"/>
<rect x="371.8" y="432.9" width="22.7" height="5.4" fill="#b0b0b0" filter="url(#bl1)"/>
<rect x="373.1" y="433.6" width="20.7" height="4.3" fill="#e0e0e0" filter="url(#bl1)"/>
<ellipse cx="375.5" cy="442.6" rx="1.8" ry="2.5" fill="#6a6a6a" filter="url(#bl1)"/>
<ellipse cx="388.8" cy="442.6" rx="1.8" ry="2.5" fill="#6a6a6a" filter="url(#bl1)"/>
<ellipse cx="375.8" cy="502.6" rx="1.7" ry="3.6" fill="#555" filter="url(#bl1)"/>
<ellipse cx="390.5" cy="502.6" rx="1.7" ry="3.6" fill="#555" filter="url(#bl1)"/>
<ellipse cx="383.2" cy="504.1" rx="2.3" ry="4.0" fill="#2a2a2a" filter="url(#bl1)"/>
<ellipse cx="366.5" cy="504.1" rx="3.3" ry="5.8" fill="#2a2a2a" filter="url(#bl1)"/>
<g filter="url(#bl1)"><path d="M398.11,479.10 L397.67,481.91 L397.00,483.53 L396.28,484.78 L395.68,485.89 L395.25,487.02 L394.92,488.22 L394.51,489.43 L393.86,490.50 L392.88,491.29 L391.58,491.74 L390.08,491.93 L388.46,491.99 L386.63,492.09 L383.80,492.26 L380.89,492.45 L378.96,492.50 L377.34,492.29 L376.00,491.78 L374.91,491.04 L373.98,490.23 L373.09,489.42 L372.16,488.65 L371.19,487.82 L370.30,486.82 L369.62,485.56 L369.26,483.98 L369.21,482.06 L369.42,479.10 L369.76,476.25 L370.18,474.53 L370.67,473.12 L371.27,471.93 L372.01,470.95 L372.88,470.15 L373.82,469.48 L374.75,468.84 L375.65,468.15 L376.58,467.37 L377.65,466.55 L379.00,465.82 L380.79,465.30 L383.80,465.08 L386.85,465.14 L388.74,465.42 L390.30,465.84 L391.65,466.35 L392.84,466.96 L393.88,467.67 L394.79,468.51 L395.57,469.45 L396.26,470.48 L396.91,471.60 L397.51,472.86 L397.98,474.34 L398.21,476.18Z" fill="#c8acff"/><path d="M396.61,479.10 L396.18,481.60 L395.53,483.02 L394.84,484.10 L394.28,485.07 L393.91,486.06 L393.66,487.15 L393.34,488.26 L392.79,489.24 L391.92,489.96 L390.76,490.35 L389.40,490.49 L387.94,490.52 L386.32,490.59 L383.80,490.77 L381.20,490.96 L379.47,491.03 L378.02,490.85 L376.82,490.38 L375.86,489.71 L375.05,488.97 L374.26,488.25 L373.41,487.58 L372.52,486.87 L371.69,486.00 L371.05,484.88 L370.73,483.47 L370.70,481.74 L370.92,479.10 L371.25,476.57 L371.65,475.04 L372.11,473.80 L372.66,472.76 L373.35,471.90 L374.14,471.22 L374.99,470.65 L375.82,470.10 L376.61,469.48 L377.40,468.76 L378.33,467.99 L379.52,467.29 L381.10,466.80 L383.80,466.58 L386.53,466.63 L388.23,466.89 L389.62,467.28 L390.82,467.75 L391.88,468.29 L392.81,468.93 L393.62,469.68 L394.31,470.52 L394.93,471.44 L395.52,472.43 L396.07,473.54 L396.51,474.85 L396.72,476.49Z" fill="#5a1cf0"/><path d="M389.08,446.10 L389.04,446.63 L388.78,447.06 L388.38,447.43 L387.94,447.74 L387.58,448.04 L387.35,448.39 L387.18,448.82 L386.97,449.28 L386.59,449.70 L386.00,449.99 L385.23,450.09 L384.38,449.99 L383.53,449.78 L382.70,449.54 L381.96,449.38 L381.32,449.31 L380.66,449.31 L379.97,449.32 L379.29,449.26 L378.68,449.10 L378.18,448.84 L377.78,448.53 L377.45,448.19 L377.16,447.83 L376.88,447.46 L376.65,447.06 L376.52,446.62 L376.52,446.10 L376.66,445.60 L376.89,445.18 L377.16,444.81 L377.45,444.46 L377.72,444.12 L377.99,443.77 L378.29,443.43 L378.65,443.09 L379.10,442.77 L379.64,442.50 L380.29,442.30 L381.01,442.18 L381.80,442.15 L382.70,442.20 L383.55,442.33 L384.25,442.49 L384.88,442.67 L385.45,442.86 L385.98,443.06 L386.47,443.29 L386.91,443.55 L387.29,443.84 L387.62,444.14 L387.94,444.46 L388.28,444.80 L388.63,445.16 L388.92,445.58Z" fill="#c8acff"/><path d="M387.67,446.10 L387.90,446.48 L387.98,446.83 L387.83,447.15 L387.45,447.40 L386.94,447.57 L386.41,447.70 L385.95,447.83 L385.59,447.99 L385.28,448.19 L384.93,448.40 L384.49,448.57 L383.96,448.66 L383.36,448.66 L382.70,448.61 L382.06,448.56 L381.50,448.53 L380.94,448.53 L380.36,448.51 L379.80,448.44 L379.32,448.30 L378.95,448.09 L378.68,447.84 L378.45,447.58 L378.21,447.33 L377.94,447.07 L377.66,446.80 L377.46,446.48 L377.40,446.10 L377.52,445.72 L377.78,445.42 L378.11,445.16 L378.45,444.94 L378.77,444.73 L379.08,444.54 L379.40,444.35 L379.76,444.18 L380.15,444.04 L380.58,443.91 L381.03,443.80 L381.51,443.67 L382.04,443.55 L382.70,443.44 L383.41,443.37 L384.05,443.36 L384.64,443.43 L385.18,443.54 L385.65,443.71 L386.06,443.91 L386.39,444.14 L386.64,444.40 L386.80,444.68 L386.89,444.95 L386.99,445.22 L387.15,445.48 L387.39,445.76Z" fill="#5a1cf0"/></g>
</g>
<rect x="405.8" y="432.9" width="32.7" height="71.9" fill="#282828"/>
<g clip-path="url(#cFv4)">
<rect x="405.8" y="432.9" width="4.3" height="71.9" fill="#464646" filter="url(#bl1)"/>
<rect x="407.1" y="432.9" width="0.8" height="71.9" fill="#626262" filter="url(#bl1)"/>
<rect x="435.2" y="432.9" width="3.3" height="71.9" fill="#1e1e1e" filter="url(#bl1)"/>
<polygon points="410.7,432.9 434.6,432.9 435.2,438.7 433.9,444.4 432.0,448.7 431.3,454.5 432.6,461.7 435.2,467.4 436.2,476.0 436.5,486.8 435.2,493.3 436.2,499.0 435.2,504.8 426.4,504.8 424.8,499.8 421.2,499.8 419.5,504.8 409.7,504.8 408.4,499.0 409.1,493.3 408.4,483.2 409.1,472.4 411.4,465.3 413.6,460.2 414.0,451.6 411.7,445.8 409.7,440.1 409.7,432.9" fill="#c8c8c8" filter="url(#bl2)"/>
<ellipse cx="422.8" cy="478.2" rx="9.8" ry="13.7" fill="#ececec" filter="url(#bl3)"/>
<ellipse cx="422.8" cy="456.6" rx="5.2" ry="7.9" fill="#ececec" filter="url(#bl3)"/>
<ellipse cx="412.3" cy="454.5" rx="2.9" ry="8.6" fill="#444" filter="url(#bl3)"/>
<ellipse cx="433.6" cy="454.5" rx="2.9" ry="8.6" fill="#333" filter="url(#bl3)"/>
<rect x="411.7" y="432.9" width="22.2" height="5.4" fill="#b0b0b0" filter="url(#bl1)"/>
<rect x="413.0" y="433.6" width="20.3" height="4.3" fill="#e0e0e0" filter="url(#bl1)"/>
<ellipse cx="415.3" cy="442.6" rx="1.8" ry="2.5" fill="#6a6a6a" filter="url(#bl1)"/>
<ellipse cx="428.4" cy="442.6" rx="1.8" ry="2.5" fill="#6a6a6a" filter="url(#bl1)"/>
<ellipse cx="415.6" cy="502.6" rx="1.6" ry="3.6" fill="#555" filter="url(#bl1)"/>
<ellipse cx="430.0" cy="502.6" rx="1.6" ry="3.6" fill="#555" filter="url(#bl1)"/>
<ellipse cx="422.8" cy="504.1" rx="2.3" ry="4.0" fill="#2a2a2a" filter="url(#bl1)"/>
<ellipse cx="406.5" cy="504.1" rx="3.3" ry="5.8" fill="#2a2a2a" filter="url(#bl1)"/>
<g filter="url(#bl1)"><circle cx="430.2" cy="472.5" r="1.2" fill="#5a1cf0"/><circle cx="409.7" cy="474.0" r="1.1" fill="#5a1cf0"/><circle cx="434.5" cy="489.4" r="1.2" fill="#5a1cf0"/><circle cx="431.9" cy="483.8" r="0.9" fill="#5a1cf0"/><circle cx="407.9" cy="472.3" r="1.1" fill="#5a1cf0"/><circle cx="415.8" cy="473.5" r="1.1" fill="#5a1cf0"/><circle cx="430.2" cy="480.9" r="0.8" fill="#5a1cf0"/><circle cx="426.0" cy="470.1" r="1.1" fill="#5a1cf0"/><circle cx="419.4" cy="472.7" r="0.8" fill="#5a1cf0"/><circle cx="421.2" cy="461.6" r="0.5" fill="#5a1cf0"/><circle cx="422.0" cy="496.3" r="1.1" fill="#5a1cf0"/><circle cx="415.3" cy="470.8" r="0.8" fill="#5a1cf0"/><circle cx="421.9" cy="464.0" r="1.0" fill="#5a1cf0"/><circle cx="410.2" cy="485.3" r="0.9" fill="#5a1cf0"/><circle cx="420.9" cy="459.0" r="0.7" fill="#5a1cf0"/><circle cx="420.7" cy="488.1" r="0.9" fill="#5a1cf0"/><circle cx="427.6" cy="441.4" r="0.8" fill="#5a1cf0"/><circle cx="427.0" cy="443.7" r="0.5" fill="#5a1cf0"/><circle cx="430.4" cy="477.2" r="0.9" fill="#5a1cf0"/><circle cx="413.2" cy="484.4" r="1.1" fill="#5a1cf0"/><circle cx="421.1" cy="474.8" r="0.8" fill="#5a1cf0"/><circle cx="411.7" cy="487.7" r="0.8" fill="#5a1cf0"/><circle cx="416.7" cy="465.8" r="0.9" fill="#5a1cf0"/><circle cx="434.7" cy="480.6" r="0.7" fill="#5a1cf0"/><circle cx="408.5" cy="488.3" r="0.8" fill="#5a1cf0"/><circle cx="411.3" cy="487.6" r="0.6" fill="#5a1cf0"/><circle cx="421.5" cy="464.6" r="0.5" fill="#5a1cf0"/><circle cx="422.0" cy="494.5" r="0.5" fill="#5a1cf0"/><circle cx="421.8" cy="473.2" r="0.7" fill="#5a1cf0"/><circle cx="419.7" cy="479.5" r="0.7" fill="#5a1cf0"/></g><g filter="url(#bl1)"><path d="M438.90,480.30 L439.49,483.66 L439.60,486.13 L439.13,488.18 L438.22,489.83 L437.08,491.15 L435.91,492.31 L434.78,493.40 L433.60,494.41 L432.23,495.21 L430.61,495.61 L428.78,495.56 L426.85,495.18 L424.86,494.74 L422.30,494.53 L419.74,494.70 L417.74,495.21 L415.72,495.80 L413.68,496.18 L411.75,496.13 L410.08,495.57 L408.71,494.57 L407.63,493.24 L406.80,491.68 L406.21,489.93 L405.90,487.97 L405.87,485.83 L406.08,483.47 L406.42,480.30 L406.73,477.25 L406.95,475.13 L407.12,473.20 L407.39,471.38 L407.92,469.74 L408.81,468.40 L410.03,467.42 L411.46,466.76 L412.93,466.24 L414.38,465.71 L415.84,465.09 L417.45,464.44 L419.38,463.88 L422.30,463.58 L425.27,463.57 L427.35,463.79 L429.17,464.12 L430.87,464.52 L432.49,465.01 L433.96,465.73 L435.15,466.81 L435.96,468.26 L436.39,469.96 L436.60,471.74 L436.86,473.49 L437.35,475.23 L438.09,477.21Z" fill="#c8acff"/><path d="M437.39,480.30 L437.98,483.38 L438.10,485.65 L437.67,487.53 L436.82,489.03 L435.75,490.22 L434.67,491.26 L433.63,492.25 L432.55,493.17 L431.31,493.88 L429.83,494.23 L428.15,494.14 L426.39,493.73 L424.59,493.27 L422.30,493.06 L420.01,493.24 L418.20,493.76 L416.35,494.38 L414.47,494.79 L412.69,494.79 L411.14,494.31 L409.88,493.40 L408.89,492.18 L408.14,490.75 L407.62,489.13 L407.35,487.33 L407.36,485.36 L407.58,483.20 L407.91,480.30 L408.22,477.53 L408.42,475.60 L408.56,473.84 L408.77,472.17 L409.24,470.66 L410.05,469.44 L411.18,468.57 L412.49,467.99 L413.85,467.55 L415.16,467.09 L416.47,466.52 L417.92,465.90 L419.66,465.37 L422.30,465.08 L424.99,465.06 L426.88,465.26 L428.53,465.56 L430.08,465.90 L431.56,466.34 L432.91,466.98 L433.99,467.97 L434.71,469.30 L435.07,470.88 L435.23,472.53 L435.44,474.12 L435.89,475.70 L436.60,477.49Z" fill="#5a1cf0"/><path d="M433.46,454.30 L433.43,455.96 L433.79,457.60 L434.36,459.49 L434.80,461.58 L434.80,463.57 L434.23,465.12 L433.19,466.02 L431.90,466.31 L430.60,466.25 L429.45,466.13 L428.44,466.19 L427.51,466.44 L426.54,466.75 L425.40,466.91 L424.26,466.80 L423.30,466.41 L422.45,465.82 L421.69,465.14 L420.97,464.47 L420.25,463.83 L419.47,463.22 L418.65,462.58 L417.78,461.82 L416.94,460.86 L416.22,459.62 L415.74,458.10 L415.61,456.33 L415.83,454.30 L416.32,452.42 L416.90,450.96 L417.40,449.66 L417.73,448.36 L417.91,446.91 L418.09,445.34 L418.43,443.81 L419.03,442.52 L419.88,441.62 L420.89,441.11 L421.96,440.84 L423.03,440.66 L424.14,440.51 L425.40,440.50 L426.63,440.81 L427.61,441.57 L428.36,442.71 L428.94,443.95 L429.46,444.98 L430.11,445.60 L431.01,445.86 L432.13,446.05 L433.26,446.54 L434.11,447.55 L434.45,449.06 L434.28,450.81 L433.84,452.55Z" fill="#c8acff"/><path d="M432.11,454.30 L432.08,455.78 L432.38,457.23 L432.85,458.91 L433.21,460.77 L433.21,462.54 L432.74,463.91 L431.87,464.71 L430.80,464.97 L429.72,464.91 L428.76,464.81 L427.93,464.86 L427.15,465.08 L426.34,465.35 L425.40,465.50 L424.45,465.40 L423.65,465.06 L422.95,464.53 L422.32,463.93 L421.72,463.33 L421.11,462.77 L420.47,462.22 L419.79,461.65 L419.07,460.98 L418.36,460.12 L417.76,459.03 L417.37,457.67 L417.26,456.10 L417.44,454.30 L417.85,452.63 L418.33,451.33 L418.75,450.18 L419.02,449.02 L419.17,447.74 L419.32,446.35 L419.61,444.99 L420.11,443.84 L420.81,443.04 L421.65,442.59 L422.54,442.35 L423.43,442.19 L424.35,442.05 L425.40,442.04 L426.42,442.32 L427.23,443.00 L427.86,444.00 L428.34,445.11 L428.77,446.03 L429.31,446.57 L430.06,446.80 L431.00,446.97 L431.94,447.41 L432.64,448.31 L432.92,449.64 L432.79,451.20 L432.42,452.75Z" fill="#5a1cf0"/><path d="M423.27,462.00 L423.13,462.46 L422.92,462.90 L422.73,463.30 L422.55,463.71 L422.36,464.11 L422.11,464.48 L421.79,464.79 L421.41,465.02 L421.02,465.21 L420.63,465.39 L420.26,465.60 L419.87,465.83 L419.46,466.05 L419.00,466.21 L418.52,466.28 L418.02,466.28 L417.53,466.21 L417.03,466.09 L416.56,465.88 L416.17,465.55 L415.92,465.08 L415.86,464.50 L415.95,463.92 L416.08,463.41 L416.12,463.01 L415.96,462.69 L415.62,462.38 L415.20,462.00 L414.90,461.54 L414.83,461.05 L415.05,460.62 L415.44,460.28 L415.85,460.02 L416.17,459.74 L416.35,459.35 L416.49,458.85 L416.67,458.29 L416.99,457.82 L417.44,457.55 L417.97,457.50 L418.51,457.61 L419.00,457.78 L419.46,457.93 L419.90,458.04 L420.34,458.17 L420.74,458.39 L421.05,458.73 L421.28,459.14 L421.45,459.55 L421.65,459.89 L421.94,460.15 L422.33,460.39 L422.76,460.69 L423.10,461.06 L423.28,461.52Z" fill="#5a1cf0"/><path d="M433.92,463.00 L433.99,463.39 L433.99,463.79 L433.91,464.19 L433.81,464.58 L433.68,464.96 L433.50,465.33 L433.28,465.66 L432.98,465.90 L432.65,466.06 L432.30,466.16 L431.98,466.26 L431.67,466.41 L431.35,466.61 L431.00,466.78 L430.63,466.82 L430.28,466.67 L430.00,466.32 L429.81,465.88 L429.67,465.48 L429.48,465.23 L429.18,465.13 L428.75,465.10 L428.27,465.00 L427.87,464.76 L427.67,464.36 L427.71,463.88 L427.91,463.41 L428.16,463.00 L428.33,462.65 L428.39,462.31 L428.38,461.93 L428.40,461.54 L428.51,461.18 L428.74,460.90 L429.03,460.70 L429.32,460.54 L429.56,460.32 L429.76,460.00 L429.98,459.59 L430.25,459.17 L430.60,458.88 L431.00,458.78 L431.40,458.88 L431.76,459.13 L432.07,459.44 L432.34,459.75 L432.59,460.05 L432.80,460.36 L432.98,460.69 L433.10,461.04 L433.20,461.39 L433.30,461.71 L433.43,462.01 L433.60,462.31 L433.78,462.63Z" fill="#5a1cf0"/><path d="M434.04,479.20 L433.65,480.57 L433.22,481.58 L432.77,482.45 L432.30,483.24 L431.82,483.99 L431.35,484.74 L430.87,485.51 L430.32,486.30 L429.58,487.01 L428.61,487.55 L427.39,487.80 L425.99,487.75 L424.51,487.45 L422.80,487.06 L421.23,486.75 L420.03,486.63 L418.82,486.67 L417.55,486.74 L416.29,486.70 L415.17,486.41 L414.29,485.85 L413.68,485.11 L413.23,484.28 L412.81,483.45 L412.29,482.62 L411.70,481.73 L411.13,480.68 L410.75,479.20 L410.69,477.66 L410.98,476.50 L411.54,475.53 L412.25,474.71 L413.01,474.00 L413.77,473.35 L414.55,472.75 L415.41,472.22 L416.39,471.82 L417.49,471.57 L418.68,471.47 L419.91,471.47 L421.21,471.54 L422.80,471.63 L424.35,471.71 L425.57,471.77 L426.74,471.81 L427.91,471.85 L429.14,471.90 L430.40,472.02 L431.66,472.27 L432.80,472.72 L433.73,473.40 L434.34,474.29 L434.62,475.35 L434.60,476.51 L434.37,477.73Z" fill="#2a90f8"/><path d="M432.85,479.00 L432.85,480.28 L432.55,481.24 L432.07,482.05 L431.52,482.76 L430.98,483.42 L430.42,484.04 L429.79,484.62 L429.03,485.10 L428.13,485.44 L427.11,485.63 L426.02,485.69 L424.90,485.68 L423.73,485.61 L422.30,485.51 L420.92,485.39 L419.86,485.26 L418.87,485.17 L417.86,485.13 L416.77,485.11 L415.62,485.05 L414.52,484.83 L413.65,484.37 L413.15,483.66 L413.07,482.77 L413.28,481.82 L413.54,480.92 L413.61,480.06 L413.39,479.00 L412.94,477.86 L412.50,476.85 L412.34,475.89 L412.61,475.05 L413.26,474.40 L414.13,473.92 L415.01,473.53 L415.79,473.10 L416.51,472.60 L417.29,472.09 L418.24,471.70 L419.41,471.57 L420.73,471.74 L422.30,472.10 L423.70,472.52 L424.71,472.82 L425.65,472.97 L426.64,473.02 L427.64,473.10 L428.55,473.34 L429.29,473.75 L429.85,474.31 L430.31,474.92 L430.79,475.54 L431.36,476.17 L431.99,476.88 L432.53,477.76Z" fill="#40d0e8"/><path d="M429.18,479.00 L429.30,479.96 L429.24,480.72 L428.99,481.38 L428.57,481.93 L428.06,482.40 L427.55,482.82 L427.07,483.25 L426.60,483.70 L426.09,484.15 L425.46,484.56 L424.71,484.87 L423.83,485.08 L422.82,485.20 L421.50,485.25 L420.17,485.24 L419.15,485.13 L418.30,484.87 L417.63,484.43 L417.18,483.86 L416.88,483.26 L416.60,482.74 L416.20,482.35 L415.57,482.07 L414.78,481.79 L414.00,481.39 L413.48,480.79 L413.39,480.00 L413.72,479.00 L414.32,478.11 L414.92,477.53 L415.31,477.03 L415.44,476.48 L415.39,475.83 L415.35,475.11 L415.50,474.42 L415.91,473.85 L416.55,473.43 L417.33,473.15 L418.19,472.93 L419.10,472.74 L420.13,472.57 L421.50,472.51 L422.85,472.62 L423.82,472.93 L424.56,473.39 L425.12,473.92 L425.58,474.42 L426.02,474.84 L426.49,475.19 L427.00,475.52 L427.50,475.89 L427.95,476.32 L428.33,476.83 L428.66,477.40 L428.95,478.08Z" fill="#90e040"/><path d="M429.01,477.50 L428.94,477.97 L428.83,478.37 L428.72,478.75 L428.60,479.12 L428.47,479.49 L428.28,479.84 L428.01,480.13 L427.66,480.36 L427.25,480.50 L426.82,480.59 L426.38,480.65 L425.95,480.70 L425.51,480.75 L425.00,480.78 L424.48,480.79 L424.03,480.76 L423.59,480.71 L423.15,480.65 L422.68,480.59 L422.21,480.50 L421.75,480.35 L421.37,480.09 L421.13,479.72 L421.05,479.28 L421.09,478.82 L421.18,478.37 L421.25,477.95 L421.24,477.50 L421.18,477.04 L421.14,476.62 L421.19,476.22 L421.36,475.86 L421.64,475.58 L421.98,475.35 L422.30,475.14 L422.59,474.91 L422.85,474.63 L423.14,474.34 L423.50,474.08 L423.93,473.91 L424.43,473.86 L425.00,473.92 L425.55,474.02 L426.00,474.14 L426.43,474.24 L426.86,474.34 L427.27,474.47 L427.65,474.65 L427.99,474.88 L428.27,475.17 L428.51,475.49 L428.71,475.83 L428.87,476.20 L428.99,476.59 L429.04,477.01Z" fill="#d8ec30"/><path d="M426.71,477.50 L426.67,477.63 L426.61,477.75 L426.54,477.86 L426.46,477.96 L426.38,478.05 L426.30,478.13 L426.22,478.22 L426.14,478.30 L426.06,478.38 L425.96,478.45 L425.85,478.51 L425.74,478.53 L425.62,478.54 L425.50,478.53 L425.38,478.52 L425.27,478.52 L425.15,478.51 L425.02,478.50 L424.89,478.46 L424.77,478.41 L424.67,478.33 L424.57,478.24 L424.49,478.13 L424.43,478.02 L424.39,477.89 L424.36,477.76 L424.37,477.63 L424.39,477.50 L424.42,477.38 L424.46,477.26 L424.50,477.15 L424.53,477.04 L424.58,476.92 L424.64,476.81 L424.72,476.72 L424.83,476.65 L424.94,476.61 L425.05,476.57 L425.16,476.54 L425.27,476.49 L425.38,476.45 L425.50,476.41 L425.62,476.39 L425.75,476.41 L425.86,476.46 L425.97,476.53 L426.06,476.61 L426.15,476.68 L426.25,476.75 L426.36,476.82 L426.47,476.89 L426.57,476.99 L426.64,477.10 L426.70,477.23 L426.72,477.36Z" fill="#c82010"/></g><g filter="url(#bl1)"><circle cx="424.6" cy="451.0" r="0.7" fill="#e0d0ff"/><circle cx="429.6" cy="461.0" r="0.6" fill="#e0d0ff"/><circle cx="425.8" cy="461.4" r="0.6" fill="#e0d0ff"/><circle cx="429.1" cy="448.7" r="0.8" fill="#e0d0ff"/><circle cx="427.5" cy="449.3" r="0.6" fill="#e0d0ff"/></g>
</g>
<rect x="445.8" y="432.9" width="32.7" height="71.9" fill="#282828"/>
<g clip-path="url(#cFv5)">
<rect x="445.8" y="432.9" width="4.3" height="71.9" fill="#464646" filter="url(#bl1)"/>
<rect x="447.1" y="432.9" width="0.8" height="71.9" fill="#626262" filter="url(#bl1)"/>
<rect x="475.2" y="432.9" width="3.3" height="71.9" fill="#1e1e1e" filter="url(#bl1)"/>
<polygon points="450.7,432.9 474.6,432.9 475.2,438.7 473.9,444.4 472.0,448.7 471.3,454.5 472.6,461.7 475.2,467.4 476.2,476.0 476.5,486.8 475.2,493.3 476.2,499.0 475.2,504.8 466.4,504.8 464.8,499.8 461.2,499.8 459.5,504.8 449.7,504.8 448.4,499.0 449.1,493.3 448.4,483.2 449.1,472.4 451.4,465.3 453.6,460.2 454.0,451.6 451.7,445.8 449.7,440.1 449.7,432.9" fill="#c8c8c8" filter="url(#bl2)"/>
<ellipse cx="462.8" cy="478.2" rx="9.8" ry="13.7" fill="#ececec" filter="url(#bl3)"/>
<ellipse cx="462.8" cy="456.6" rx="5.2" ry="7.9" fill="#ececec" filter="url(#bl3)"/>
<ellipse cx="452.3" cy="454.5" rx="2.9" ry="8.6" fill="#444" filter="url(#bl3)"/>
<ellipse cx="473.6" cy="454.5" rx="2.9" ry="8.6" fill="#333" filter="url(#bl3)"/>
<rect x="451.7" y="432.9" width="22.2" height="5.4" fill="#b0b0b0" filter="url(#bl1)"/>
<rect x="453.0" y="433.6" width="20.3" height="4.3" fill="#e0e0e0" filter="url(#bl1)"/>
<ellipse cx="455.3" cy="442.6" rx="1.8" ry="2.5" fill="#6a6a6a" filter="url(#bl1)"/>
<ellipse cx="468.4" cy="442.6" rx="1.8" ry="2.5" fill="#6a6a6a" filter="url(#bl1)"/>
<ellipse cx="455.6" cy="502.6" rx="1.6" ry="3.6" fill="#555" filter="url(#bl1)"/>
<ellipse cx="470.0" cy="502.6" rx="1.6" ry="3.6" fill="#555" filter="url(#bl1)"/>
<ellipse cx="462.8" cy="504.1" rx="2.3" ry="4.0" fill="#2a2a2a" filter="url(#bl1)"/>
<ellipse cx="446.5" cy="504.1" rx="3.3" ry="5.8" fill="#2a2a2a" filter="url(#bl1)"/>
<g filter="url(#bl1)"><circle cx="465.0" cy="448.7" r="0.7" fill="#5a1cf0"/><circle cx="457.5" cy="453.4" r="0.7" fill="#5a1cf0"/><circle cx="457.3" cy="467.3" r="1.0" fill="#5a1cf0"/><circle cx="454.7" cy="455.2" r="0.5" fill="#5a1cf0"/><circle cx="476.4" cy="484.6" r="0.8" fill="#5a1cf0"/><circle cx="455.8" cy="492.7" r="0.8" fill="#5a1cf0"/><circle cx="459.2" cy="477.0" r="0.7" fill="#5a1cf0"/><circle cx="473.6" cy="483.0" r="1.0" fill="#5a1cf0"/><circle cx="458.7" cy="448.8" r="0.8" fill="#5a1cf0"/><circle cx="468.5" cy="449.5" r="1.2" fill="#5a1cf0"/><circle cx="463.8" cy="448.0" r="0.7" fill="#5a1cf0"/><circle cx="470.0" cy="465.5" r="0.7" fill="#5a1cf0"/><circle cx="456.9" cy="474.8" r="1.1" fill="#5a1cf0"/><circle cx="448.1" cy="480.9" r="0.7" fill="#5a1cf0"/><circle cx="462.9" cy="451.2" r="0.8" fill="#5a1cf0"/><circle cx="474.9" cy="482.6" r="1.1" fill="#5a1cf0"/><circle cx="465.0" cy="462.2" r="0.8" fill="#5a1cf0"/><circle cx="466.6" cy="447.4" r="0.6" fill="#5a1cf0"/><circle cx="466.9" cy="445.5" r="0.5" fill="#5a1cf0"/><circle cx="458.6" cy="451.5" r="0.9" fill="#5a1cf0"/><circle cx="455.2" cy="451.9" r="1.1" fill="#5a1cf0"/><circle cx="449.2" cy="476.2" r="0.9" fill="#5a1cf0"/><circle cx="448.9" cy="479.2" r="1.2" fill="#5a1cf0"/><circle cx="467.1" cy="467.0" r="1.0" fill="#5a1cf0"/><circle cx="459.0" cy="487.0" r="0.9" fill="#5a1cf0"/><circle cx="454.0" cy="458.1" r="0.6" fill="#5a1cf0"/><circle cx="467.3" cy="458.3" r="1.1" fill="#5a1cf0"/><circle cx="457.7" cy="449.3" r="1.0" fill="#5a1cf0"/><circle cx="465.3" cy="491.8" r="1.1" fill="#5a1cf0"/><circle cx="467.7" cy="450.3" r="0.8" fill="#5a1cf0"/></g><g filter="url(#bl1)"><path d="M478.01,479.40 L477.01,482.42 L476.19,484.29 L475.74,485.96 L475.65,487.74 L475.72,489.68 L475.60,491.64 L475.04,493.32 L473.96,494.48 L472.49,495.08 L470.84,495.30 L469.20,495.47 L467.57,495.87 L465.77,496.56 L463.00,497.36 L460.01,497.94 L457.82,498.04 L455.99,497.57 L454.49,496.66 L453.21,495.57 L452.03,494.49 L450.86,493.43 L449.74,492.28 L448.82,490.86 L448.28,489.10 L448.17,487.04 L448.36,484.83 L448.59,482.51 L448.60,479.40 L448.31,476.23 L447.86,473.78 L447.55,471.44 L447.70,469.32 L448.48,467.66 L449.81,466.59 L451.46,466.06 L453.13,465.82 L454.63,465.57 L455.93,465.07 L457.16,464.25 L458.51,463.24 L460.23,462.25 L463.00,461.50 L465.95,461.14 L468.06,461.18 L469.87,461.58 L471.45,462.26 L472.85,463.12 L474.13,464.08 L475.36,465.12 L476.54,466.25 L477.67,467.54 L478.60,469.12 L479.20,471.05 L479.30,473.35 L478.86,475.98Z" fill="#c8acff"/><path d="M476.52,479.40 L475.56,482.15 L474.77,483.83 L474.36,485.34 L474.31,486.96 L474.42,488.77 L474.36,490.60 L473.89,492.17 L472.91,493.24 L471.56,493.76 L470.06,493.92 L468.57,494.05 L467.11,494.41 L465.49,495.07 L463.00,495.86 L460.29,496.44 L458.31,496.55 L456.64,496.11 L455.29,495.26 L454.15,494.24 L453.08,493.24 L452.02,492.28 L450.99,491.23 L450.16,489.93 L449.68,488.30 L449.61,486.40 L449.82,484.36 L450.05,482.23 L450.07,479.40 L449.78,476.51 L449.33,474.26 L449.01,472.08 L449.12,470.12 L449.82,468.59 L451.06,467.64 L452.60,467.20 L454.15,467.05 L455.52,466.87 L456.69,466.42 L457.78,465.66 L458.97,464.69 L460.51,463.73 L463.00,463.01 L465.67,462.64 L467.58,462.66 L469.22,463.03 L470.65,463.65 L471.92,464.45 L473.08,465.33 L474.19,466.28 L475.28,467.30 L476.31,468.48 L477.18,469.92 L477.72,471.70 L477.79,473.83 L477.35,476.26Z" fill="#5a1cf0"/><path d="M470.67,455.00 L470.69,456.54 L470.86,457.99 L471.01,459.48 L470.97,460.97 L470.63,462.30 L469.97,463.35 L469.10,464.09 L468.15,464.61 L467.24,465.07 L466.37,465.58 L465.50,466.13 L464.57,466.61 L463.52,466.87 L462.30,466.83 L461.11,466.54 L460.13,466.13 L459.21,465.73 L458.30,465.39 L457.39,465.02 L456.54,464.46 L455.87,463.60 L455.46,462.45 L455.30,461.14 L455.26,459.85 L455.13,458.69 L454.75,457.64 L454.08,456.51 L453.24,455.00 L452.48,453.20 L452.03,451.41 L452.02,449.71 L452.45,448.22 L453.21,447.03 L454.13,446.11 L455.11,445.38 L456.10,444.82 L457.12,444.43 L458.17,444.26 L459.24,444.36 L460.28,444.68 L461.28,445.10 L462.30,445.48 L463.26,445.68 L464.12,445.66 L465.05,445.46 L466.08,445.19 L467.20,445.00 L468.36,445.05 L469.46,445.43 L470.39,446.20 L471.03,447.35 L471.34,448.78 L471.33,450.35 L471.11,451.93 L470.83,453.43Z" fill="#c8acff"/><path d="M469.26,455.00 L469.28,456.35 L469.41,457.61 L469.54,458.92 L469.51,460.21 L469.22,461.38 L468.68,462.29 L467.95,462.94 L467.17,463.40 L466.41,463.80 L465.69,464.24 L464.96,464.72 L464.18,465.14 L463.31,465.37 L462.30,465.34 L461.31,465.08 L460.49,464.72 L459.73,464.38 L458.97,464.08 L458.22,463.76 L457.51,463.27 L456.95,462.52 L456.61,461.51 L456.48,460.36 L456.44,459.24 L456.34,458.23 L456.02,457.30 L455.46,456.32 L454.77,455.00 L454.13,453.42 L453.76,451.87 L453.75,450.38 L454.11,449.08 L454.74,448.04 L455.51,447.23 L456.32,446.59 L457.15,446.10 L457.99,445.76 L458.86,445.62 L459.75,445.70 L460.62,445.98 L461.45,446.35 L462.30,446.68 L463.10,446.85 L463.82,446.84 L464.58,446.66 L465.44,446.43 L466.37,446.26 L467.34,446.30 L468.25,446.63 L469.02,447.31 L469.56,448.31 L469.82,449.56 L469.81,450.94 L469.62,452.31 L469.40,453.63Z" fill="#5a1cf0"/><path d="M469.77,475.40 L469.97,475.95 L469.75,476.42 L469.14,476.81 L468.28,477.10 L467.35,477.30 L466.48,477.46 L465.73,477.61 L465.06,477.77 L464.44,477.94 L463.80,478.12 L463.14,478.31 L462.42,478.51 L461.58,478.73 L460.50,478.95 L459.29,479.12 L458.16,479.20 L457.06,479.18 L456.05,479.06 L455.13,478.87 L454.25,478.65 L453.42,478.40 L452.65,478.11 L452.03,477.75 L451.70,477.32 L451.70,476.83 L451.99,476.34 L452.40,475.87 L452.74,475.40 L452.89,474.96 L452.86,474.56 L452.83,474.15 L452.98,473.76 L453.44,473.44 L454.19,473.22 L455.07,473.10 L455.91,473.01 L456.60,472.88 L457.17,472.66 L457.72,472.34 L458.40,471.99 L459.29,471.68 L460.50,471.49 L461.79,471.42 L462.93,471.46 L463.98,471.57 L464.95,471.74 L465.83,471.96 L466.57,472.24 L467.10,472.61 L467.42,473.01 L467.61,473.43 L467.81,473.81 L468.14,474.15 L468.66,474.50 L469.27,474.89Z" fill="#3a68ff"/><path d="M462.25,475.00 L462.18,475.22 L462.18,475.44 L462.23,475.68 L462.25,475.95 L462.16,476.21 L461.91,476.42 L461.52,476.58 L461.07,476.69 L460.64,476.79 L460.26,476.91 L459.89,477.09 L459.49,477.28 L459.02,477.44 L458.50,477.52 L457.96,477.50 L457.46,477.39 L457.00,477.25 L456.58,477.09 L456.16,476.95 L455.76,476.80 L455.38,476.63 L455.08,476.43 L454.89,476.19 L454.81,475.93 L454.81,475.68 L454.85,475.44 L454.91,475.21 L454.96,475.00 L455.00,474.79 L455.03,474.58 L455.04,474.37 L455.04,474.13 L455.05,473.87 L455.14,473.60 L455.36,473.35 L455.71,473.17 L456.17,473.06 L456.67,473.01 L457.15,472.98 L457.59,472.91 L458.02,472.76 L458.50,472.56 L459.07,472.37 L459.68,472.29 L460.26,472.37 L460.69,472.62 L460.94,472.97 L461.04,473.33 L461.12,473.63 L461.28,473.84 L461.55,474.00 L461.89,474.15 L462.18,474.33 L462.34,474.54 L462.34,474.77Z" fill="#80c8ff"/><path d="M472.42,484.00 L472.33,484.51 L472.34,484.97 L472.44,485.45 L472.45,485.94 L472.21,486.37 L471.61,486.67 L470.74,486.76 L469.75,486.69 L468.86,486.55 L468.18,486.47 L467.69,486.56 L467.26,486.82 L466.74,487.15 L466.00,487.43 L465.16,487.56 L464.43,487.51 L463.80,487.33 L463.27,487.09 L462.79,486.86 L462.28,486.66 L461.75,486.48 L461.22,486.27 L460.73,486.01 L460.30,485.71 L459.95,485.36 L459.65,484.97 L459.45,484.53 L459.37,484.00 L459.49,483.48 L459.81,483.06 L460.28,482.72 L460.79,482.43 L461.23,482.17 L461.56,481.89 L461.81,481.56 L462.09,481.20 L462.48,480.86 L463.02,480.62 L463.68,480.48 L464.41,480.45 L465.17,480.47 L466.00,480.51 L466.81,480.56 L467.49,480.66 L468.09,480.84 L468.57,481.09 L468.94,481.38 L469.28,481.65 L469.68,481.85 L470.22,482.00 L470.90,482.13 L471.60,482.32 L472.17,482.61 L472.48,483.01 L472.52,483.48Z" fill="#3a48f8"/></g><g filter="url(#bl1)"><circle cx="461.8" cy="451.4" r="0.8" fill="#e0d0ff"/><circle cx="460.2" cy="452.4" r="0.7" fill="#e0d0ff"/><circle cx="459.0" cy="458.9" r="0.6" fill="#e0d0ff"/><circle cx="469.0" cy="448.8" r="0.5" fill="#e0d0ff"/><circle cx="466.4" cy="447.5" r="0.7" fill="#e0d0ff"/><circle cx="456.5" cy="457.8" r="0.7" fill="#e0d0ff"/></g>
</g>
<rect x="340.4" y="432.6" width="5.4" height="56.5" fill="url(#cbar)"/>
<line x1="345.8" y1="439.9" x2="346.8" y2="439.9" stroke="#555" stroke-width="0.4"/>
<text x="347.4" y="441.1" font-size="3.2" text-anchor="start" fill="#555" >4</text>
<line x1="345.8" y1="453.5" x2="346.8" y2="453.5" stroke="#555" stroke-width="0.4"/>
<text x="347.4" y="454.6" font-size="3.2" text-anchor="start" fill="#555" >3</text>
<line x1="345.8" y1="466.5" x2="346.8" y2="466.5" stroke="#555" stroke-width="0.4"/>
<text x="347.4" y="467.6" font-size="3.2" text-anchor="start" fill="#555" >2</text>
<line x1="345.8" y1="480.1" x2="346.8" y2="480.1" stroke="#555" stroke-width="0.4"/>
<text x="347.4" y="481.2" font-size="3.2" text-anchor="start" fill="#555" >1</text>
<text transform="translate(355.2,460) rotate(-90)" font-size="3.2" text-anchor="middle" fill="#555">x10<tspan font-size="2.2" dy="-1">6</tspan></text>
<text x="340.4" y="495.0" font-size="7.0" text-anchor="start" fill="#222" >p/sec</text>
<text x="340.4" y="502.7" font-size="7.0" text-anchor="start" fill="#222" >/cm<tspan font-size="4.2" dy="-2.4">2</tspan><tspan dy="2.4">/sr</tspan></text>
<rect x="480.3" y="433.8" width="4.5" height="55.7" fill="url(#cbar)"/>
<line x1="484.8" y1="434.9" x2="485.8" y2="434.9" stroke="#555" stroke-width="0.4"/>
<text x="486.4" y="435.8" font-size="2.6" text-anchor="start" fill="#555" >8</text>
<line x1="484.8" y1="441.0" x2="485.8" y2="441.0" stroke="#555" stroke-width="0.4"/>
<text x="486.4" y="442.0" font-size="2.6" text-anchor="start" fill="#555" >7</text>
<line x1="484.8" y1="448.8" x2="485.8" y2="448.8" stroke="#555" stroke-width="0.4"/>
<text x="486.4" y="449.7" font-size="2.6" text-anchor="start" fill="#555" >6</text>
<line x1="484.8" y1="456.6" x2="485.8" y2="456.6" stroke="#555" stroke-width="0.4"/>
<text x="486.4" y="457.5" font-size="2.6" text-anchor="start" fill="#555" >5</text>
<line x1="484.8" y1="464.4" x2="485.8" y2="464.4" stroke="#555" stroke-width="0.4"/>
<text x="486.4" y="465.3" font-size="2.6" text-anchor="start" fill="#555" >4</text>
<line x1="484.8" y1="472.2" x2="485.8" y2="472.2" stroke="#555" stroke-width="0.4"/>
<text x="486.4" y="473.1" font-size="2.6" text-anchor="start" fill="#555" >3</text>
<line x1="484.8" y1="480.0" x2="485.8" y2="480.0" stroke="#555" stroke-width="0.4"/>
<text x="486.4" y="480.9" font-size="2.6" text-anchor="start" fill="#555" >2</text>
<line x1="484.8" y1="487.8" x2="485.8" y2="487.8" stroke="#555" stroke-width="0.4"/>
<text x="486.4" y="488.7" font-size="2.6" text-anchor="start" fill="#555" >1</text>
<text x="480.3" y="497.0" font-size="7.0" text-anchor="start" fill="#222" >p/sec</text>
<text x="480.3" y="504.7" font-size="7.0" text-anchor="start" fill="#222" >/cm<tspan font-size="4.2" dy="-2.4">2</tspan><tspan dy="2.4">/sr</tspan></text>
<text x="493.0" y="464.0" font-size="8.0" text-anchor="start" fill="#222" >Ventral</text>
<text x="493.0" y="474.0" font-size="8.0" text-anchor="start" fill="#222" >View</text>
<rect x="188.2" y="507.7" width="32.3" height="72.0" fill="#2e2e2e"/>
<g clip-path="url(#cFs)">
<rect x="188.2" y="507.7" width="1.6" height="72.0" fill="#3a3a3a" filter="url(#bl1)"/>
<rect x="218.9" y="507.7" width="1.6" height="72.0" fill="#2c2c2c" filter="url(#bl1)"/>
<rect x="204.3" y="507.7" width="8.4" height="6.5" fill="#b0b0b0" filter="url(#bl1)"/>
<polygon points="204.3,513.5 214.0,513.5 219.9,517.8 219.9,530.7 212.4,529.3 206.0,527.9 203.7,522.1" fill="#6c6c6c" filter="url(#bl1)"/>
<ellipse cx="216.3" cy="520.7" rx="2.9" ry="3.2" fill="#e8e8e8" filter="url(#bl1)"/>
<polygon points="193.4,522.1 196.3,519.2 203.1,529.3 200.8,534.3" fill="#c8c8c8" filter="url(#bl1)"/>
<polygon points="197.9,517.8 204.3,514.9 211.5,513.5 217.3,517.8 219.5,529.3 219.5,547.3 217.9,559.5 214.7,568.9 208.2,573.9 202.7,572.5 198.9,565.3 196.3,550.9 196.0,536.5 196.6,525.0" fill="#f0f0f0" filter="url(#bl1)"/>
<polygon points="201.8,526.4 207.6,523.5 214.0,525.0 218.2,530.7 219.5,540.1 219.2,552.3 217.3,562.4 214.0,568.2 208.2,571.1 202.7,569.6 198.9,563.9 197.6,550.9 198.2,537.9 199.8,530.7" fill="#f0f0f0" filter="url(#bl1)"/>
<ellipse cx="208.9" cy="547.3" rx="7.8" ry="18.0" fill="#fbfbfb" filter="url(#bl3)"/>
<polygon points="188.8,568.2 201.8,566.7 203.1,570.7 189.8,571.8" fill="#d0d0d0" filter="url(#bl1)"/>
<polygon points="203.7,569.6 212.1,568.9 210.2,579.7 206.9,579.7" fill="#888" filter="url(#bl1)"/>
<g filter="url(#bl1)"><ellipse cx="198.0" cy="551.5" rx="3.2" ry="7.5" fill="#e05040"/></g><g filter="url(#bl1)"><ellipse cx="203.8" cy="522.3" rx="3.2" ry="2.4" fill="#6a5ad8"/><ellipse cx="207.7" cy="532.6" rx="2.8" ry="2.8" fill="#6a5ad8"/><ellipse cx="204.6" cy="552.3" rx="2.8" ry="2.8" fill="#6a5ad8"/></g><ellipse cx="211.5" cy="544.3" rx="2.8" ry="5.2" fill="#80e060" transform="rotate(40 211.5 544.3)" filter="url(#bl1)"/>
</g>
<text x="182.0" y="525.2" font-size="6.9" text-anchor="end" fill="#222" >CLNs</text>
<line x1="183.0" y1="522.8" x2="200.8" y2="522.8" stroke="#777" stroke-width="0.5"/>
<text x="182.0" y="535.0" font-size="6.9" text-anchor="end" fill="#222" >A/BLNs</text>
<line x1="183.0" y1="532.6" x2="205.0" y2="532.6" stroke="#777" stroke-width="0.5"/>
<text x="182.0" y="543.6" font-size="6.9" text-anchor="end" fill="#222" >SP</text>
<line x1="183.0" y1="541.2" x2="209" y2="541.2" stroke="#777" stroke-width="0.5"/>
<text x="182.0" y="552.4" font-size="6.9" text-anchor="end" fill="#222" >Gut</text>
<line x1="183.0" y1="550.0" x2="196" y2="550.0" stroke="#777" stroke-width="0.5"/>
<text x="182.0" y="564.7" font-size="6.9" text-anchor="end" fill="#222" >IgLNs</text>
<line x1="183.0" y1="562.3" x2="190" y2="562.3" stroke="#777" stroke-width="0.5"/>
<rect x="223.4" y="507.4" width="37.4" height="72.0" fill="#505050"/>
<g clip-path="url(#cFs0)">
<rect x="223.4" y="507.4" width="1.9" height="72.0" fill="#3a3a3a" filter="url(#bl1)"/>
<rect x="258.9" y="507.4" width="1.9" height="72.0" fill="#2c2c2c" filter="url(#bl1)"/>
<rect x="242.1" y="507.4" width="9.7" height="6.5" fill="#b0b0b0" filter="url(#bl1)"/>
<polygon points="242.1,513.2 253.3,513.2 260.1,517.5 260.1,530.4 251.4,529.0 244.0,527.6 241.4,521.8" fill="#6c6c6c" filter="url(#bl1)"/>
<ellipse cx="255.9" cy="520.4" rx="3.4" ry="3.2" fill="#e8e8e8" filter="url(#bl1)"/>
<polygon points="229.4,521.8 232.8,518.9 240.6,529.0 238.0,534.0" fill="#c8c8c8" filter="url(#bl1)"/>
<polygon points="239.1,526.1 245.8,523.2 253.3,524.7 258.2,530.4 259.7,539.8 259.3,552.0 257.1,562.1 253.3,567.9 246.6,570.8 240.2,569.3 235.7,563.6 234.2,550.6 235.0,537.6 236.9,530.4" fill="#e6e6e6" filter="url(#bl1)"/>
<ellipse cx="247.3" cy="547.0" rx="9.0" ry="18.0" fill="#fbfbfb" filter="url(#bl3)"/>
<polygon points="224.1,567.9 239.1,566.4 240.6,570.4 225.3,571.5" fill="#d0d0d0" filter="url(#bl1)"/>
<polygon points="241.4,569.3 251.1,568.6 248.8,579.4 245.1,579.4" fill="#888" filter="url(#bl1)"/>
<g filter="url(#bl1)"><path d="M242.58,549.20 L242.69,549.95 L242.85,550.63 L243.01,551.36 L243.07,552.08 L242.98,552.69 L242.73,553.10 L242.38,553.30 L241.99,553.34 L241.64,553.36 L241.34,553.45 L241.08,553.66 L240.80,553.93 L240.47,554.16 L240.00,554.28 L239.53,554.24 L239.17,554.09 L238.87,553.88 L238.59,553.66 L238.34,553.43 L238.10,553.15 L237.91,552.80 L237.78,552.37 L237.69,551.90 L237.62,551.43 L237.52,550.99 L237.35,550.54 L237.12,550.00 L236.90,549.20 L236.75,548.29 L236.72,547.55 L236.82,546.92 L237.03,546.42 L237.29,546.03 L237.57,545.72 L237.82,545.45 L238.07,545.19 L238.33,544.96 L238.61,544.78 L238.90,544.66 L239.22,544.59 L239.56,544.54 L240.00,544.47 L240.45,544.42 L240.81,544.39 L241.15,544.44 L241.46,544.56 L241.74,544.77 L242.00,545.04 L242.22,545.37 L242.42,545.75 L242.57,546.20 L242.64,546.72 L242.65,547.30 L242.60,547.89 L242.56,548.48Z" fill="#1818ec"/><path d="M256.04,546.20 L256.00,546.60 L256.06,546.93 L256.14,547.27 L256.15,547.60 L256.03,547.89 L255.79,548.13 L255.47,548.31 L255.09,548.45 L254.70,548.56 L254.29,548.64 L253.87,548.71 L253.42,548.75 L252.93,548.79 L252.30,548.84 L251.64,548.91 L251.08,548.99 L250.52,549.04 L250.01,549.01 L249.57,548.88 L249.26,548.65 L249.06,548.36 L248.93,548.06 L248.78,547.79 L248.58,547.55 L248.32,547.30 L248.08,547.02 L247.93,546.67 L247.90,546.20 L248.00,545.73 L248.15,545.39 L248.30,545.09 L248.42,544.79 L248.54,544.50 L248.73,544.23 L249.03,544.02 L249.45,543.91 L249.94,543.88 L250.42,543.89 L250.86,543.89 L251.26,543.83 L251.69,543.71 L252.30,543.58 L252.96,543.49 L253.49,543.48 L253.96,543.55 L254.39,543.64 L254.82,543.73 L255.29,543.80 L255.80,543.87 L256.28,544.00 L256.64,544.24 L256.79,544.57 L256.71,544.97 L256.48,545.39 L256.22,545.78Z" fill="#1818ec"/><path d="M254.50,546.00 L254.50,546.11 L254.47,546.22 L254.43,546.33 L254.37,546.43 L254.29,546.53 L254.21,546.62 L254.11,546.70 L254.02,546.79 L253.91,546.87 L253.79,546.95 L253.66,547.02 L253.52,547.07 L253.36,547.09 L253.20,547.09 L253.05,547.05 L252.90,547.00 L252.77,546.94 L252.65,546.87 L252.54,546.81 L252.44,546.74 L252.34,546.66 L252.27,546.57 L252.21,546.48 L252.15,546.39 L252.09,546.30 L252.03,546.21 L251.96,546.11 L251.89,546.00 L251.85,545.88 L251.85,545.76 L251.89,545.65 L251.96,545.54 L252.05,545.44 L252.14,545.35 L252.24,545.26 L252.36,545.19 L252.48,545.12 L252.62,545.08 L252.77,545.05 L252.91,545.04 L253.06,545.03 L253.20,545.02 L253.35,545.01 L253.50,545.00 L253.65,545.02 L253.79,545.06 L253.91,545.13 L254.01,545.22 L254.08,545.32 L254.15,545.42 L254.21,545.51 L254.28,545.60 L254.36,545.69 L254.43,545.78 L254.48,545.89Z" fill="#40c0f0"/></g>
</g>
<rect x="263.4" y="507.4" width="37.8" height="72.0" fill="#505050"/>
<g clip-path="url(#cFs1)">
<rect x="263.4" y="507.4" width="1.9" height="72.0" fill="#3a3a3a" filter="url(#bl1)"/>
<rect x="299.3" y="507.4" width="1.9" height="72.0" fill="#2c2c2c" filter="url(#bl1)"/>
<rect x="282.3" y="507.4" width="9.8" height="6.5" fill="#b0b0b0" filter="url(#bl1)"/>
<polygon points="282.3,513.2 293.6,513.2 300.4,517.5 300.4,530.4 291.8,529.0 284.2,527.6 281.5,521.8" fill="#6c6c6c" filter="url(#bl1)"/>
<ellipse cx="296.3" cy="520.4" rx="3.4" ry="3.2" fill="#e8e8e8" filter="url(#bl1)"/>
<polygon points="269.4,521.8 272.8,518.9 280.8,529.0 278.1,534.0" fill="#c8c8c8" filter="url(#bl1)"/>
<polygon points="279.3,526.1 286.1,523.2 293.6,524.7 298.6,530.4 300.1,539.8 299.7,552.0 297.4,562.1 293.6,567.9 286.8,570.8 280.4,569.3 275.9,563.6 274.4,550.6 275.1,537.6 277.0,530.4" fill="#e6e6e6" filter="url(#bl1)"/>
<ellipse cx="287.6" cy="547.0" rx="9.1" ry="18.0" fill="#fbfbfb" filter="url(#bl3)"/>
<polygon points="264.2,567.9 279.3,566.4 280.8,570.4 265.3,571.5" fill="#d0d0d0" filter="url(#bl1)"/>
<polygon points="281.5,569.3 291.4,568.6 289.1,579.4 285.3,579.4" fill="#888" filter="url(#bl1)"/>
<g filter="url(#bl1)"><path d="M297.65,548.40 L297.43,550.50 L296.85,551.81 L296.16,552.79 L295.59,553.66 L295.26,554.59 L295.11,555.70 L294.94,556.90 L294.54,557.98 L293.80,558.74 L292.76,559.06 L291.56,559.02 L290.31,558.82 L289.02,558.67 L287.30,558.67 L285.56,558.76 L284.30,558.81 L283.17,558.70 L282.19,558.38 L281.31,557.92 L280.49,557.42 L279.63,556.93 L278.73,556.41 L277.87,555.74 L277.20,554.80 L276.86,553.58 L276.88,552.12 L277.20,550.49 L277.67,548.40 L278.14,546.50 L278.53,545.27 L278.84,544.21 L279.14,543.23 L279.48,542.32 L279.88,541.47 L280.32,540.64 L280.80,539.80 L281.35,538.93 L282.03,538.11 L282.90,537.43 L284.01,537.01 L285.37,536.89 L287.30,536.98 L289.18,537.18 L290.48,537.37 L291.65,537.55 L292.73,537.81 L293.66,538.28 L294.37,539.04 L294.82,540.03 L295.08,541.13 L295.31,542.17 L295.67,543.09 L296.23,543.97 L296.90,544.97 L297.44,546.30Z" fill="#1818ec"/><path d="M285.04,549.00 L285.03,549.72 L285.03,550.38 L285.02,551.02 L284.96,551.64 L284.83,552.18 L284.62,552.60 L284.37,552.89 L284.10,553.09 L283.84,553.25 L283.58,553.38 L283.33,553.48 L283.06,553.50 L282.79,553.42 L282.50,553.26 L282.23,553.12 L281.99,553.08 L281.73,553.18 L281.42,553.36 L281.09,553.48 L280.77,553.42 L280.53,553.09 L280.41,552.55 L280.38,551.89 L280.39,551.26 L280.38,550.70 L280.29,550.20 L280.14,549.68 L280.00,549.00 L279.92,548.26 L279.97,547.62 L280.12,547.09 L280.33,546.67 L280.51,546.28 L280.64,545.85 L280.73,545.31 L280.82,544.70 L280.97,544.13 L281.20,543.72 L281.50,543.57 L281.83,543.67 L282.17,543.96 L282.50,544.31 L282.79,544.65 L283.01,544.92 L283.21,545.14 L283.41,545.30 L283.62,545.44 L283.84,545.56 L284.09,545.69 L284.35,545.86 L284.61,546.12 L284.83,546.51 L284.97,547.02 L285.04,547.62 L285.05,548.27Z" fill="#40d0e0"/><path d="M293.82,545.00 L293.76,545.41 L293.69,545.76 L293.65,546.10 L293.63,546.46 L293.62,546.85 L293.59,547.27 L293.49,547.69 L293.29,548.06 L292.97,548.32 L292.57,548.44 L292.12,548.42 L291.67,548.32 L291.24,548.20 L290.80,548.12 L290.38,548.09 L290.00,548.08 L289.64,548.01 L289.35,547.82 L289.15,547.52 L289.05,547.15 L289.00,546.80 L288.90,546.54 L288.69,546.38 L288.32,546.28 L287.86,546.13 L287.41,545.88 L287.11,545.51 L287.01,545.00 L287.12,544.49 L287.35,544.10 L287.61,543.77 L287.82,543.47 L287.99,543.16 L288.15,542.84 L288.36,542.56 L288.64,542.34 L288.98,542.22 L289.34,542.17 L289.69,542.13 L290.03,542.04 L290.37,541.89 L290.80,541.73 L291.27,541.61 L291.69,541.60 L292.06,541.74 L292.35,541.99 L292.57,542.30 L292.74,542.61 L292.92,542.88 L293.11,543.12 L293.33,543.34 L293.54,543.59 L293.71,543.88 L293.82,544.21 L293.85,544.58Z" fill="#40d0e0"/><path d="M292.63,545.00 L292.65,545.19 L292.61,545.37 L292.52,545.53 L292.42,545.68 L292.32,545.83 L292.24,545.99 L292.16,546.16 L292.07,546.34 L291.94,546.49 L291.77,546.60 L291.58,546.65 L291.38,546.66 L291.18,546.64 L291.00,546.61 L290.82,546.58 L290.65,546.54 L290.48,546.48 L290.33,546.39 L290.20,546.27 L290.09,546.14 L289.99,546.01 L289.89,545.89 L289.77,545.78 L289.64,545.66 L289.51,545.52 L289.40,545.36 L289.34,545.19 L289.32,545.00 L289.33,544.81 L289.38,544.63 L289.46,544.46 L289.55,544.30 L289.65,544.15 L289.76,544.01 L289.88,543.88 L289.99,543.74 L290.12,543.60 L290.27,543.48 L290.43,543.38 L290.62,543.32 L290.81,543.32 L291.00,543.36 L291.18,543.43 L291.34,543.50 L291.50,543.56 L291.67,543.61 L291.83,543.67 L291.99,543.76 L292.11,543.89 L292.20,544.04 L292.27,544.20 L292.33,544.36 L292.40,544.51 L292.48,544.66 L292.57,544.82Z" fill="#c0e830"/></g>
</g>
<rect x="303.0" y="507.4" width="37.4" height="72.0" fill="#505050"/>
<g clip-path="url(#cFs2)">
<rect x="303.0" y="507.4" width="1.9" height="72.0" fill="#3a3a3a" filter="url(#bl1)"/>
<rect x="338.5" y="507.4" width="1.9" height="72.0" fill="#2c2c2c" filter="url(#bl1)"/>
<rect x="321.7" y="507.4" width="9.7" height="6.5" fill="#b0b0b0" filter="url(#bl1)"/>
<polygon points="321.7,513.2 332.9,513.2 339.7,517.5 339.7,530.4 331.1,529.0 323.6,527.6 321.0,521.8" fill="#6c6c6c" filter="url(#bl1)"/>
<ellipse cx="335.5" cy="520.4" rx="3.4" ry="3.2" fill="#e8e8e8" filter="url(#bl1)"/>
<polygon points="309.0,521.8 312.4,518.9 320.2,529.0 317.6,534.0" fill="#c8c8c8" filter="url(#bl1)"/>
<polygon points="318.7,526.1 325.4,523.2 332.9,524.7 337.8,530.4 339.3,539.8 338.9,552.0 336.7,562.1 332.9,567.9 326.2,570.8 319.8,569.3 315.3,563.6 313.8,550.6 314.6,537.6 316.5,530.4" fill="#e6e6e6" filter="url(#bl1)"/>
<ellipse cx="326.9" cy="547.0" rx="9.0" ry="18.0" fill="#fbfbfb" filter="url(#bl3)"/>
<polygon points="303.7,567.9 318.7,566.4 320.2,570.4 304.9,571.5" fill="#d0d0d0" filter="url(#bl1)"/>
<polygon points="321.0,569.3 330.7,568.6 328.4,579.4 324.7,579.4" fill="#888" filter="url(#bl1)"/>
<g filter="url(#bl1)"><path d="M326.71,547.20 L326.64,548.34 L326.56,549.12 L326.48,549.83 L326.38,550.49 L326.22,551.10 L326.00,551.65 L325.72,552.14 L325.39,552.59 L325.03,553.01 L324.61,553.40 L324.10,553.71 L323.50,553.88 L322.79,553.87 L321.80,553.70 L320.88,553.40 L320.30,553.08 L319.82,552.81 L319.36,552.60 L318.90,552.42 L318.45,552.22 L318.02,551.96 L317.64,551.60 L317.31,551.15 L317.03,550.62 L316.80,550.01 L316.65,549.28 L316.61,548.42 L316.71,547.20 L316.94,546.06 L317.24,545.35 L317.52,544.80 L317.72,544.27 L317.83,543.70 L317.88,543.05 L317.97,542.38 L318.18,541.77 L318.53,541.31 L319.01,541.03 L319.56,540.88 L320.16,540.77 L320.83,540.63 L321.80,540.47 L322.81,540.34 L323.54,540.38 L324.12,540.64 L324.54,541.13 L324.82,541.75 L325.02,542.38 L325.21,542.90 L325.47,543.31 L325.81,543.67 L326.17,544.06 L326.49,544.57 L326.68,545.23 L326.75,546.04Z" fill="#1818ec"/><path d="M335.51,545.20 L335.50,546.63 L335.45,547.62 L335.35,548.46 L335.20,549.16 L335.03,549.77 L334.86,550.36 L334.70,550.94 L334.52,551.53 L334.30,552.05 L334.03,552.45 L333.69,552.69 L333.32,552.80 L332.90,552.86 L332.30,552.96 L331.69,553.09 L331.23,553.22 L330.81,553.21 L330.44,553.00 L330.15,552.55 L329.94,551.94 L329.77,551.26 L329.61,550.62 L329.42,550.02 L329.22,549.40 L329.05,548.67 L328.93,547.79 L328.91,546.71 L328.97,545.20 L329.06,543.75 L329.14,542.77 L329.18,541.87 L329.20,540.98 L329.27,540.13 L329.43,539.42 L329.70,538.97 L330.05,538.80 L330.44,538.83 L330.80,538.90 L331.12,538.86 L331.42,538.60 L331.75,538.17 L332.30,537.67 L332.92,537.26 L333.39,537.04 L333.82,537.03 L334.20,537.21 L334.54,537.53 L334.84,537.96 L335.09,538.52 L335.28,539.21 L335.40,540.02 L335.45,540.90 L335.47,541.82 L335.47,542.76 L335.49,543.78Z" fill="#1818ec"/><path d="M323.49,548.00 L323.48,548.17 L323.46,548.33 L323.43,548.50 L323.40,548.67 L323.35,548.85 L323.27,549.01 L323.15,549.15 L323.01,549.26 L322.85,549.35 L322.68,549.41 L322.51,549.45 L322.34,549.48 L322.17,549.50 L322.00,549.50 L321.83,549.48 L321.67,549.42 L321.53,549.35 L321.39,549.26 L321.27,549.16 L321.15,549.06 L321.04,548.96 L320.92,548.86 L320.80,548.75 L320.69,548.63 L320.58,548.50 L320.49,548.35 L320.43,548.18 L320.41,548.00 L320.43,547.82 L320.49,547.66 L320.58,547.50 L320.67,547.36 L320.75,547.21 L320.81,547.05 L320.89,546.89 L320.98,546.72 L321.11,546.59 L321.28,546.51 L321.47,546.49 L321.66,546.52 L321.84,546.57 L322.00,546.62 L322.15,546.64 L322.31,546.64 L322.47,546.65 L322.64,546.67 L322.79,546.74 L322.93,546.84 L323.04,546.96 L323.13,547.10 L323.21,547.24 L323.30,547.38 L323.37,547.52 L323.44,547.67 L323.47,547.83Z" fill="#30c0f0"/><path d="M333.56,544.00 L333.59,544.13 L333.60,544.27 L333.58,544.41 L333.52,544.54 L333.43,544.65 L333.32,544.74 L333.23,544.83 L333.13,544.92 L333.04,545.02 L332.94,545.12 L332.81,545.18 L332.68,545.21 L332.54,545.20 L332.40,545.17 L332.27,545.13 L332.15,545.10 L332.02,545.07 L331.90,545.04 L331.78,544.99 L331.67,544.91 L331.58,544.82 L331.50,544.72 L331.41,544.62 L331.31,544.53 L331.20,544.42 L331.12,544.29 L331.08,544.15 L331.10,544.00 L331.16,543.86 L331.25,543.74 L331.32,543.62 L331.37,543.50 L331.40,543.37 L331.43,543.23 L331.49,543.09 L331.60,542.99 L331.73,542.94 L331.88,542.93 L332.03,542.94 L332.16,542.94 L332.28,542.93 L332.40,542.90 L332.53,542.88 L332.66,542.87 L332.79,542.88 L332.92,542.91 L333.05,542.96 L333.18,543.03 L333.30,543.10 L333.40,543.20 L333.48,543.32 L333.52,543.46 L333.54,543.60 L333.54,543.74 L333.54,543.87Z" fill="#30c0f0"/></g>
</g>
<rect x="365.4" y="507.4" width="37.7" height="72.0" fill="#505050"/>
<g clip-path="url(#cFs3)">
<rect x="365.4" y="507.4" width="1.9" height="72.0" fill="#3a3a3a" filter="url(#bl1)"/>
<rect x="401.2" y="507.4" width="1.9" height="72.0" fill="#2c2c2c" filter="url(#bl1)"/>
<rect x="384.2" y="507.4" width="9.8" height="6.5" fill="#b0b0b0" filter="url(#bl1)"/>
<polygon points="384.2,513.2 395.6,513.2 402.3,517.5 402.3,530.4 393.7,529.0 386.1,527.6 383.5,521.8" fill="#6c6c6c" filter="url(#bl1)"/>
<ellipse cx="398.2" cy="520.4" rx="3.4" ry="3.2" fill="#e8e8e8" filter="url(#bl1)"/>
<polygon points="371.4,521.8 374.8,518.9 382.7,529.0 380.1,534.0" fill="#c8c8c8" filter="url(#bl1)"/>
<polygon points="381.2,526.1 388.0,523.2 395.6,524.7 400.5,530.4 402.0,539.8 401.6,552.0 399.3,562.1 395.6,567.9 388.8,570.8 382.4,569.3 377.8,563.6 376.3,550.6 377.1,537.6 379.0,530.4" fill="#e6e6e6" filter="url(#bl1)"/>
<ellipse cx="389.5" cy="547.0" rx="9.0" ry="18.0" fill="#fbfbfb" filter="url(#bl3)"/>
<polygon points="366.2,567.9 381.2,566.4 382.7,570.4 367.3,571.5" fill="#d0d0d0" filter="url(#bl1)"/>
<polygon points="383.5,569.3 393.3,568.6 391.0,579.4 387.3,579.4" fill="#888" filter="url(#bl1)"/>
<g filter="url(#bl1)"><path d="M397.51,545.20 L397.53,545.86 L397.70,546.36 L397.81,546.82 L397.66,547.24 L397.13,547.56 L396.31,547.77 L395.37,547.90 L394.50,548.01 L393.80,548.19 L393.18,548.45 L392.48,548.74 L391.53,548.98 L390.26,549.07 L388.40,548.99 L386.67,548.79 L385.62,548.55 L384.75,548.36 L383.90,548.25 L383.00,548.19 L382.09,548.11 L381.32,547.94 L380.77,547.68 L380.46,547.35 L380.27,546.99 L380.09,546.63 L379.81,546.27 L379.47,545.84 L379.17,545.20 L379.01,544.52 L379.05,544.04 L379.22,543.62 L379.44,543.22 L379.66,542.83 L379.90,542.44 L380.29,542.06 L380.92,541.76 L381.85,541.58 L383.01,541.54 L384.29,541.63 L385.56,541.78 L386.82,541.92 L388.40,542.03 L389.89,542.10 L390.92,542.16 L391.83,542.22 L392.68,542.29 L393.52,542.37 L394.42,542.43 L395.41,542.49 L396.40,542.60 L397.27,542.80 L397.85,543.11 L398.05,543.53 L397.93,544.02 L397.68,544.53Z" fill="#1818ec"/><path d="M384.41,548.50 L384.33,548.95 L384.24,549.33 L384.13,549.66 L384.03,549.98 L383.92,550.28 L383.81,550.59 L383.67,550.87 L383.51,551.12 L383.30,551.31 L383.07,551.43 L382.82,551.51 L382.56,551.56 L382.30,551.64 L382.00,551.74 L381.67,551.86 L381.36,551.96 L381.05,551.99 L380.75,551.94 L380.47,551.80 L380.23,551.58 L380.02,551.30 L379.86,550.96 L379.76,550.58 L379.73,550.16 L379.76,549.72 L379.84,549.30 L379.92,548.91 L379.96,548.50 L379.93,548.10 L379.85,547.71 L379.77,547.28 L379.73,546.85 L379.80,546.46 L379.97,546.16 L380.21,545.96 L380.47,545.83 L380.71,545.72 L380.94,545.57 L381.15,545.37 L381.39,545.17 L381.66,545.04 L382.00,545.01 L382.33,545.11 L382.59,545.28 L382.83,545.46 L383.05,545.60 L383.30,545.70 L383.57,545.77 L383.85,545.88 L384.11,546.07 L384.31,546.35 L384.44,546.72 L384.50,547.13 L384.51,547.57 L384.47,548.02Z" fill="#1818ec"/><path d="M386.86,545.50 L386.79,545.75 L386.71,545.96 L386.64,546.16 L386.58,546.36 L386.51,546.57 L386.38,546.76 L386.17,546.92 L385.87,547.02 L385.52,547.08 L385.17,547.10 L384.84,547.13 L384.53,547.18 L384.20,547.24 L383.80,547.30 L383.38,547.33 L383.02,547.30 L382.69,547.23 L382.40,547.13 L382.13,547.03 L381.87,546.92 L381.63,546.80 L381.43,546.66 L381.32,546.47 L381.30,546.27 L381.33,546.07 L381.33,545.89 L381.23,545.71 L381.01,545.50 L380.74,545.25 L380.50,544.98 L380.42,544.72 L380.53,544.49 L380.82,544.33 L381.20,544.23 L381.57,544.16 L381.88,544.09 L382.14,543.98 L382.38,543.85 L382.66,543.73 L383.00,543.66 L383.38,543.67 L383.80,543.74 L384.18,543.84 L384.48,543.93 L384.77,543.99 L385.07,544.02 L385.37,544.06 L385.67,544.12 L385.95,544.21 L386.18,544.34 L386.39,544.48 L386.57,544.65 L386.72,544.83 L386.83,545.03 L386.88,545.25Z" fill="#60d0f0"/></g>
</g>
<rect x="405.4" y="507.4" width="37.8" height="72.0" fill="#505050"/>
<g clip-path="url(#cFs4)">
<rect x="405.4" y="507.4" width="1.9" height="72.0" fill="#3a3a3a" filter="url(#bl1)"/>
<rect x="441.3" y="507.4" width="1.9" height="72.0" fill="#2c2c2c" filter="url(#bl1)"/>
<rect x="424.3" y="507.4" width="9.8" height="6.5" fill="#b0b0b0" filter="url(#bl1)"/>
<polygon points="424.3,513.2 435.6,513.2 442.4,517.5 442.4,530.4 433.8,529.0 426.2,527.6 423.5,521.8" fill="#6c6c6c" filter="url(#bl1)"/>
<ellipse cx="438.3" cy="520.4" rx="3.4" ry="3.2" fill="#e8e8e8" filter="url(#bl1)"/>
<polygon points="411.4,521.8 414.8,518.9 422.8,529.0 420.1,534.0" fill="#c8c8c8" filter="url(#bl1)"/>
<polygon points="421.3,526.1 428.1,523.2 435.6,524.7 440.6,530.4 442.1,539.8 441.7,552.0 439.4,562.1 435.6,567.9 428.8,570.8 422.4,569.3 417.9,563.6 416.4,550.6 417.1,537.6 419.0,530.4" fill="#e6e6e6" filter="url(#bl1)"/>
<ellipse cx="429.6" cy="547.0" rx="9.1" ry="18.0" fill="#fbfbfb" filter="url(#bl3)"/>
<polygon points="406.2,567.9 421.3,566.4 422.8,570.4 407.3,571.5" fill="#d0d0d0" filter="url(#bl1)"/>
<polygon points="423.5,569.3 433.4,568.6 431.1,579.4 427.3,579.4" fill="#888" filter="url(#bl1)"/>
<g filter="url(#bl1)"><path d="M438.53,547.70 L438.31,550.30 L437.96,552.02 L437.48,553.41 L436.92,554.56 L436.28,555.51 L435.64,556.35 L435.02,557.15 L434.44,557.99 L433.83,558.87 L433.11,559.69 L432.22,560.31 L431.13,560.57 L429.84,560.46 L428.10,560.07 L426.47,559.61 L425.38,559.28 L424.35,559.18 L423.29,559.23 L422.18,559.24 L421.13,559.01 L420.24,558.42 L419.57,557.48 L419.11,556.28 L418.77,554.95 L418.48,553.55 L418.21,552.03 L417.99,550.27 L417.92,547.70 L418.08,545.15 L418.46,543.48 L418.99,542.16 L419.57,541.07 L420.11,540.07 L420.59,539.10 L421.07,538.11 L421.62,537.18 L422.29,536.37 L423.11,535.76 L424.05,535.32 L425.11,535.00 L426.33,534.77 L428.10,534.63 L429.89,534.64 L431.12,534.87 L432.13,535.36 L432.97,536.05 L433.68,536.82 L434.34,537.56 L435.05,538.21 L435.83,538.83 L436.66,539.53 L437.43,540.44 L438.05,541.65 L438.44,543.17 L438.59,545.03Z" fill="#1818ec"/><path d="M436.15,546.10 L436.28,547.20 L436.14,548.05 L435.75,548.75 L435.22,549.32 L434.65,549.80 L434.10,550.25 L433.58,550.68 L433.05,551.10 L432.47,551.50 L431.81,551.85 L431.07,552.14 L430.23,552.36 L429.27,552.50 L428.00,552.54 L426.75,552.44 L425.82,552.23 L425.04,551.93 L424.35,551.61 L423.68,551.32 L422.98,551.08 L422.21,550.85 L421.42,550.57 L420.70,550.17 L420.13,549.61 L419.77,548.91 L419.61,548.11 L419.61,547.22 L419.70,546.10 L419.90,545.02 L420.20,544.23 L420.65,543.59 L421.23,543.08 L421.86,542.68 L422.46,542.33 L422.94,541.95 L423.32,541.46 L423.67,540.87 L424.13,540.26 L424.78,539.76 L425.64,539.48 L426.69,539.46 L428.00,539.61 L429.24,539.83 L430.18,539.98 L431.08,540.03 L432.00,540.06 L432.90,540.18 L433.67,540.49 L434.20,541.01 L434.49,541.69 L434.62,542.41 L434.74,543.09 L434.97,543.72 L435.35,544.34 L435.79,545.06Z" fill="#30c8f0"/><path d="M434.19,546.10 L434.25,546.83 L434.31,547.42 L434.22,547.96 L433.97,548.42 L433.57,548.80 L433.13,549.13 L432.73,549.47 L432.38,549.86 L432.01,550.29 L431.53,550.69 L430.89,550.97 L430.10,551.07 L429.19,551.00 L428.10,550.83 L427.08,550.66 L426.31,550.55 L425.57,550.51 L424.83,550.47 L424.13,550.35 L423.53,550.12 L423.06,549.77 L422.69,549.36 L422.36,548.93 L421.99,548.52 L421.57,548.08 L421.14,547.58 L420.82,546.96 L420.70,546.10 L420.84,545.24 L421.21,544.64 L421.75,544.17 L422.35,543.83 L422.95,543.56 L423.49,543.32 L423.97,543.09 L424.37,542.83 L424.74,542.50 L425.11,542.11 L425.56,541.67 L426.16,541.26 L426.96,540.97 L428.10,540.86 L429.25,540.95 L430.07,541.20 L430.74,541.50 L431.35,541.76 L432.00,541.93 L432.72,542.05 L433.46,542.20 L434.12,542.48 L434.54,542.92 L434.68,543.50 L434.57,544.14 L434.37,544.77 L434.22,545.38Z" fill="#90e040"/><path d="M431.45,545.50 L431.49,545.72 L431.49,545.95 L431.44,546.18 L431.35,546.40 L431.20,546.61 L431.02,546.79 L430.79,546.94 L430.55,547.06 L430.31,547.16 L430.05,547.25 L429.80,547.32 L429.53,547.37 L429.27,547.40 L429.00,547.40 L428.74,547.38 L428.47,547.34 L428.21,547.30 L427.94,547.27 L427.64,547.23 L427.35,547.16 L427.07,547.04 L426.84,546.88 L426.67,546.67 L426.56,546.44 L426.52,546.19 L426.51,545.95 L426.52,545.72 L426.55,545.50 L426.61,545.28 L426.69,545.08 L426.80,544.88 L426.91,544.70 L427.03,544.51 L427.15,544.32 L427.28,544.12 L427.43,543.93 L427.63,543.76 L427.88,543.64 L428.16,543.58 L428.45,543.57 L428.73,543.58 L429.00,543.59 L429.27,543.58 L429.56,543.55 L429.86,543.53 L430.17,543.56 L430.45,543.65 L430.69,543.81 L430.86,544.01 L430.98,544.24 L431.06,544.46 L431.13,544.68 L431.21,544.88 L431.30,545.08 L431.38,545.29Z" fill="#d8ec30"/><path d="M431.00,542.50 L430.96,542.61 L430.91,542.71 L430.85,542.80 L430.80,542.89 L430.77,542.98 L430.74,543.09 L430.69,543.19 L430.64,543.30 L430.55,543.38 L430.46,543.45 L430.35,543.49 L430.23,543.52 L430.12,543.54 L430.00,543.54 L429.88,543.53 L429.77,543.50 L429.66,543.47 L429.56,543.42 L429.45,543.37 L429.36,543.31 L429.27,543.23 L429.19,543.14 L429.15,543.04 L429.12,542.92 L429.11,542.81 L429.11,542.70 L429.09,542.60 L429.06,542.50 L429.03,542.39 L429.02,542.28 L429.03,542.16 L429.08,542.06 L429.15,541.96 L429.23,541.88 L429.31,541.81 L429.39,541.74 L429.47,541.66 L429.57,541.60 L429.67,541.55 L429.78,541.53 L429.89,541.53 L430.00,541.53 L430.11,541.52 L430.23,541.51 L430.35,541.50 L430.48,541.51 L430.59,541.56 L430.69,541.64 L430.75,541.75 L430.79,541.87 L430.82,541.98 L430.86,542.08 L430.91,542.18 L430.96,542.28 L430.99,542.39Z" fill="#c82010"/></g>
</g>
<rect x="445.6" y="507.4" width="37.6" height="72.0" fill="#505050"/>
<g clip-path="url(#cFs5)">
<rect x="445.6" y="507.4" width="1.9" height="72.0" fill="#3a3a3a" filter="url(#bl1)"/>
<rect x="481.3" y="507.4" width="1.9" height="72.0" fill="#2c2c2c" filter="url(#bl1)"/>
<rect x="464.4" y="507.4" width="9.8" height="6.5" fill="#b0b0b0" filter="url(#bl1)"/>
<polygon points="464.4,513.2 475.7,513.2 482.4,517.5 482.4,530.4 473.8,529.0 466.3,527.6 463.6,521.8" fill="#6c6c6c" filter="url(#bl1)"/>
<ellipse cx="478.3" cy="520.4" rx="3.4" ry="3.2" fill="#e8e8e8" filter="url(#bl1)"/>
<polygon points="451.6,521.8 455.0,518.9 462.9,529.0 460.3,534.0" fill="#c8c8c8" filter="url(#bl1)"/>
<polygon points="461.4,526.1 468.2,523.2 475.7,524.7 480.6,530.4 482.1,539.8 481.7,552.0 479.4,562.1 475.7,567.9 468.9,570.8 462.5,569.3 458.0,563.6 456.5,550.6 457.3,537.6 459.1,530.4" fill="#e6e6e6" filter="url(#bl1)"/>
<ellipse cx="469.7" cy="547.0" rx="9.0" ry="18.0" fill="#fbfbfb" filter="url(#bl3)"/>
<polygon points="446.4,567.9 461.4,566.4 462.9,570.4 447.5,571.5" fill="#d0d0d0" filter="url(#bl1)"/>
<polygon points="463.6,569.3 473.4,568.6 471.2,579.4 467.4,579.4" fill="#888" filter="url(#bl1)"/>
<g filter="url(#bl1)"><path d="M481.27,549.90 L480.93,552.04 L480.69,553.49 L480.58,554.83 L480.52,556.17 L480.37,557.47 L479.99,558.64 L479.32,559.56 L478.43,560.22 L477.41,560.69 L476.36,561.11 L475.30,561.57 L474.12,562.06 L472.71,562.45 L470.60,562.57 L468.51,562.31 L467.17,561.74 L466.12,561.04 L465.18,560.44 L464.17,560.08 L463.02,559.90 L461.75,559.71 L460.56,559.25 L459.68,558.36 L459.28,557.05 L459.35,555.46 L459.70,553.78 L460.08,552.07 L460.28,549.90 L460.22,547.76 L460.02,546.14 L459.88,544.60 L459.99,543.20 L460.46,542.04 L461.25,541.19 L462.23,540.63 L463.28,540.25 L464.30,539.91 L465.26,539.52 L466.22,539.02 L467.28,538.45 L468.58,537.87 L470.60,537.39 L472.76,537.09 L474.32,537.05 L475.66,537.31 L476.79,537.86 L477.72,538.62 L478.50,539.48 L479.19,540.38 L479.87,541.27 L480.53,542.20 L481.13,543.25 L481.54,544.49 L481.70,545.95 L481.58,547.63Z" fill="#1818ec"/><path d="M466.23,543.50 L466.13,543.68 L465.93,543.84 L465.66,543.96 L465.35,544.05 L465.09,544.12 L464.93,544.20 L464.88,544.35 L464.87,544.56 L464.84,544.82 L464.73,545.07 L464.49,545.25 L464.18,545.33 L463.83,545.32 L463.50,545.25 L463.19,545.18 L462.89,545.14 L462.58,545.11 L462.27,545.07 L461.99,544.98 L461.76,544.84 L461.62,544.66 L461.52,544.47 L461.42,544.30 L461.29,544.16 L461.10,544.02 L460.91,543.86 L460.79,543.69 L460.78,543.50 L460.89,543.32 L461.08,543.16 L461.27,543.02 L461.43,542.89 L461.55,542.75 L461.65,542.59 L461.77,542.43 L461.93,542.29 L462.15,542.18 L462.40,542.09 L462.66,542.02 L462.93,541.95 L463.21,541.89 L463.50,541.85 L463.81,541.83 L464.11,541.86 L464.40,541.92 L464.67,542.00 L464.93,542.10 L465.19,542.19 L465.45,542.30 L465.69,542.43 L465.89,542.58 L466.05,542.74 L466.16,542.93 L466.22,543.12 L466.25,543.31Z" fill="#60d8a0"/><path d="M467.83,547.00 L467.87,547.31 L467.90,547.64 L467.90,547.98 L467.86,548.31 L467.77,548.61 L467.64,548.87 L467.49,549.09 L467.34,549.29 L467.20,549.50 L467.04,549.70 L466.88,549.88 L466.69,550.00 L466.50,550.03 L466.30,549.98 L466.12,549.87 L465.94,549.73 L465.79,549.57 L465.63,549.42 L465.49,549.25 L465.36,549.06 L465.25,548.84 L465.15,548.60 L465.07,548.35 L465.00,548.09 L464.93,547.84 L464.87,547.57 L464.81,547.29 L464.76,547.00 L464.72,546.69 L464.71,546.37 L464.74,546.04 L464.80,545.74 L464.90,545.46 L465.03,545.23 L465.18,545.04 L465.33,544.86 L465.46,544.66 L465.58,544.40 L465.72,544.09 L465.88,543.78 L466.08,543.54 L466.30,543.47 L466.52,543.60 L466.70,543.93 L466.83,544.36 L466.91,544.79 L466.97,545.13 L467.05,545.34 L467.18,545.46 L467.34,545.55 L467.51,545.67 L467.65,545.87 L467.74,546.12 L467.78,546.41 L467.81,546.70Z" fill="#60d8a0"/><path d="M473.72,530.20 L473.65,530.38 L473.58,530.54 L473.52,530.71 L473.47,530.88 L473.42,531.06 L473.34,531.24 L473.21,531.39 L473.03,531.50 L472.82,531.57 L472.60,531.60 L472.39,531.61 L472.19,531.63 L471.99,531.65 L471.80,531.68 L471.60,531.70 L471.39,531.70 L471.19,531.68 L470.97,531.65 L470.76,531.60 L470.54,531.53 L470.33,531.43 L470.16,531.30 L470.03,531.14 L469.95,530.95 L469.92,530.76 L469.91,530.56 L469.91,530.38 L469.92,530.20 L469.93,530.02 L469.95,529.85 L470.02,529.68 L470.12,529.52 L470.26,529.38 L470.40,529.26 L470.56,529.15 L470.71,529.05 L470.86,528.94 L471.02,528.84 L471.20,528.76 L471.39,528.68 L471.59,528.62 L471.80,528.58 L472.02,528.54 L472.25,528.54 L472.48,528.57 L472.69,528.65 L472.87,528.77 L473.01,528.92 L473.13,529.08 L473.25,529.23 L473.37,529.37 L473.51,529.51 L473.63,529.66 L473.72,529.83 L473.75,530.01Z" fill="#1818ec"/></g>
</g>
<rect x="341.9" y="506.9" width="6.2" height="56.2" fill="url(#cbar)"/>
<line x1="348.1" y1="510.8" x2="349.1" y2="510.8" stroke="#555" stroke-width="0.4"/>
<text x="349.7" y="511.8" font-size="2.8" text-anchor="start" fill="#555" >2.5</text>
<line x1="348.1" y1="522.1" x2="349.1" y2="522.1" stroke="#555" stroke-width="0.4"/>
<text x="349.7" y="523.1" font-size="2.8" text-anchor="start" fill="#555" >2.0</text>
<line x1="348.1" y1="533.3" x2="349.1" y2="533.3" stroke="#555" stroke-width="0.4"/>
<text x="349.7" y="534.3" font-size="2.8" text-anchor="start" fill="#555" >1.5</text>
<line x1="348.1" y1="544.6" x2="349.1" y2="544.6" stroke="#555" stroke-width="0.4"/>
<text x="349.7" y="545.5" font-size="2.8" text-anchor="start" fill="#555" >1.0</text>
<line x1="348.1" y1="555.8" x2="349.1" y2="555.8" stroke="#555" stroke-width="0.4"/>
<text x="349.7" y="556.8" font-size="2.8" text-anchor="start" fill="#555" >0.5</text>
<text x="341.9" y="571.5" font-size="7.0" text-anchor="start" fill="#222" >p/sec</text>
<text x="341.9" y="579.2" font-size="7.0" text-anchor="start" fill="#222" >/cm<tspan font-size="4.2" dy="-2.4">2</tspan><tspan dy="2.4">/sr</tspan></text>
<rect x="485.3" y="507.4" width="2.8" height="56.3" fill="url(#cbar)"/>
<line x1="488.1" y1="511.9" x2="489.1" y2="511.9" stroke="#555" stroke-width="0.4"/>
<text x="489.7" y="512.8" font-size="2.6" text-anchor="start" fill="#555" >14</text>
<line x1="488.1" y1="519.8" x2="489.1" y2="519.8" stroke="#555" stroke-width="0.4"/>
<text x="489.7" y="520.7" font-size="2.6" text-anchor="start" fill="#555" >12</text>
<line x1="488.1" y1="527.7" x2="489.1" y2="527.7" stroke="#555" stroke-width="0.4"/>
<text x="489.7" y="528.6" font-size="2.6" text-anchor="start" fill="#555" >10</text>
<line x1="488.1" y1="535.5" x2="489.1" y2="535.5" stroke="#555" stroke-width="0.4"/>
<text x="489.7" y="536.5" font-size="2.6" text-anchor="start" fill="#555" >08</text>
<line x1="488.1" y1="543.4" x2="489.1" y2="543.4" stroke="#555" stroke-width="0.4"/>
<text x="489.7" y="544.3" font-size="2.6" text-anchor="start" fill="#555" >06</text>
<line x1="488.1" y1="551.3" x2="489.1" y2="551.3" stroke="#555" stroke-width="0.4"/>
<text x="489.7" y="552.2" font-size="2.6" text-anchor="start" fill="#555" >04</text>
<line x1="488.1" y1="559.2" x2="489.1" y2="559.2" stroke="#555" stroke-width="0.4"/>
<text x="489.7" y="560.1" font-size="2.6" text-anchor="start" fill="#555" >02</text>
<text x="484.8" y="572.0" font-size="7.0" text-anchor="start" fill="#222" >p/sec</text>
<text x="484.8" y="579.7" font-size="7.0" text-anchor="start" fill="#222" >/cm<tspan font-size="4.2" dy="-2.4">2</tspan><tspan dy="2.4">/sr</tspan></text>
<text x="501.2" y="538.0" font-size="8.0" text-anchor="start" fill="#222" >Left</text>
<text x="501.2" y="547.4" font-size="8.0" text-anchor="start" fill="#222" >Side</text>
<text x="501.2" y="557.0" font-size="8.0" text-anchor="start" fill="#222" >View</text>
</svg>
</body></html>
